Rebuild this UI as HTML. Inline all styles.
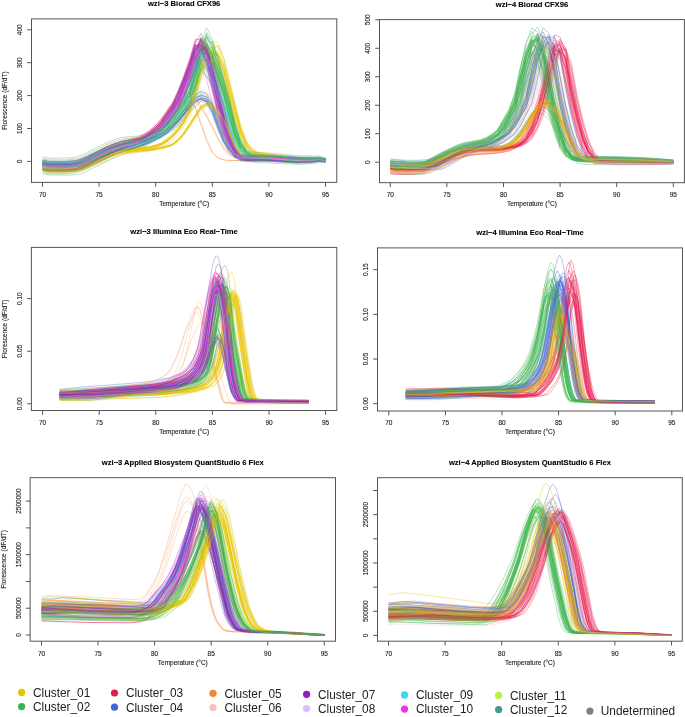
<!DOCTYPE html><html><head><meta charset="utf-8"><style>
html,body{margin:0;padding:0;background:#fff;}svg{display:block;will-change:transform}
.t{font-family:"Liberation Sans", sans-serif;font-size:6.5px;fill:#222;stroke:#222;stroke-width:0.12px}
.ti{font-family:"Liberation Sans", sans-serif;font-size:7.6px;font-weight:bold;fill:#000;stroke:#000;stroke-width:0.1px}
.lg{font-family:"Liberation Sans", sans-serif;font-size:11.85px;fill:#222}
</style></head><body>
<svg width="685" height="717" viewBox="0 0 685 717">
<rect width="685" height="717" fill="#fff"/>
<g transform="translate(42.5,161.4) scale(5.6600,-0.2500)" fill="none" stroke-linejoin="round">
<path d="M0-21l1-4 3 0 2 5 2 20 3 36 1 10 1 9 4 27 1 12 1 17 1 18 1 24 2 66 1 47 1 58 1 62 1 76 1 8 1-55 2-199 1-90 1-65 1-38 1-11 5-1 3-6 3-3 3 4 1-4" stroke="#911EB4" stroke-opacity="0.45" stroke-width="0.8" vector-effect="non-scaling-stroke"/>
<path d="M0-18l1-6 3 0 2 4 2 15 5 49 1 5 4 5 1 3 2 14 1 14 1 19 1 26 1 32 1 46 2 156 1 44 1 22 1-9 1-61 2-171 1-74 1-50 1-24 1-8 2-6 4-16 2-3 3 2 1-6" stroke="#E6C300" stroke-opacity="0.45" stroke-width="0.8" vector-effect="non-scaling-stroke"/>
<path d="M0-27l1-4 2 0 2 3 1 4 2 21 2 25 3 31 3 18 1 7 1 10 2 27 1 17 1 20 3 97 1 58 1 104 1 75 1-16 1-64 2-157 1-102 1-70 1-41 1-20 1-4 8-11 4 4 1-4" stroke="#3CB44B" stroke-opacity="0.45" stroke-width="0.8" vector-effect="non-scaling-stroke"/>
<path d="M0-23l1-2 2 0 2 2 1 4 2 16 1 10 4 31 4 18 2 18 2 24 1 15 2 47 1 27 1 48 1 75 1 51 1-20 1-49 2-118 1-74 1-50 1-28 1-12 1-3 7-7 2 0 2 3 1 0 1-3" stroke="#469990" stroke-opacity="0.45" stroke-width="0.8" vector-effect="non-scaling-stroke"/>
<path d="M0-28l1-3 3 0 2 5 1 8 4 41 2 18 4 21 2 16 2 22 1 16 1 20 1 24 2 55 1 22 1 5 1-14 1-44 1-62 1-53 1-34 1-20 1-6 1-1 3 0 6-8 4 4 1-4" stroke="#42D4F4" stroke-opacity="0.45" stroke-width="0.8" vector-effect="non-scaling-stroke"/>
<path d="M0-17l4 1 1 2 1 6 4 42 2 18 1 7 3 16 1 8 2 29 1 18 1 26 1 30 1 35 2 104 1 62 1 45 1-31 1-74 2-181 1-67 1-43 1-19 1-3 4 0 6-9 3 3 1-4 1-1" stroke="#F032E6" stroke-opacity="0.45" stroke-width="0.8" vector-effect="non-scaling-stroke"/>
<path d="M0-38l1-5 3 0 2 5 2 16 5 50 1 5 3 8 2 8 1 7 1 10 1 15 1 22 1 27 1 35 1 49 2 160 1 44 1 19 1-14 1-68 2-178 1-75 1-50 1-22 1-7 5-19 2-4 4 3 1-4" stroke="#E6C300" stroke-opacity="0.45" stroke-width="0.8" vector-effect="non-scaling-stroke"/>
<path d="M0-33l1-6 4 0 1 3 1 6 5 55 2 18 4 27 2 25 2 32 1 23 2 62 1 37 2 168 1 45 1-44 1-70 1-72 2-172 1-57 1-30 1-10 1-3 7-8 3 2 1 4 1-3" stroke="#3CB44B" stroke-opacity="0.45" stroke-width="0.8" vector-effect="non-scaling-stroke"/>
<path d="M0-19l2-6 3 0 2 5 5 55 2 19 1 7 3 15 2 21 2 29 1 19 1 28 2 63 1 51 1 100 1 74 1-8 1-58 2-149 1-97 1-69 1-42 1-20 1-4 8-11 4 4" stroke="#3CB44B" stroke-opacity="0.45" stroke-width="0.8" vector-effect="non-scaling-stroke"/>
<path d="M0-19l1-5 1-1 2 0 2 4 1 7 4 41 2 18 1 7 3 14 1 8 2 21 2 29 1 23 2 56 1 37 2 159 1 25 1-46 2-131 2-156 1-47 1-25 1-6 2-4 7-7 2 1 1 3 1-4" stroke="#BFEF45" stroke-opacity="0.45" stroke-width="0.8" vector-effect="non-scaling-stroke"/>
<path d="M0-2l1-3 3 0 2 5 5 50 2 18 1 5 3 9 3 21 1 11 1 15 1 19 1 24 1 29 2 47 1 3 1-15 1-44 1-62 1-50 1-33 1-18 1-5 5-1 4-8 5-2 1-5" stroke="#4363D8" stroke-opacity="0.45" stroke-width="0.8" vector-effect="non-scaling-stroke"/>
<path d="M0-40l1-8 3 0 2 4 2 15 5 52 1 7 5 17 2 16 1 15 1 20 1 27 1 34 1 45 1 77 1 86 1 52 1 25 1-2 1-57 3-266 1-57 1-29 1-10 2-7 2-10 2-6 2-2 3 4 1-4" stroke="#E6C300" stroke-opacity="0.45" stroke-width="0.8" vector-effect="non-scaling-stroke"/>
<path d="M0 10l2-5 3 0 2 5 2 16 2 19 2 15 2 10 3 9 2 20 1 14 1 18 2 50 1 37 1 44 1 47 1 57 1-7 1-47 2-151 1-64 1-44 1-24 1-6 5 0 4-8 5-3" stroke="#DCBEFF" stroke-opacity="0.45" stroke-width="0.8" vector-effect="non-scaling-stroke"/>
<path d="M0-16l1-2 3 0 1 2 1 5 1 9 3 35 2 21 2 15 3 18 1 13 1 16 1 18 1 26 2 66 1 50 1 57 1 61 1 74 1-9 1-62 2-199 1-84 1-59 1-32 1-8 5 0 4-8 3-1 2 2 1-4" stroke="#E6194B" stroke-opacity="0.45" stroke-width="0.8" vector-effect="non-scaling-stroke"/>
<path d="M0-4l1-5 3 0 2 3 1 7 4 39 2 16 1 6 3 13 1 9 2 26 1 18 1 26 1 27 1 35 2 98 1 62 1 29 1-34 1-76 2-166 1-59 1-37 1-15 5-1 6-9 2 0 1 2 1-5" stroke="#FABEBE" stroke-opacity="0.45" stroke-width="0.8" vector-effect="non-scaling-stroke"/>
<path d="M0-30l2-6 3 0 2 5 6 60 5 37 2 28 1 18 1 22 2 62 1 44 1 53 1 56 1 69 1 3 1-52 2-183 1-82 1-58 1-34 1-9 5-1 4-6 2 0 3 6" stroke="#DCBEFF" stroke-opacity="0.45" stroke-width="0.8" vector-effect="non-scaling-stroke"/>
<path d="M0-31l1-3 3 0 2 6 2 17 5 52 4 9 2 7 1 7 1 11 1 16 1 23 1 29 1 38 1 54 1 89 1 73 1 39 1 17 1-23 1-79 2-183 1-69 1-46 1-18 1-6 5-20 2-4 3 2 1-1 1-4" stroke="#E6C300" stroke-opacity="0.45" stroke-width="0.8" vector-effect="non-scaling-stroke"/>
<path d="M0-18l1-7 4 0 1 3 1 7 4 48 2 21 2 16 2 10 1 7 2 25 2 33 1 24 2 66 1 40 1 85 1 97 1 49 1-46 1-75 1-77 2-185 1-62 1-32 1-11 2-5 7-9 2 1 1 3 1-3" stroke="#3CB44B" stroke-opacity="0.4" stroke-width="0.8" vector-effect="non-scaling-stroke"/>
<path d="M0 4l1-7 3 0 2 4 1 7 4 46 2 20 1 7 3 10 1 5 2 15 1 11 1 15 1 19 1 24 2 61 1 26 1 15 1-10 1-35 2-127 1-43 1-28 1-9 1-2 5-2 5-11 2 0 1 2 1-7" stroke="#4363D8" stroke-opacity="0.45" stroke-width="0.8" vector-effect="non-scaling-stroke"/>
<path d="M0-26l1-7 3 0 2 4 1 7 4 47 2 21 4 30 1 11 2 34 1 22 1 32 1 34 1 42 2 120 1 72 1 49 1-36 1-87 2-209 1-77 1-50 1-22 1-4 4 0 5-8 3 2 1 3 1-4" stroke="#FABEBE" stroke-opacity="0.45" stroke-width="0.8" vector-effect="non-scaling-stroke"/>
<path d="M0-10l1-2 3 0 1 2 1 5 2 20 3 35 1 9 1 8 4 24 1 12 1 15 1 18 1 25 2 66 1 49 1 57 1 60 1 72 1-12 1-62 2-196 1-82 1-57 1-31 1-7 5 0 5-9 2 0 1 2 1-1 1-5" stroke="#E6194B" stroke-opacity="0.45" stroke-width="0.8" vector-effect="non-scaling-stroke"/>
<path d="M0-15l1-5 4-1 1 2 1 5 2 20 2 23 2 19 2 15 2 11 1 8 1 13 1 16 1 18 1 25 2 65 1 49 1 56 2 127 1-17 1-64 2-192 1-78 1-53 1-29 1-6 5 0 1-3 4-5 3 3 1-2" stroke="#4363D8" stroke-opacity="0.45" stroke-width="0.8" vector-effect="non-scaling-stroke"/>
<path d="M0 10l1-5 3 0 2 5 1 9 4 45 2 19 1 6 3 8 2 16 1 11 1 14 1 16 1 26 2 59 1 46 1 98 1 78 1 6 1-55 2-143 1-93 1-72 1-44 1-23 2-6 7-12 3-2 1 1 1-7" stroke="#3CB44B" stroke-opacity="0.45" stroke-width="0.8" vector-effect="non-scaling-stroke"/>
<path d="M0-8l1-6 3-1 2 3 1 6 4 44 2 19 2 13 2 8 1 6 1 9 2 25 1 15 1 21 2 58 1 36 1 74 1 88 1 48 1-40 1-65 1-69 2-166 1-56 1-30 1-11 2-4 7-9 2 0 1 2 1-3" stroke="#BFEF45" stroke-opacity="0.45" stroke-width="0.8" vector-effect="non-scaling-stroke"/>
<path d="M0-15l1-1 1-5 3 0 2 5 1 8 5 57 2 16 3 18 1 12 1 16 1 17 1 23 2 65 1 45 1 57 1 61 1 75 1 18 1-49 3-289 1-66 1-40 1-13 5-1 2-5 4-5 3 4" stroke="#4363D8" stroke-opacity="0.45" stroke-width="0.8" vector-effect="non-scaling-stroke"/>
<path d="M0-2l1-3 3 0 2 6 2 19 4 44 2 14 3 15 1 11 2 31 1 23 2 63 1 46 1 55 1 59 1 74 1 1 1-56 2-191 1-84 1-60 1-34 1-8 5-1 5-10 4 1 1-6" stroke="#E6194B" stroke-opacity="0.45" stroke-width="0.8" vector-effect="non-scaling-stroke"/>
<path d="M0 6l1-6 3 0 2 4 1 7 4 43 2 19 1 6 3 13 1 8 2 28 1 19 1 28 1 30 1 38 2 109 1 68 1 37 1-37 1-82 2-186 1-67 1-41 1-17 1-2 4 0 6-11 3 1 1-6" stroke="#911EB4" stroke-opacity="0.45" stroke-width="0.8" vector-effect="non-scaling-stroke"/>
<path d="M0-25l1-5 1-2 2 0 2 3 1 5 2 19 4 42 2 15 3 15 2 18 1 10 1 14 1 17 1 22 1 26 1 31 1 26 1 20 1-1 1-21 1-52 1-67 1-49 1-31 1-16 1-5 5-1 1-3 4-5 3 4 1-1" stroke="#3CB44B" stroke-opacity="0.45" stroke-width="0.8" vector-effect="non-scaling-stroke"/>
<path d="M0-33l1-5 3 0 1 1 1 4 1 6 1 9 5 51 1 5 2 4 3 10 1 6 1 10 1 15 1 21 1 27 1 35 1 48 2 160 1 44 1 21 1-12 1-67 2-178 1-75 1-51 1-23 1-7 4-16 2-6 2-2 3 3 1-5" stroke="#E6C300" stroke-opacity="0.45" stroke-width="0.8" vector-effect="non-scaling-stroke"/>
<path d="M0-22l1-4 3 0 2 5 2 21 4 47 1 9 4 27 1 13 1 17 1 19 1 24 2 68 1 48 1 59 1 63 1 78 1 12 1-54 3-298 1-67 1-40 1-13 4 0 6-9 2 0 2 3 1-4" stroke="#F032E6" stroke-opacity="0.45" stroke-width="0.8" vector-effect="non-scaling-stroke"/>
<path d="M0-5l1-6 4 0 2 8 5 55 1 9 2 13 2 10 1 8 2 28 1 19 1 27 2 66 2 109 2 124 1-26 1-71 2-195 1-75 1-50 1-25 1-4 4 0 4-8 2-2 2 0 1 2 1-3" stroke="#F032E6" stroke-opacity="0.45" stroke-width="0.8" vector-effect="non-scaling-stroke"/>
<path d="M0-4l1-5 3 0 2 4 1 6 4 38 2 15 1 6 3 10 1 6 3 30 1 14 1 20 2 50 1 35 1 78 1 67 1 15 1-42 2-119 1-75 1-64 1-40 1-21 1-5 5-5 3-5 4 1 1-5" stroke="#469990" stroke-opacity="0.45" stroke-width="0.8" vector-effect="non-scaling-stroke"/>
<path d="M0-18l1-3 3 0 2 6 1 9 4 45 2 18 4 25 2 28 1 18 1 24 2 64 1 47 1 56 1 60 1 74 1 0 1-56 2-194 1-85 1-61 1-34 1-10 5 0 5-9 4 3 1-4" stroke="#911EB4" stroke-opacity="0.45" stroke-width="0.8" vector-effect="non-scaling-stroke"/>
<path d="M0-21l1-5 4 0 1 3 1 6 2 18 1 11 3 25 2 13 2 9 1 7 2 20 2 27 1 21 2 52 1 34 2 146 1 29 1-41 2-122 2-146 1-45 1-24 1-7 1-2 8-8 3 4 1-3" stroke="#469990" stroke-opacity="0.45" stroke-width="0.8" vector-effect="non-scaling-stroke"/>
<path d="M0-20l1-7 3 0 2 4 2 14 5 50 1 5 5 10 1 5 1 8 1 13 1 19 1 25 1 31 1 44 2 156 1 48 1 24 1-2 1-55 3-250 1-53 1-27 1-9 5-20 3-6 3 2 1-6" stroke="#E6C300" stroke-opacity="0.45" stroke-width="0.8" vector-effect="non-scaling-stroke"/>
<path d="M0-28l1-6 3-1 2 4 1 6 4 48 2 21 1 9 4 27 2 26 1 15 1 18 1 24 2 66 1 39 1 84 1 96 1 49 1-46 1-74 1-76 2-184 1-62 1-32 1-11 1-3 8-10 2 2 1 4 1-3" stroke="#3CB44B" stroke-opacity="0.45" stroke-width="0.8" vector-effect="non-scaling-stroke"/>
<path d="M0-16l2-5 3 0 2 5 1 8 5 50 1 8 4 23 2 26 1 16 1 22 2 59 1 43 1 51 1 54 1 68 1 1 1-51 2-177 1-78 1-56 1-31 1-9 1-1 3 1 6-8 2 0 2 3" stroke="#DCBEFF" stroke-opacity="0.45" stroke-width="0.8" vector-effect="non-scaling-stroke"/>
<path d="M0-22l1-3 3 0 2 5 7 71 1 7 3 14 1 7 2 19 1 12 2 37 1 26 1 31 2 51 1 5 1-14 1-46 1-67 1-55 1-36 1-22 1-6 5-1 2-5 3-4 2 0 2 3 1-5" stroke="#911EB4" stroke-opacity="0.45" stroke-width="0.8" vector-effect="non-scaling-stroke"/>
<path d="M0-5l1-5 3 0 2 4 2 18 2 23 3 30 1 6 3 11 2 13 1 9 1 11 1 15 1 19 1 24 2 58 1 25 1 11 1-11 1-39 2-122 1-39 1-25 1-7 1-2 4 0 6-11 3 2 1-6" stroke="#3CB44B" stroke-opacity="0.45" stroke-width="0.8" vector-effect="non-scaling-stroke"/>
<path d="M0-49l1-5 4-1 1 2 1 5 5 55 2 20 4 32 1 12 2 29 2 39 2 63 1 35 1 65 1 96 1 65 1-29 1-66 1-76 1-80 1-97 1-65 1-36 1-16 1-3 8-7 4 9" stroke="#3CB44B" stroke-opacity="0.45" stroke-width="0.8" vector-effect="non-scaling-stroke"/>
<path d="M0 2l2-6 3 0 2 6 1 8 4 40 2 16 1 5 3 8 2 13 2 20 1 15 1 19 1 23 1 28 2 45 1 2 1-16 1-44 1-62 1-47 1-30 1-16 1-5 5-1 4-9 5-2" stroke="#4363D8" stroke-opacity="0.45" stroke-width="0.8" vector-effect="non-scaling-stroke"/>
<path d="M0-25l1-2 3 0 2 5 5 44 3 20 3 14 2 18 2 24 1 16 3 74 1 49 1 76 1 53 1-20 1-50 2-119 1-76 1-50 1-29 1-13 1-3 7-7 2 0 2 3 1 0 1-3" stroke="#469990" stroke-opacity="0.45" stroke-width="0.8" vector-effect="non-scaling-stroke"/>
<path d="M0-20l1-7 3 0 2 4 2 14 5 50 1 6 3 4 2 5 2 14 1 13 1 20 1 25 1 32 1 45 2 158 1 48 1 23 1-4 1-57 2-173 1-79 1-53 1-26 1-9 5-20 3-6 3 2 1-6" stroke="#E6C300" stroke-opacity="0.45" stroke-width="0.8" vector-effect="non-scaling-stroke"/>
<path d="M0-6l1-7 3 0 2 4 1 7 4 42 2 18 1 7 3 11 3 21 1 10 1 15 1 18 1 22 2 56 1 24 1 14 1-9 1-32 2-118 1-40 1-26 1-9 1-2 4 0 6-11 3 3 1-6" stroke="#4363D8" stroke-opacity="0.45" stroke-width="0.8" vector-effect="non-scaling-stroke"/>
<path d="M0-22l1-4 3 0 2 5 1 9 3 35 2 21 2 17 2 12 1 8 1 12 1 16 1 19 1 23 2 66 1 46 1 58 1 62 1 76 1 15 1-51 3-292 1-66 1-40 1-13 5-1 5-9 4 4 1-5" stroke="#911EB4" stroke-opacity="0.45" stroke-width="0.8" vector-effect="non-scaling-stroke"/>
<path d="M0-18l1-5 3 0 2 5 1 7 3 32 2 20 1 8 1 7 3 13 3 24 1 12 1 15 1 19 1 23 1 30 2 51 1 9 1-12 1-39 2-118 1-37 1-24 1-7 1-2 4 0 6-9 3 4 1-5" stroke="#911EB4" stroke-opacity="0.45" stroke-width="0.8" vector-effect="non-scaling-stroke"/>
<path d="M0-12l1-5 4-1 1 2 1 5 2 20 2 23 2 19 2 14 3 14 1 9 2 25 1 15 1 19 2 58 1 32 1 62 1 92 1 63 1-27 1-62 1-71 1-75 1-90 1-61 1-34 1-14 2-5 7-9 2 0 1 2 1-1" stroke="#3CB44B" stroke-opacity="0.45" stroke-width="0.8" vector-effect="non-scaling-stroke"/>
<path d="M0-21l1-6 3 0 2 5 1 8 6 66 3 25 2 25 1 17 1 21 4 124 1 8 1-2 1-22 2-70 2-89 1-39 1-26 1-9 1-3 4-1 6-9 2 0 2 4 1-5" stroke="#F58231" stroke-opacity="0.45" stroke-width="0.8" vector-effect="non-scaling-stroke"/>
<path d="M0-7l1-6 3-1 2 4 1 6 2 22 2 25 2 21 1 8 3 16 1 9 2 31 1 21 1 28 2 72 2 117 2 131 1-29 1-78 2-208 1-80 1-53 1-25 1-5 4 0 4-8 3-3 2 3 1-4" stroke="#911EB4" stroke-opacity="0.45" stroke-width="0.8" vector-effect="non-scaling-stroke"/>
<path d="M0 2l1-4 3 0 2 4 1 7 4 37 2 14 1 5 3 9 1 5 1 8 2 21 1 14 1 21 2 48 1 38 1 79 1 61 1 1 1-44 2-117 1-75 1-56 1-34 1-18 1-4 5-5 3-5 4 0 1-5" stroke="#469990" stroke-opacity="0.45" stroke-width="0.8" vector-effect="non-scaling-stroke"/>
<path d="M0-17l1-6 3 0 2 5 1 8 5 56 1 9 4 26 1 11 2 33 1 22 1 31 1 33 1 43 2 117 1 73 1 26 1-45 3-286 1-68 1-42 1-15 4-1 6-9 2 0 2 3 1-5" stroke="#911EB4" stroke-opacity="0.45" stroke-width="0.8" vector-effect="non-scaling-stroke"/>
<path d="M0-22l1-8 4 0 1 3 2 14 5 53 1 7 5 11 1 5 1 8 1 13 1 19 1 26 1 31 1 44 1 70 1 92 1 59 1 30 1 7 1-47 3-272 1-61 1-34 1-13 2-7 3-14 2-6 1-1 3 2 1-5" stroke="#E6C300" stroke-opacity="0.45" stroke-width="0.8" vector-effect="non-scaling-stroke"/>
<path d="M0-19l1-6 3 0 2 4 1 7 3 35 3 30 2 13 2 10 1 8 1 11 2 27 1 17 1 25 2 61 1 42 1 92 1 82 1 22 1-51 2-144 1-91 1-78 1-50 1-26 1-7 1-2 7-9 3 1 1 3 1-5" stroke="#3CB44B" stroke-opacity="0.45" stroke-width="0.8" vector-effect="non-scaling-stroke"/>
<path d="M0-14l1-6 3 0 2 4 1 8 5 58 2 17 3 18 1 11 1 15 1 18 1 22 2 65 1 42 2 119 1 74 1 39 1-40 1-91 2-204 1-73 1-46 1-18 1-3 4 0 4-8 2-2 2 1 1 3 1-6" stroke="#E6194B" stroke-opacity="0.45" stroke-width="0.8" vector-effect="non-scaling-stroke"/>
<path d="M0-7l1-6 3 0 2 3 1 7 4 46 2 19 1 8 3 13 1 6 2 22 2 30 1 23 2 61 1 39 2 172 1 41 1-46 2-142 2-172 1-56 1-29 1-9 1-3 8-11 2 0 1 3 1-5" stroke="#3CB44B" stroke-opacity="0.45" stroke-width="0.8" vector-effect="non-scaling-stroke"/>
<path d="M0-22l1-8 3 0 2 3 1 5 2 18 4 40 1 7 5 10 1 5 1 8 1 12 1 17 1 25 1 30 1 40 1 66 1 86 1 56 1 28 1 6 1-44 3-254 1-58 1-32 1-12 5-20 3-6 3 2 1-4" stroke="#E6C300" stroke-opacity="0.45" stroke-width="0.8" vector-effect="non-scaling-stroke"/>
<path d="M0-18l1-6 3 0 2 4 2 16 2 22 3 29 1 7 3 13 3 24 1 10 1 15 1 19 1 22 1 29 2 52 1 12 1-9 1-34 2-118 1-40 1-26 1-8 1-3 4 0 5-8 2 0 2 3 1-5" stroke="#911EB4" stroke-opacity="0.45" stroke-width="0.8" vector-effect="non-scaling-stroke"/>
<path d="M0-10l2-6 4 2 1 4 6 60 2 15 1 4 2 12 2 26 1 17 1 22 2 61 1 44 2 110 1 71 1 3 1-52 2-185 1-81 1-59 1-33 1-9 5-1 5-9 4 2" stroke="#4363D8" stroke-opacity="0.45" stroke-width="0.8" vector-effect="non-scaling-stroke"/>
<path d="M0-23l2-6 3 0 2 6 1 9 3 35 2 21 2 17 3 21 1 13 1 17 1 18 1 25 2 67 1 49 1 58 1 62 1 76 1 0 1-58 2-200 1-89 1-63 1-36 1-10 5 0 4-8 2 0 3 4" stroke="#911EB4" stroke-opacity="0.45" stroke-width="0.8" vector-effect="non-scaling-stroke"/>
<path d="M0-30l1-5 4-1 2 8 4 44 2 20 1 9 2 13 2 18 2 31 1 20 1 28 1 32 1 37 2 110 2 128 1-24 1-70 2-199 1-79 1-53 1-28 1-5 4 0 5-7 2 0 2 5 1-1" stroke="#4363D8" stroke-opacity="0.45" stroke-width="0.8" vector-effect="non-scaling-stroke"/>
<path d="M0-32l1-6 3 0 2 4 1 8 4 47 1 10 2 18 3 22 1 12 2 35 1 23 1 32 1 34 1 44 2 119 1 74 1 31 1-44 3-293 1-71 1-44 1-17 1-2 4 0 5-8 2 1 2 5 1-4" stroke="#911EB4" stroke-opacity="0.45" stroke-width="0.8" vector-effect="non-scaling-stroke"/>
<path d="M0-13l1-6 3 0 2 3 1 7 5 57 2 17 3 18 1 10 2 32 1 21 1 30 1 33 1 40 2 116 1 72 1 43 1-37 1-85 2-201 1-73 1-47 1-19 1-3 4 0 4-8 2-2 2 1 1 3 1-5" stroke="#911EB4" stroke-opacity="0.45" stroke-width="0.8" vector-effect="non-scaling-stroke"/>
<path d="M0-14l1-7 3 0 2 3 1 5 1 8 5 49 1 6 5 7 2 12 1 11 1 17 1 24 1 30 1 40 1 66 1 83 1 54 1 27 1 6 1-45 3-248 1-56 1-30 1-12 4-16 3-9 4 0 1-5" stroke="#E6C300" stroke-opacity="0.45" stroke-width="0.8" vector-effect="non-scaling-stroke"/>
<path d="M0 3l2-6 3 0 2 6 1 9 3 33 2 19 2 12 3 10 1 8 1 10 2 26 1 17 3 85 1 55 1 92 1 67 1-18 1-57 2-139 1-90 1-61 1-35 1-17 1-4 3-3 5-9 4-1" stroke="#3CB44B" stroke-opacity="0.45" stroke-width="0.8" vector-effect="non-scaling-stroke"/>
<path d="M0-7l2-6 3 0 2 4 2 19 3 33 2 18 1 6 3 12 1 8 1 10 2 26 1 17 1 25 2 59 1 44 1 95 1 75 1 5 1-52 2-140 1-91 1-70 1-43 1-22 1-5 1-2 4-4 2-4 2-2 3 2" stroke="#3CB44B" stroke-opacity="0.45" stroke-width="0.8" vector-effect="non-scaling-stroke"/>
<path d="M0-29l4-1 2 6 2 18 1 11 3 26 2 13 3 16 2 20 2 26 1 18 2 52 1 30 1 58 1 80 1 51 1-28 1-55 1-63 1-68 1-79 1-53 1-29 1-12 1-2 8-8 2 1 1 3 2-3" stroke="#42D4F4" stroke-opacity="0.45" stroke-width="0.8" vector-effect="non-scaling-stroke"/>
<path d="M0-11l2-6 3 0 2 4 2 19 4 44 2 15 3 17 2 26 1 17 1 22 2 63 1 43 1 55 1 59 1 72 1 18 1-48 3-278 1-63 1-39 1-13 5-1 5-9 4 2" stroke="#4363D8" stroke-opacity="0.45" stroke-width="0.8" vector-effect="non-scaling-stroke"/>
<path d="M0-13l1-6 1-2 2 0 1 1 2 8 4 50 2 21 2 16 2 9 1 7 2 24 2 32 1 23 2 66 1 38 1 78 1 102 1 62 1-39 1-73 2-167 1-100 1-66 1-35 1-14 1-3 7-11 3-1 1 3 1-3" stroke="#3CB44B" stroke-opacity="0.45" stroke-width="0.8" vector-effect="non-scaling-stroke"/>
<path d="M0-14l2-6 2 0 2 3 1 4 2 19 2 22 3 26 4 19 2 20 2 26 1 18 2 55 1 31 1 58 1 87 1 59 1-26 1-58 1-67 1-71 1-85 1-57 1-32 1-14 1-3 8-9 2 0 1 2 1-1" stroke="#3CB44B" stroke-opacity="0.45" stroke-width="0.8" vector-effect="non-scaling-stroke"/>
<path d="M0-8l1-5 4-1 2 8 2 20 3 34 1 9 1 8 3 16 1 8 1 13 1 16 1 18 1 26 2 66 2 108 2 128 1-22 1-68 2-195 1-77 1-53 1-27 1-5 4 0 5-9 2-1 2 3 1-3" stroke="#911EB4" stroke-opacity="0.45" stroke-width="0.8" vector-effect="non-scaling-stroke"/>
<path d="M0-5l1-5 1-2 3 1 2 6 5 55 1 9 1 8 3 16 1 7 1 12 1 16 1 18 1 24 2 65 1 49 1 57 1 60 1 73 1-11 1-62 2-195 1-82 1-57 1-31 1-7 4 0 7-11 2 2 1-1" stroke="#E6194B" stroke-opacity="0.45" stroke-width="0.8" vector-effect="non-scaling-stroke"/>
<path d="M0-10l1-6 3 0 2 4 1 6 4 47 2 20 4 24 1 10 2 32 1 20 1 30 1 33 1 40 2 116 1 70 1 47 1-36 1-84 2-202 1-73 1-48 1-20 1-3 4 0 4-8 2-2 3 3 1-5" stroke="#911EB4" stroke-opacity="0.45" stroke-width="0.8" vector-effect="non-scaling-stroke"/>
<path d="M0-11l1-6 3 0 2 3 2 16 4 41 2 15 3 16 1 9 2 28 1 19 1 26 1 29 1 36 2 103 1 62 1 44 1-32 1-74 2-180 1-66 1-43 1-18 1-3 4-1 6-8 3 3 1-4" stroke="#FABEBE" stroke-opacity="0.45" stroke-width="0.8" vector-effect="non-scaling-stroke"/>
<path d="M0-27l1-8 3 0 2 4 1 6 1 9 5 53 1 6 4 9 1 4 1 6 1 9 1 14 1 20 1 28 1 33 1 47 2 166 1 52 1 26 1-3 1-59 3-268 1-57 1-29 1-10 5-20 2-6 4 2 1-5" stroke="#E6C300" stroke-opacity="0.45" stroke-width="0.8" vector-effect="non-scaling-stroke"/>
<path d="M0-35l1-7 4 0 1 3 1 6 1 10 3 36 3 32 4 26 2 21 1 12 1 16 1 21 1 25 3 93 1 21 1-5 1-28 1-60 1-75 1-52 1-34 1-16 1-5 4 0 5-8 2 0 2 6 1-2" stroke="#FABEBE" stroke-opacity="0.45" stroke-width="0.8" vector-effect="non-scaling-stroke"/>
<path d="M0-15l1-6 3 0 1 1 1 4 1 8 4 49 2 21 4 27 1 12 1 16 1 19 1 23 2 68 1 46 1 60 1 65 1 78 1 35 1-45 1-97 2-212 1-74 1-47 1-18 1-2 4 0 5-10 2 0 2 3 1-5" stroke="#911EB4" stroke-opacity="0.45" stroke-width="0.8" vector-effect="non-scaling-stroke"/>
<path d="M0-7l1-7 3 0 2 4 1 6 4 45 2 19 1 7 3 13 1 6 2 22 2 29 1 23 2 59 1 38 2 169 1 35 1-46 2-139 2-166 1-53 1-27 1-9 1-2 8-11 3 3 1-5" stroke="#3CB44B" stroke-opacity="0.45" stroke-width="0.8" vector-effect="non-scaling-stroke"/>
<path d="M0-8l1-5 3 0 2 5 1 9 4 46 2 19 2 11 2 8 1 8 2 23 1 15 1 17 1 27 2 61 1 48 1 99 1 77 1 2 1-56 2-147 1-95 1-72 1-43 1-23 2-6 3-3 4-7 1-1 3 2 1-5" stroke="#3CB44B" stroke-opacity="0.45" stroke-width="0.8" vector-effect="non-scaling-stroke"/>
<path d="M0-11l1-5 1-2 2 0 2 3 1 6 4 47 3 30 4 21 2 23 1 14 1 17 1 21 2 64 1 37 1 73 1 100 1 63 1-36 1-70 2-161 1-97 1-65 1-35 1-15 8-13 3-1 1 2 1-2" stroke="#3CB44B" stroke-opacity="0.45" stroke-width="0.8" vector-effect="non-scaling-stroke"/>
<path d="M0-19l1-6 3 0 2 4 2 18 3 34 2 19 1 8 3 18 1 11 2 32 1 22 1 30 1 32 1 41 2 114 1 71 1 31 1-41 1-88 2-192 1-67 1-43 1-16 1-3 4 0 5-8 4 4 1-5" stroke="#911EB4" stroke-opacity="0.45" stroke-width="0.8" vector-effect="non-scaling-stroke"/>
<path d="M0-23l1-8 3 0 2 5 1 7 6 60 1 5 5 4 1 3 2 10 1 9 1 18 1 26 3 106 1 14 1-6 1-22 1-37 2-107 1-35 1-7 1-2 3-2 5-10 3 0 1 3 1-6" stroke="#E6C300" stroke-opacity="0.45" stroke-width="0.8" vector-effect="non-scaling-stroke"/>
<path d="M0-23l1-7 1-1 2 0 2 4 1 6 5 48 2 14 5 5 2 7 2 12 1 16 1 23 3 100 1 19 1-2 1-19 1-32 1-45 1-57 1-38 1-9 1-3 4-3 5-9 3 3 1-3" stroke="#E6C300" stroke-opacity="0.45" stroke-width="0.8" vector-effect="non-scaling-stroke"/>
<path d="M0-17l1-3 3 0 2 6 1 9 5 56 2 15 3 19 2 28 1 18 1 24 2 66 1 47 1 58 1 61 1 75 1 4 1-56 2-198 1-88 1-63 1-36 1-10 5-1 5-9 2 0 2 3 1-5" stroke="#4363D8" stroke-opacity="0.45" stroke-width="0.8" vector-effect="non-scaling-stroke"/>
<path d="M0-16l1-6 3 0 2 4 1 7 1 10 4 44 2 16 3 17 1 11 2 31 1 21 1 29 1 31 1 40 2 111 1 69 1 35 1-38 1-85 2-190 1-67 1-43 1-17 1-2 4 0 3-6 3-3 3 4 1-5" stroke="#DCBEFF" stroke-opacity="0.45" stroke-width="0.8" vector-effect="non-scaling-stroke"/>
<path d="M0-16l1-6 3 0 2 4 1 7 3 35 2 22 1 9 5 34 1 12 2 32 1 22 1 29 2 69 1 11 1-49 2-130 1-49 1-22 1-8 1-2 17-3" stroke="#F58231" stroke-opacity="0.75" stroke-width="0.8" vector-effect="non-scaling-stroke"/>
<path d="M0-9l1-5 3 0 2 4 1 9 3 35 3 32 1 7 3 12 1 6 2 18 1 12 2 37 1 25 2 63 1 26 1 12 1-13 1-42 2-130 1-41 1-27 1-7 1-3 4 0 6-11 3 3 1-6" stroke="#FABEBE" stroke-opacity="0.45" stroke-width="0.8" vector-effect="non-scaling-stroke"/>
<path d="M0-15l1-3 3 0 2 5 2 21 3 36 2 19 1 7 3 14 1 9 2 25 1 16 1 18 3 94 1 53 1 103 1 76 1-9 1-60 2-153 1-99 1-71 1-42 1-21 1-4 8-12 2 0 2 3 1-6" stroke="#BFEF45" stroke-opacity="0.45" stroke-width="0.8" vector-effect="non-scaling-stroke"/>
<path d="M0-18l1-5 3-1 2 3 1 5 4 44 2 19 2 14 3 16 2 22 2 29 1 21 2 59 1 35 1 70 1 90 1 55 1-36 1-65 1-70 1-79 1-89 1-59 1-32 1-12 1-3 8-10 2 1 1 3 1-2" stroke="#3CB44B" stroke-opacity="0.45" stroke-width="0.8" vector-effect="non-scaling-stroke"/>
<path d="M0-31l1-3 3 0 2 5 1 9 4 45 2 18 4 29 1 13 1 17 1 18 1 24 2 66 1 46 1 57 1 59 1 74 1 3 1-55 2-194 1-87 1-61 1-36 1-11 5 0 5-8 1 0 3 5 1-3" stroke="#4363D8" stroke-opacity="0.45" stroke-width="0.8" vector-effect="non-scaling-stroke"/>
<path d="M0-9l1-5 4 1 1 4 2 18 4 45 1 9 1 7 3 12 1 6 2 17 1 12 1 16 1 20 1 24 1 32 2 54 1 9 1-12 1-42 2-125 1-39 1-25 1-7 1-2 4 0 5-10 3 0 1 2 1-6" stroke="#42D4F4" stroke-opacity="0.45" stroke-width="0.8" vector-effect="non-scaling-stroke"/>
<path d="M0-14l1-4 3 0 2 4 2 17 4 41 2 15 3 16 1 10 1 14 1 16 1 20 2 58 1 40 1 51 1 54 1 68 1 19 1-43 3-259 1-60 1-37 1-12 5-1 3-6 3-3 3 3 1-4" stroke="#F032E6" stroke-opacity="0.45" stroke-width="0.8" vector-effect="non-scaling-stroke"/>
<path d="M0-13l2-6 3 0 2 5 1 9 4 45 2 18 4 25 1 12 1 15 1 18 1 23 2 64 1 46 1 56 1 60 1 73 1 5 1-54 2-193 1-86 1-62 1-36 1-10 5 0 2-5 3-4 2 0 2 3" stroke="#E6194B" stroke-opacity="0.45" stroke-width="0.8" vector-effect="non-scaling-stroke"/>
<path d="M0-2l1-6 3 0 2 4 1 7 1 10 4 44 2 15 3 14 1 10 1 13 1 16 1 20 1 28 1 31 1 38 2 110 1 69 1 37 1-37 1-83 2-189 1-67 1-42 1-17 1-3 4 0 6-10 2 0 1 2 1-6" stroke="#4363D8" stroke-opacity="0.45" stroke-width="0.8" vector-effect="non-scaling-stroke"/>
<path d="M0-25l1-6 4 0 1 3 1 6 5 55 2 18 2 12 2 18 2 32 1 21 1 29 1 32 1 39 2 113 1 67 1 49 1-34 1-80 2-197 1-73 1-47 1-22 1-3 5-1 1-3 3-4 3 2 1 3 1-4" stroke="#911EB4" stroke-opacity="0.45" stroke-width="0.8" vector-effect="non-scaling-stroke"/>
<path d="M0-28l1-6 4 0 1 3 1 6 6 67 1 9 3 21 1 11 2 33 1 21 1 30 1 34 1 39 2 116 1 69 1 59 1-30 1-79 2-208 1-78 1-53 1-25 1-5 4 0 5-8 3 2 1 3 1-2" stroke="#911EB4" stroke-opacity="0.45" stroke-width="0.8" vector-effect="non-scaling-stroke"/>
<path d="M0-26l2-5 3 0 1 1 1 4 2 17 4 40 5 35 1 12 2 31 1 22 2 59 1 43 2 104 1 67 1 4 1-50 2-176 1-79 1-56 1-33 1-9 5-1 4-6 3 1 2 4" stroke="#4363D8" stroke-opacity="0.45" stroke-width="0.8" vector-effect="non-scaling-stroke"/>
<path d="M0-26l1-7 4 1 1 4 1 7 6 59 2 6 4 4 1 3 2 10 1 10 1 19 1 26 3 105 1 11 1-8 1-23 1-37 2-106 1-32 1-7 4-3 4-8 2-2 2 1 1 3 1-6" stroke="#E6C300" stroke-opacity="0.45" stroke-width="0.8" vector-effect="non-scaling-stroke"/>
<path d="M0 18l1-5 4 1 1 4 1 8 4 46 2 18 1 6 3 6 1 6 1 9 2 24 1 16 1 25 2 58 1 45 1 97 1 78 1 8 1-54 2-142 1-92 1-71 1-44 1-23 1-5 5-7 3-7 4-2 1-7" stroke="#3CB44B" stroke-opacity="0.45" stroke-width="0.8" vector-effect="non-scaling-stroke"/>
<path d="M0-23l1-7 3 0 2 4 3 24 4 40 1 6 5 10 2 14 1 14 1 19 1 26 1 32 1 44 2 156 1 47 1 23 1-6 1-58 2-171 1-77 1-53 1-25 1-9 2-6 2-9 3-9 4 2 1-6" stroke="#E6C300" stroke-opacity="0.45" stroke-width="0.8" vector-effect="non-scaling-stroke"/>
<path d="M0-22l1-2 3 0 2 6 6 60 2 15 2 11 1 8 1 12 1 16 1 17 1 23 2 63 1 46 1 54 1 57 1 70 1-6 1-56 2-186 1-80 1-57 1-31 1-8 4 0 6-8 4 3 1-4" stroke="#FABEBE" stroke-opacity="0.45" stroke-width="0.8" vector-effect="non-scaling-stroke"/>
<path d="M0-30l1-7 3 0 1 1 1 4 1 7 6 59 1 5 5 7 1 3 2 11 1 10 1 19 1 27 3 104 1 10 1-7 1-24 1-37 2-107 1-32 1-6 1-2 3-2 6-9 1 0 2 4 1-5" stroke="#E6C300" stroke-opacity="0.45" stroke-width="0.8" vector-effect="non-scaling-stroke"/>
<path d="M0-12l1-5 1-2 2 0 2 3 1 5 5 60 1 10 1 9 4 22 1 10 1 12 2 31 1 21 2 65 1 36 1 68 1 104 1 71 1-28 1-69 2-162 1-102 1-69 1-38 1-17 1-3 9-13 2 3 1-1" stroke="#3CB44B" stroke-opacity="0.45" stroke-width="0.8" vector-effect="non-scaling-stroke"/>
<path d="M0-27l1-8 3 0 1 2 1 4 1 7 6 57 1 5 1 2 4 4 3 13 1 10 1 18 1 26 3 103 1 11 1-6 1-23 1-36 2-105 1-32 1-7 1-2 4-3 1-3 4-5 2 1 1 3 1-6" stroke="#E6C300" stroke-opacity="0.45" stroke-width="0.8" vector-effect="non-scaling-stroke"/>
<path d="M0-12l1-6 3 0 2 3 1 6 5 55 1 9 1 8 3 17 1 9 2 30 1 20 1 28 1 32 1 37 2 111 2 125 1-29 1-74 2-199 1-75 1-51 1-24 1-5 4 0 5-9 3 0 1 3 1-3" stroke="#911EB4" stroke-opacity="0.45" stroke-width="0.8" vector-effect="non-scaling-stroke"/>
<path d="M0-33l1-8 3 0 2 4 1 6 5 50 1 9 1 6 6 12 2 10 1 8 1 18 1 24 3 104 1 20 1-3 1-21 1-34 1-47 1-59 1-40 1-10 1-3 4-3 5-8 3 4 1-3" stroke="#E6C300" stroke-opacity="0.45" stroke-width="0.8" vector-effect="non-scaling-stroke"/>
<path d="M0-6l1-3 3 0 2 6 2 21 3 37 1 10 2 16 2 10 1 7 1 12 2 34 1 25 2 68 1 50 1 59 1 64 1 79 1 0 1-59 2-207 1-91 1-64 1-37 1-9 4 0 6-11 4 1 1-5" stroke="#F032E6" stroke-opacity="0.45" stroke-width="0.8" vector-effect="non-scaling-stroke"/>
<path d="M0-13l1-5 3 0 2 5 1 8 3 33 3 29 1 7 3 12 3 24 1 12 1 15 1 20 1 24 1 31 2 52 1 8 1-13 1-42 2-121 1-37 1-24 1-6 1-2 4 0 4-8 2-2 3 3 1-5" stroke="#42D4F4" stroke-opacity="0.45" stroke-width="0.8" vector-effect="non-scaling-stroke"/>
<path d="M0-15l1-6 3 0 2 4 1 7 5 57 2 20 2 15 1 11 1 13 1 16 1 20 4 124 1 10 1 0 1-21 1-32 1-38 2-88 1-40 1-28 1-10 1-3 5-2 4-8 2-2 3 4 1-5" stroke="#F58231" stroke-opacity="0.45" stroke-width="0.8" vector-effect="non-scaling-stroke"/>
<path d="M0-30l1-9 3 0 2 5 2 16 5 55 1 7 3 7 2 7 1 6 1 9 1 16 1 21 1 29 1 35 1 49 2 175 1 54 1 27 1-3 1-61 3-282 1-61 1-30 1-10 5-22 3-6 3 3 1-6" stroke="#E6C300" stroke-opacity="0.45" stroke-width="0.8" vector-effect="non-scaling-stroke"/>
<path d="M0-5l1-6 4 0 2 8 5 56 1 9 1 8 3 15 1 8 2 29 1 20 1 26 2 68 2 111 2 126 1-26 1-73 2-198 1-76 1-51 1-25 1-5 4 0 5-9 3-1 1 2 1-3" stroke="#E6194B" stroke-opacity="0.45" stroke-width="0.8" vector-effect="non-scaling-stroke"/>
<path d="M0-26l1-5 3 0 2 4 1 7 5 55 2 17 3 20 1 12 2 33 1 22 1 30 1 33 1 42 2 115 1 71 1 31 1-42 1-88 2-194 1-68 1-44 1-16 1-2 4 0 5-8 3 2 1 3 1-4" stroke="#F032E6" stroke-opacity="0.45" stroke-width="0.8" vector-effect="non-scaling-stroke"/>
<path d="M0-18l2-6 3 0 2 7 2 20 3 35 2 18 3 18 1 8 2 30 1 19 1 25 2 67 1 49 1 58 1 61 1 72 1-13 1-63 2-198 1-82 1-57 1-31 1-8 5 0 5-8 3 3 1-1" stroke="#911EB4" stroke-opacity="0.45" stroke-width="0.8" vector-effect="non-scaling-stroke"/>
<path d="M0-16l1-6 3 0 2 4 2 20 3 36 2 19 2 14 2 9 1 9 2 24 2 33 1 27 2 64 1 44 1 100 1 83 1 16 1-55 2-151 1-96 1-80 1-49 1-26 1-6 1-2 8-10 3 4 1-6" stroke="#3CB44B" stroke-opacity="0.45" stroke-width="0.8" vector-effect="non-scaling-stroke"/>
<path d="M0-23l1-4 3 0 2 4 2 15 5 46 1 4 5 10 2 14 1 14 1 19 1 25 1 32 1 45 2 148 1 40 1 19 1-13 1-62 2-163 1-68 1-46 1-21 1-6 6-21 1-2 3 2 1-1 1-4" stroke="#E6C300" stroke-opacity="0.45" stroke-width="0.8" vector-effect="non-scaling-stroke"/>
<path d="M0-6l1-6 3-1 1 1 2 8 5 55 1 9 2 13 2 10 1 8 2 29 1 19 1 27 2 68 2 109 2 122 1-27 1-73 2-195 1-74 1-50 1-24 1-4 4 0 5-9 3-1 1 2 1-3" stroke="#911EB4" stroke-opacity="0.45" stroke-width="0.8" vector-effect="non-scaling-stroke"/>
<path d="M0-33l1-8 3 0 2 6 1 6 1 9 5 49 1 5 5 8 3 15 1 9 1 19 1 26 3 103 1 11 1-7 1-23 1-36 2-106 1-32 1-7 4-3 5-9 2 0 2 4 1-5" stroke="#E6C300" stroke-opacity="0.45" stroke-width="0.8" vector-effect="non-scaling-stroke"/>
<path d="M0-2l1-6 4 0 2 8 4 48 2 20 1 8 4 18 2 22 2 29 1 22 2 62 1 37 1 77 1 96 1 55 1-40 1-69 1-74 2-178 1-61 1-32 1-13 1-3 8-12 2 0 1 2 1-4" stroke="#3CB44B" stroke-opacity="0.45" stroke-width="0.8" vector-effect="non-scaling-stroke"/>
<path d="M0-17l2-7 3 0 2 6 2 21 3 36 2 20 1 7 3 16 1 10 1 12 2 30 1 19 3 96 1 56 1 105 1 76 1-12 1-62 2-157 1-101 1-72 1-42 1-20 1-4 9-12 3 4" stroke="#3CB44B" stroke-opacity="0.45" stroke-width="0.8" vector-effect="non-scaling-stroke"/>
<path d="M0-43l1-7 3 0 2 5 1 8 6 68 1 9 3 20 1 9 2 22 1 13 1 18 1 22 1 27 2 65 1 28 1 14 1-12 1-40 2-136 1-46 1-30 1-10 1-3 4 0 5-8 2 1 2 6 1-4" stroke="#3CB44B" stroke-opacity="0.45" stroke-width="0.8" vector-effect="non-scaling-stroke"/>
<path d="M0-19l1-6 3 0 2 4 1 6 4 44 2 19 5 30 2 23 2 30 1 24 2 59 1 38 2 167 1 32 1-47 2-139 2-165 1-52 1-26 1-8 2-4 3-2 3-5 3 1 1 3 1-5" stroke="#3CB44B" stroke-opacity="0.45" stroke-width="0.8" vector-effect="non-scaling-stroke"/>
<path d="M0-17l1-8 3 0 2 4 1 6 2 18 4 43 1 7 5 8 1 5 1 8 1 13 1 19 1 26 1 33 1 44 1 73 1 91 1 57 1 29 1 5 1-50 3-270 1-61 1-32 1-13 2-7 3-14 2-6 4 0 1-5" stroke="#E6C300" stroke-opacity="0.45" stroke-width="0.8" vector-effect="non-scaling-stroke"/>
<path d="M0-8l1-5 3-1 2 3 1 5 4 42 2 19 5 30 2 28 1 18 1 25 2 65 2 103 2 119 1-25 1-68 2-186 1-72 1-48 1-23 1-5 4 0 4-7 2-2 2 0 1 2 1-3" stroke="#FABEBE" stroke-opacity="0.45" stroke-width="0.8" vector-effect="non-scaling-stroke"/>
<path d="M0-24l1-8 3 0 1 2 2 10 6 58 1 5 5 5 3 12 1 9 1 18 1 26 3 102 1 14 1-6 1-22 1-35 2-105 1-34 1-7 1-2 4-3 4-8 3 0 1 3 1-6" stroke="#E6C300" stroke-opacity="0.45" stroke-width="0.8" vector-effect="non-scaling-stroke"/>
<path d="M0-27l1-8 3 0 2 5 1 7 2 18 4 39 1 4 4 5 2 5 2 10 1 8 1 18 1 25 3 101 1 13 1-6 1-21 1-35 2-103 1-34 1-6 1-2 3-2 5-9 2 0 2 3 1-5" stroke="#E6C300" stroke-opacity="0.45" stroke-width="0.8" vector-effect="non-scaling-stroke"/>
<path d="M0-19l1-7 3-1 2 4 1 6 4 51 2 23 2 16 3 18 2 26 2 34 1 24 2 69 1 41 1 83 1 105 1 62 1-43 1-76 1-82 2-196 1-68 1-37 1-14 2-5 7-9 3 3 1-2" stroke="#3CB44B" stroke-opacity="0.4" stroke-width="0.8" vector-effect="non-scaling-stroke"/>
<path d="M0-14l3-1 2 3 1 4 6 65 1 8 3 16 1 8 1 13 1 16 1 18 1 26 2 66 2 107 2 131 1-19 1-66 2-196 1-80 1-54 1-28 1-6 4 0 6-10 3 3 2-5" stroke="#911EB4" stroke-opacity="0.45" stroke-width="0.8" vector-effect="non-scaling-stroke"/>
<path d="M0-18l2-6 2 0 2 3 1 4 2 19 3 33 1 9 5 34 2 28 1 18 1 24 2 63 1 48 1 54 1 58 1 67 1-14 1-61 2-187 1-77 1-54 1-29 1-6 5 0 1-3 4-5 4 3" stroke="#4363D8" stroke-opacity="0.45" stroke-width="0.8" vector-effect="non-scaling-stroke"/>
<path d="M0-8l1-6 3 0 2 3 1 6 4 44 3 27 4 17 2 16 1 11 1 14 1 18 1 22 2 59 1 26 1 16 1-7 1-29 1-57 1-65 1-45 1-28 1-11 1-3 4 0 6-11 3 3 1-5" stroke="#911EB4" stroke-opacity="0.45" stroke-width="0.8" vector-effect="non-scaling-stroke"/>
<path d="M0-6l1-4 2 0 2 2 1 4 2 21 3 37 1 10 2 16 2 10 1 7 1 12 1 15 1 19 1 24 2 67 1 49 1 59 1 64 1 79 1 6 1-57 2-205 1-93 1-65 1-38 1-11 4 0 6-11 4 1 1-5" stroke="#E6194B" stroke-opacity="0.45" stroke-width="0.8" vector-effect="non-scaling-stroke"/>
<path d="M0-31l1-7 3 0 2 4 1 7 5 58 2 19 3 22 1 11 2 35 1 22 1 31 1 35 1 42 2 119 1 72 1 51 1-36 1-86 2-209 1-77 1-51 1-23 1-4 4 1 5-8 3 2 1 4 1-4" stroke="#911EB4" stroke-opacity="0.45" stroke-width="0.8" vector-effect="non-scaling-stroke"/>
<path d="M0-2l1-4 3 0 2 4 6 60 2 14 3 10 1 7 2 21 1 13 1 16 1 25 2 56 1 44 1 92 1 70 1-1 1-52 2-135 1-87 1-65 1-39 1-20 2-6 4-4 2-4 2-2 3 1 1-5" stroke="#42D4F4" stroke-opacity="0.45" stroke-width="0.8" vector-effect="non-scaling-stroke"/>
<path d="M0-36l1-6 3 0 2 4 1 6 5 52 2 17 3 22 1 11 1 15 1 17 1 21 2 59 1 39 2 107 1 66 1 40 1-34 1-79 2-187 1-68 1-45 1-19 1-3 4 0 5-6 2 1 2 5 1-3" stroke="#4363D8" stroke-opacity="0.45" stroke-width="0.8" vector-effect="non-scaling-stroke"/>
<path d="M0 15l2-7 3 1 2 6 5 55 1 9 2 12 3 12 1 11 1 14 1 17 1 24 2 64 1 48 1 56 1 60 1 73 1-9 1-61 2-194 1-81 1-56 1-31 1-7 5-1 5-11 4-4" stroke="#FABEBE" stroke-opacity="0.45" stroke-width="0.8" vector-effect="non-scaling-stroke"/>
<path d="M0-5l1-6 3 0 2 3 1 7 2 20 1 12 3 29 1 7 2 9 2 14 2 29 1 19 1 27 1 31 1 37 2 107 1 65 1 42 1-33 1-79 2-185 1-68 1-43 1-18 1-3 4 0 6-10 3 3 1-5" stroke="#4363D8" stroke-opacity="0.45" stroke-width="0.8" vector-effect="non-scaling-stroke"/>
<path d="M0 3l2-6 3 0 2 6 2 17 3 29 2 14 4 13 2 16 2 22 1 16 2 48 1 28 1 50 1 80 1 57 1-19 1-51 1-60 1-63 1-78 1-53 1-30 1-14 1-3 7-9 2-2 2 1 1-2" stroke="#42D4F4" stroke-opacity="0.45" stroke-width="0.8" vector-effect="non-scaling-stroke"/>
<path d="M0 6l1-6 3 0 2 4 1 8 4 44 2 18 2 10 2 5 1 6 2 20 2 28 1 24 2 57 1 40 1 90 1 78 1 19 1-49 2-137 1-86 1-74 1-46 1-24 1-6 8-13 4 0 1-7" stroke="#3CB44B" stroke-opacity="0.45" stroke-width="0.8" vector-effect="non-scaling-stroke"/>
<path d="M0-28l1-8 4 1 2 10 5 50 1 9 1 6 5 6 3 14 1 9 1 18 1 26 3 104 1 15 1-6 1-22 1-36 1-50 1-57 1-35 1-8 1-2 3-2 5-9 2 0 2 3 1-4" stroke="#E6C300" stroke-opacity="0.45" stroke-width="0.8" vector-effect="non-scaling-stroke"/>
<path d="M0-18l4-1 2 6 5 52 2 16 4 20 2 20 2 27 1 19 2 56 1 31 1 60 1 89 1 59 1-27 1-59 1-68 1-73 1-87 1-58 1-32 1-14 2-5 7-8 3 2 2-4" stroke="#42D4F4" stroke-opacity="0.45" stroke-width="0.8" vector-effect="non-scaling-stroke"/>
<path d="M0-17l1-6 3 0 2 4 1 7 4 41 2 18 1 7 3 14 1 7 2 22 2 29 1 24 2 56 1 38 1 85 1 75 1 19 1-47 2-132 1-84 1-72 1-45 1-24 1-6 2-3 6-7 3 1 1 3 1-5" stroke="#42D4F4" stroke-opacity="0.45" stroke-width="0.8" vector-effect="non-scaling-stroke"/>
<path d="M0-2l1-5 4-1 2 7 5 55 1 9 1 8 3 12 1 5 1 8 1 11 2 28 1 19 2 58 1 34 1 65 1 93 1 61 1-30 1-63 1-71 1-77 1-90 1-60 1-34 1-14 1-3 5-6 3-6 3 1 1-2" stroke="#3CB44B" stroke-opacity="0.45" stroke-width="0.8" vector-effect="non-scaling-stroke"/>
<path d="M0-8l1-5 3-1 2 3 1 5 5 51 2 15 3 15 1 8 1 12 1 15 1 17 1 25 2 62 2 101 2 117 1-23 1-65 2-182 1-70 1-48 1-24 1-4 4 0 4-7 2-2 2 0 1 2 1-3" stroke="#4363D8" stroke-opacity="0.45" stroke-width="0.8" vector-effect="non-scaling-stroke"/>
<path d="M0-13l1-5 3 0 2 4 1 7 3 32 2 19 2 15 3 16 1 11 2 29 1 21 1 28 1 30 1 39 2 107 1 67 1 22 1-42 3-261 1-61 1-37 1-14 5-1 3-6 3-3 3 4 1-5" stroke="#DCBEFF" stroke-opacity="0.45" stroke-width="0.8" vector-effect="non-scaling-stroke"/>
<path d="M0-6l1-4 3 0 2 5 1 7 4 37 2 15 1 6 2 6 2 10 2 19 1 12 1 15 1 22 2 50 1 41 1 81 1 61 1-4 1-47 2-120 1-77 1-57 1-34 1-17 2-5 4-3 3-5 4 1 1-4" stroke="#42D4F4" stroke-opacity="0.45" stroke-width="0.8" vector-effect="non-scaling-stroke"/>
<path d="M0-36l1-7 4 0 2 7 7 63 4 12 2 9 1 8 1 12 1 17 1 24 1 29 1 39 1 62 1 83 1 54 1 27 1 7 1-41 3-247 1-56 1-32 1-12 6-21 2-3 3 4 1-3" stroke="#E6C300" stroke-opacity="0.45" stroke-width="0.8" vector-effect="non-scaling-stroke"/>
<path d="M0-37l4-1 1 2 1 5 4 46 2 20 1 9 4 26 2 25 2 31 1 21 2 63 1 35 1 67 1 97 1 65 1-30 1-66 1-76 1-80 1-97 1-64 1-36 1-16 2-5 6-7 2 0 2 4 1 0 1-3" stroke="#3CB44B" stroke-opacity="0.45" stroke-width="0.8" vector-effect="non-scaling-stroke"/>
<path d="M0-20l1-7 3 0 2 4 1 8 1 11 3 37 2 22 1 9 3 15 1 7 2 20 1 13 1 17 1 21 1 26 2 66 1 29 1 15 1-10 1-38 2-138 1-48 1-30 1-11 1-3 4 0 5-10 2 0 2 4 1-6" stroke="#FABEBE" stroke-opacity="0.45" stroke-width="0.8" vector-effect="non-scaling-stroke"/>
<path d="M0-11l1-6 3 0 2 5 2 18 5 53 1 7 3 12 1 6 2 17 1 11 2 35 1 24 1 31 2 53 1 11 1-12 1-39 2-123 1-39 1-25 1-8 1-2 4 0 4-8 2-2 3 3 1-6" stroke="#3CB44B" stroke-opacity="0.45" stroke-width="0.8" vector-effect="non-scaling-stroke"/>
<path d="M0-29l1-4 3 0 2 4 2 17 2 22 3 29 1 7 3 15 3 26 1 12 1 16 1 20 1 23 1 30 2 52 1 9 1-12 1-40 2-118 1-38 1-25 1-7 1-2 4 0 5-8 3 2 1 3 1-4" stroke="#4363D8" stroke-opacity="0.45" stroke-width="0.8" vector-effect="non-scaling-stroke"/>
<path d="M0-12l1-6 3-1 1 1 2 8 4 44 2 19 1 8 3 17 1 9 2 30 1 19 1 28 1 31 1 37 2 109 1 65 1 52 1-30 1-75 2-193 1-73 1-47 1-22 1-4 4 0 6-9 3 3 1-3" stroke="#F032E6" stroke-opacity="0.45" stroke-width="0.8" vector-effect="non-scaling-stroke"/>
<path d="M0-11l1-6 4 0 1 3 1 6 5 55 1 9 4 24 1 9 2 30 1 20 1 28 1 32 1 37 2 111 1 66 1 53 1-31 1-77 2-196 1-73 1-48 1-22 1-4 4 0 6-9 3 3 1-4" stroke="#F032E6" stroke-opacity="0.45" stroke-width="0.8" vector-effect="non-scaling-stroke"/>
</g>
<rect x="31.5" y="18.9" width="305.3" height="163.5" fill="none" stroke="#555" stroke-width="1"/>
<line x1="42.5" y1="182.4" x2="42.5" y2="186.7" stroke="#555" stroke-width="1"/>
<text x="42.5" y="196.8" text-anchor="middle" class="t">70</text>
<line x1="99.1" y1="182.4" x2="99.1" y2="186.7" stroke="#555" stroke-width="1"/>
<text x="99.1" y="196.8" text-anchor="middle" class="t">75</text>
<line x1="155.7" y1="182.4" x2="155.7" y2="186.7" stroke="#555" stroke-width="1"/>
<text x="155.7" y="196.8" text-anchor="middle" class="t">80</text>
<line x1="212.3" y1="182.4" x2="212.3" y2="186.7" stroke="#555" stroke-width="1"/>
<text x="212.3" y="196.8" text-anchor="middle" class="t">85</text>
<line x1="268.9" y1="182.4" x2="268.9" y2="186.7" stroke="#555" stroke-width="1"/>
<text x="268.9" y="196.8" text-anchor="middle" class="t">90</text>
<line x1="325.5" y1="182.4" x2="325.5" y2="186.7" stroke="#555" stroke-width="1"/>
<text x="325.5" y="196.8" text-anchor="middle" class="t">95</text>
<line x1="31.5" y1="161.4" x2="27.2" y2="161.4" stroke="#555" stroke-width="1"/>
<text transform="translate(22,161.4) rotate(-90)" text-anchor="middle" class="t">0</text>
<line x1="31.5" y1="128.5" x2="27.2" y2="128.5" stroke="#555" stroke-width="1"/>
<text transform="translate(22,128.5) rotate(-90)" text-anchor="middle" class="t">100</text>
<line x1="31.5" y1="95.6" x2="27.2" y2="95.6" stroke="#555" stroke-width="1"/>
<text transform="translate(22,95.6) rotate(-90)" text-anchor="middle" class="t">200</text>
<line x1="31.5" y1="62.7" x2="27.2" y2="62.7" stroke="#555" stroke-width="1"/>
<text transform="translate(22,62.7) rotate(-90)" text-anchor="middle" class="t">300</text>
<line x1="31.5" y1="29.8" x2="27.2" y2="29.8" stroke="#555" stroke-width="1"/>
<text transform="translate(22,29.8) rotate(-90)" text-anchor="middle" class="t">400</text>
<text x="184.15" y="205.8" text-anchor="middle" class="t">Temperature (°C)</text>
<text x="184.15" y="5.8" text-anchor="middle" class="ti">wzi−3 Biorad CFX96</text>
<text transform="translate(6.9,100.65) rotate(-90)" text-anchor="middle" class="t">Florescence (dF/dT)</text>
<g transform="translate(390.3,162.2) scale(5.6600,-0.2500)" fill="none" stroke-linejoin="round">
<path d="M0-9l1-3 4 2 1 5 4 45 2 17 1 6 2 4 3-2 2 1 2 8 1 12 1 22 1 44 1 67 1 90 1 104 1 77 1-16 1-80 1-130 1-97 1-78 1-49 1-20 1-3 5-3 8-9" stroke="#E6194B" stroke-opacity="0.45" stroke-width="0.8" vector-effect="non-scaling-stroke"/>
<path d="M0-28l1-5 4-1 1 2 1 5 3 40 2 22 1 9 3 18 1 8 1 13 1 17 1 25 2 85 1 73 1 109 1 81 1 34 1-48 2-240 1-93 1-72 1-35 1-14 1-4 16-4" stroke="#3CB44B" stroke-opacity="0.45" stroke-width="0.8" vector-effect="non-scaling-stroke"/>
<path d="M0-14l1 0 2-5 3 0 2 4 4 43 1 9 2 14 3 15 1 9 1 13 1 16 2 68 1 47 2 171 1 44 1-20 1-77 1-115 1-86 1-67 1-40 1-18 1-4 4 0 11-5" stroke="#DCBEFF" stroke-opacity="0.45" stroke-width="0.8" vector-effect="non-scaling-stroke"/>
<path d="M0-8l1-3 3 0 2 4 4 42 2 16 1 5 1 4 1 1 3-2 2 1 2 7 1 10 1 18 1 38 1 58 3 256 1-6 1-62 1-123 1-91 1-76 1-48 1-22 1-3 6-4 7-8" stroke="#E6194B" stroke-opacity="0.45" stroke-width="0.8" vector-effect="non-scaling-stroke"/>
<path d="M0-5l2-6 3 0 2 3 1 11 2 27 2 24 1 10 1 7 3 15 1 9 1 14 1 17 1 36 1 41 1 49 2 202 1 59 1-10 1-80 1-140 1-105 1-81 1-53 1-24 1-5 1-1 5 0 10-10" stroke="#4363D8" stroke-opacity="0.45" stroke-width="0.8" vector-effect="non-scaling-stroke"/>
<path d="M0-2l1 0 2-5 3 0 2 4 4 48 1 10 1 8 4 19 1 9 1 14 1 18 2 73 1 54 1 99 1 83 1 44 1-30 1-91 1-121 1-90 1-71 1-38 1-16 1-3 8-3 7-7" stroke="#808080" stroke-opacity="0.35" stroke-width="0.8" vector-effect="non-scaling-stroke"/>
<path d="M0-9l1-7 3 0 2 3 1 8 3 33 2 18 1 6 2 6 2 1 2-2 1 1 2 6 1 9 1 15 1 32 1 50 1 78 2 188 1 21 1-38 1-122 1-102 1-84 1-58 1-30 1-9 9-6 4-5" stroke="#E6194B" stroke-opacity="0.45" stroke-width="0.8" vector-effect="non-scaling-stroke"/>
<path d="M0-14l3 0 1-6 3 0 2 3 1 8 2 27 3 34 2 13 2 10 1 8 2 30 1 31 2 86 1 89 1 102 1 67 1 10 1-63 1-135 1-108 1-85 1-61 1-27 1-8 1-2 4 0 9-5" stroke="#808080" stroke-opacity="0.35" stroke-width="0.8" vector-effect="non-scaling-stroke"/>
<path d="M0 6l1-1 1-4 3 0 2 3 4 45 2 19 1 6 3 11 1 8 2 26 1 31 1 36 1 43 2 178 1 53 1-7 1-70 1-125 1-93 1-73 1-47 1-21 1-4 4 0 6-4 6-9" stroke="#3CB44B" stroke-opacity="0.45" stroke-width="0.8" vector-effect="non-scaling-stroke"/>
<path d="M0-15l1-2 3 0 1 1 1 4 3 38 2 21 1 9 4 22 1 11 1 14 1 21 2 77 1 60 1 102 1 83 1 41 1-36 1-100 1-122 1-92 1-71 1-37 1-16 1-3 4 0 13-8" stroke="#3CB44B" stroke-opacity="0.45" stroke-width="0.8" vector-effect="non-scaling-stroke"/>
<path d="M0-11l1 0 2-5 3 0 2 3 4 47 2 19 4 21 1 9 1 13 1 17 2 72 1 48 2 185 1 51 1-15 1-78 1-126 1-95 1-74 1-46 1-20 1-4 10-4 5-4" stroke="#808080" stroke-opacity="0.35" stroke-width="0.8" vector-effect="non-scaling-stroke"/>
<path d="M0-27l1-5 4 0 1 2 1 7 3 40 2 22 5 35 2 31 1 30 2 87 1 83 1 109 1 76 1 24 1-58 2-248 1-91 1-68 1-33 1-11 1-3 16-4" stroke="#3CB44B" stroke-opacity="0.45" stroke-width="0.8" vector-effect="non-scaling-stroke"/>
<path d="M0-22l1-2 3 0 2 6 4 42 2 15 2 9 4 2 1 2 1 6 1 12 1 18 1 28 1 34 1 41 1 24 1 10 1-14 1-33 2-91 1-41 1-25 1-10 3-3 7-2 6-5" stroke="#E6194B" stroke-opacity="0.45" stroke-width="0.8" vector-effect="non-scaling-stroke"/>
<path d="M0-22l1 0 1-4 1-1 3 0 1 1 1 4 3 38 2 22 1 9 4 24 1 12 1 15 1 22 2 80 1 60 1 105 1 85 1 44 1-36 1-100 1-126 1-94 1-73 1-40 1-17 1-4 15-4" stroke="#42D4F4" stroke-opacity="0.45" stroke-width="0.8" vector-effect="non-scaling-stroke"/>
<path d="M0-19l1-3 3 0 1 2 1 4 4 44 3 21 2 5 4 1 1 6 1 12 1 18 1 28 1 34 1 43 1 26 1 12 1-13 1-32 3-137 1-27 1-12 10-5 6-6" stroke="#E6194B" stroke-opacity="0.45" stroke-width="0.8" vector-effect="non-scaling-stroke"/>
<path d="M0-32l1-6 3 0 2 3 1 9 3 35 2 19 1 7 2 8 4 4 1 3 2 10 1 11 1 19 1 36 1 56 1 85 2 198 1 17 1-46 1-135 1-108 1-90 1-61 1-32 1-8 2-2 11-3" stroke="#E6194B" stroke-opacity="0.45" stroke-width="0.8" vector-effect="non-scaling-stroke"/>
<path d="M0 11l1 0 2-5 4 1 1 4 5 55 2 12 3 10 1 9 1 12 1 17 2 68 1 51 1 95 1 79 1 42 1-29 1-88 1-115 1-87 1-66 1-36 1-15 1-2 5-1 7-7 3-6" stroke="#42D4F4" stroke-opacity="0.45" stroke-width="0.8" vector-effect="non-scaling-stroke"/>
<path d="M0-14l1 0 2-6 3 0 2 3 1 10 3 38 2 20 1 7 3 16 1 9 1 14 1 17 1 34 1 39 1 48 2 191 1 57 1-8 1-74 1-133 1-100 1-79 1-51 1-23 1-5 1-2 5 0 9-6" stroke="#4363D8" stroke-opacity="0.45" stroke-width="0.8" vector-effect="non-scaling-stroke"/>
<path d="M0 2l2 0 1-5 5 1 1 6 3 39 2 22 1 7 4 19 2 26 1 24 2 79 1 72 1 105 1 79 1 34 1-49 2-235 1-90 1-69 1-33 1-12 1-3 8-3 6-8" stroke="#4363D8" stroke-opacity="0.45" stroke-width="0.8" vector-effect="non-scaling-stroke"/>
<path d="M0 13l2-5 3 0 2 4 5 55 1 8 4 16 1 7 1 12 1 15 2 67 1 46 2 175 1 47 1-19 1-79 1-120 1-89 1-69 1-41 1-17 1-3 6 0 6-6 4-8" stroke="#469990" stroke-opacity="0.45" stroke-width="0.8" vector-effect="non-scaling-stroke"/>
<path d="M0-3l1-4 3 0 2 5 4 42 2 16 1 5 2 4 3-3 2 1 2 6 1 10 1 18 1 39 1 59 1 82 1 94 1 79 1-9 1-64 1-122 1-91 1-74 1-48 1-20 1-4 4-2 9-10" stroke="#E6194B" stroke-opacity="0.45" stroke-width="0.8" vector-effect="non-scaling-stroke"/>
<path d="M0-19l1 0 2-6 2 0 2 2 1 3 3 40 2 23 1 10 1 7 3 18 1 11 1 16 1 22 2 82 1 61 1 109 1 93 1 48 1-33 1-100 1-134 1-101 1-78 1-44 1-19 1-4 6-1 9-5" stroke="#E6C300" stroke-opacity="0.35" stroke-width="0.8" vector-effect="non-scaling-stroke"/>
<path d="M0-21l1 0 2-6 3 0 1 1 1 4 5 60 2 16 3 17 1 11 1 15 1 20 2 79 1 56 1 104 1 90 1 48 1-28 1-92 1-130 1-97 1-75 1-44 1-19 1-4 15-5" stroke="#808080" stroke-opacity="0.35" stroke-width="0.8" vector-effect="non-scaling-stroke"/>
<path d="M0-21l2 0 2-5 3 0 2 4 5 59 1 9 4 23 1 11 1 15 1 19 2 77 1 53 1 101 1 87 1 47 1-26 1-89 1-126 1-95 1-73 1-43 1-18 1-4 14-4" stroke="#E6C300" stroke-opacity="0.35" stroke-width="0.8" vector-effect="non-scaling-stroke"/>
<path d="M0-15l1 0 1-6 3 0 2 3 1 9 2 27 3 34 2 13 2 10 1 9 1 14 1 17 1 33 2 87 2 195 1 65 1 5 1-68 1-137 1-108 1-84 1-59 1-27 1-7 1-1 5-1 10-6" stroke="#E6C300" stroke-opacity="0.35" stroke-width="0.8" vector-effect="non-scaling-stroke"/>
<path d="M0-24l1-4 3 0 2 5 4 48 1 10 2 15 1 4 2 4 3-1 1 3 2 10 1 13 1 22 1 44 1 67 3 293 1-8 1-70 1-143 1-106 1-88 1-56 1-25 1-4 2-2 11-6" stroke="#E6194B" stroke-opacity="0.45" stroke-width="0.8" vector-effect="non-scaling-stroke"/>
<path d="M0-24l4 0 1 3 1 8 3 33 2 18 1 6 1 5 2 4 3-1 1 2 2 8 1 9 1 17 1 32 1 52 1 80 2 190 1 20 1-40 1-125 1-104 1-86 1-59 1-30 1-9 14-8" stroke="#E6194B" stroke-opacity="0.45" stroke-width="0.8" vector-effect="non-scaling-stroke"/>
<path d="M0-11l1-5 4 0 1 1 1 6 3 37 2 21 1 9 4 21 1 12 1 15 1 24 2 78 1 69 1 102 1 76 1 32 1-47 2-227 1-88 1-67 1-33 1-12 1-3 7-1 9-7" stroke="#3CB44B" stroke-opacity="0.45" stroke-width="0.8" vector-effect="non-scaling-stroke"/>
<path d="M0-44l4-1 1 2 1 5 2 22 3 28 2 12 2 6 4 6 1 4 1 5 1 9 1 15 1 26 1 45 1 68 1 82 1 96 1 52 1-26 1-93 1-114 1-87 1-67 1-40 1-15 4-3 10 1" stroke="#E6194B" stroke-opacity="0.45" stroke-width="0.8" vector-effect="non-scaling-stroke"/>
<path d="M0-15l1-5 4 0 1 2 1 6 2 26 3 34 1 8 4 22 2 29 1 26 2 82 1 76 1 103 1 73 1 25 1-53 2-234 1-87 1-66 1-31 1-10 1-3 5 0 11-7" stroke="#3CB44B" stroke-opacity="0.45" stroke-width="0.8" vector-effect="non-scaling-stroke"/>
<path d="M0-36l1-3 3 0 1 1 1 4 3 34 3 27 2 10 2 4 2 1 2 5 2 12 1 14 1 23 1 43 1 65 1 86 1 100 1 75 1-16 1-76 1-128 1-96 1-78 1-48 1-20 1-3 5-3 8-1" stroke="#E6194B" stroke-opacity="0.45" stroke-width="0.8" vector-effect="non-scaling-stroke"/>
<path d="M0-8l3-1 2 2 1 5 4 41 1 8 2 11 2 3 3-2 1 1 1 6 1 11 1 18 1 26 1 33 1 38 1 22 1 6 1-14 1-34 2-87 1-38 1-21 1-8 8-3 8-9" stroke="#3CB44B" stroke-opacity="0.45" stroke-width="0.8" vector-effect="non-scaling-stroke"/>
<path d="M0-13l1-6 4 0 1 3 1 6 3 35 2 18 1 7 2 8 2 1 2-2 2 4 1 4 1 8 1 15 1 29 1 49 1 78 1 90 1 105 1 39 1-32 2-228 1-91 1-65 1-37 1-12 13-10" stroke="#E6194B" stroke-opacity="0.45" stroke-width="0.8" vector-effect="non-scaling-stroke"/>
<path d="M0-7l1-4 4 0 1 2 1 10 3 40 1 11 1 10 1 7 3 15 1 9 2 30 1 34 1 41 1 47 2 197 1 62 1-3 1-73 1-139 1-106 1-82 1-55 1-26 1-5 1-1 6-1 10-9" stroke="#3CB44B" stroke-opacity="0.45" stroke-width="0.8" vector-effect="non-scaling-stroke"/>
<path d="M0-13l1-3 2 0 2 2 1 4 3 33 3 26 1 5 2 5 3-2 2 2 1 3 1 6 1 11 1 21 1 42 1 63 1 84 1 97 1 72 1-15 1-76 1-122 1-91 1-74 1-45 1-19 1-3 6-3 7-7" stroke="#E6194B" stroke-opacity="0.45" stroke-width="0.8" vector-effect="non-scaling-stroke"/>
<path d="M0-1l1-5 3-1 2 2 1 6 3 38 2 21 1 8 4 20 2 26 1 25 2 78 1 72 1 102 1 73 1 27 1-51 2-230 1-86 1-65 1-31 1-10 1-2 8-2 8-9" stroke="#3CB44B" stroke-opacity="0.45" stroke-width="0.8" vector-effect="non-scaling-stroke"/>
<path d="M0-38l3 0 2 4 1 10 2 25 3 31 2 11 1 3 1 2 3 1 1 3 2 10 1 13 1 20 1 40 1 60 1 90 2 204 1 10 1-54 1-142 1-109 1-92 1-61 1-31 1-7 2-2 9-4 3 1" stroke="#FABEBE" stroke-opacity="0.45" stroke-width="0.8" vector-effect="non-scaling-stroke"/>
<path d="M0-25l1-4 3 0 2 3 5 61 2 16 3 18 1 10 1 15 1 19 1 36 1 41 1 51 2 200 1 58 1-10 1-79 1-138 1-103 1-82 1-52 1-24 1-6 2-2 4 0 11-5" stroke="#3CB44B" stroke-opacity="0.45" stroke-width="0.8" vector-effect="non-scaling-stroke"/>
<path d="M0-7l1-5 4 0 1 1 1 6 2 26 3 34 1 8 4 21 1 12 1 15 1 25 2 79 1 72 1 103 1 75 1 29 1-50 2-232 1-87 1-67 1-32 1-11 1-2 8-2 8-8" stroke="#469990" stroke-opacity="0.45" stroke-width="0.8" vector-effect="non-scaling-stroke"/>
<path d="M0-15l1-5 4 0 1 2 1 10 3 38 2 20 2 13 2 10 1 9 2 30 1 33 2 85 2 191 1 62 1 2 1-69 1-133 1-104 1-81 1-56 1-26 1-6 1-2 4 0 12-7" stroke="#3CB44B" stroke-opacity="0.45" stroke-width="0.8" vector-effect="non-scaling-stroke"/>
<path d="M0-15l1-2 1-5 3 0 2 4 4 43 2 17 2 9 1 2 4 0 1 2 2 8 1 11 1 18 1 37 1 57 1 83 2 182 1 1 1-55 1-128 1-96 1-81 1-52 1-25 1-5 12-8" stroke="#E6194B" stroke-opacity="0.45" stroke-width="0.8" vector-effect="non-scaling-stroke"/>
<path d="M0-9l2-1 1-4 3 0 2 3 5 61 2 16 3 15 1 10 1 14 1 17 2 76 1 50 2 199 1 56 1-12 1-80 1-137 1-102 1-80 1-51 1-23 1-5 1-1 8-2 6-6" stroke="#808080" stroke-opacity="0.35" stroke-width="0.8" vector-effect="non-scaling-stroke"/>
<path d="M0-14l1 0 2-5 3 0 2 3 4 46 2 19 4 21 1 9 1 14 1 17 2 71 1 49 2 181 1 48 1-19 1-80 1-122 1-92 1-72 1-43 1-19 1-4 6-1 9-5" stroke="#E6C300" stroke-opacity="0.35" stroke-width="0.8" vector-effect="non-scaling-stroke"/>
<path d="M0-19l1-7 3 0 2 3 1 9 3 35 2 19 1 7 2 8 4 1 2 5 1 5 1 10 1 17 1 34 1 55 1 84 2 203 1 24 1-41 1-132 1-111 1-92 1-64 1-33 1-10 13-9" stroke="#E6194B" stroke-opacity="0.45" stroke-width="0.8" vector-effect="non-scaling-stroke"/>
<path d="M0-15l2-7 4 2 1 4 3 33 3 27 2 9 2 2 3-1 2 6 1 6 1 12 1 21 1 42 1 63 1 85 1 99 1 76 1-14 1-73 1-126 1-94 1-76 1-48 1-20 1-3 12-8" stroke="#E6194B" stroke-opacity="0.45" stroke-width="0.8" vector-effect="non-scaling-stroke"/>
<path d="M0-21l1-4 4-1 1 1 1 5 4 47 2 18 4 22 1 12 1 15 1 22 2 76 1 63 1 99 1 78 1 36 1-40 1-101 1-116 1-87 1-68 1-35 1-13 1-4 16-5" stroke="#3CB44B" stroke-opacity="0.45" stroke-width="0.8" vector-effect="non-scaling-stroke"/>
<path d="M0-15l1 0 1-6 5 2 1 8 3 37 2 21 2 13 2 10 1 8 2 28 1 29 2 81 1 82 1 99 1 66 1 15 1-58 1-126 1-106 1-82 1-61 1-27 1-8 1-3 5 0 10-6" stroke="#E6C300" stroke-opacity="0.35" stroke-width="0.8" vector-effect="non-scaling-stroke"/>
<path d="M0-19l4-1 1 1 1 5 3 33 2 19 1 8 4 20 2 24 1 22 2 71 1 60 1 92 1 70 1 32 1-40 2-203 1-80 1-62 1-31 1-12 1-3 7-1 10-5" stroke="#3CB44B" stroke-opacity="0.45" stroke-width="0.8" vector-effect="non-scaling-stroke"/>
<path d="M0-22l3-1 1-5 5 2 1 10 3 39 2 21 1 8 3 18 1 9 2 32 1 34 1 41 1 47 2 194 1 62 1 0 1-70 1-137 1-105 1-83 1-56 1-26 1-7 1-1 13-3" stroke="#DCBEFF" stroke-opacity="0.45" stroke-width="0.8" vector-effect="non-scaling-stroke"/>
<path d="M0-42l1-5 3 0 2 4 3 33 2 20 1 8 2 11 3 7 2 2 1 4 2 12 1 13 1 20 1 40 1 58 1 84 2 185 1 0 1-57 1-133 1-99 1-84 1-54 1-26 1-5 2-2 11 0" stroke="#FABEBE" stroke-opacity="0.45" stroke-width="0.8" vector-effect="non-scaling-stroke"/>
<path d="M0-44l2-5 3 0 1 1 1 5 4 48 1 10 1 9 4 27 2 30 1 23 2 82 1 63 1 104 1 82 1 41 1-38 1-102 1-121 1-92 1-72 1-38 1-16 1-5 2-2 6-1 8 3" stroke="#469990" stroke-opacity="0.45" stroke-width="0.8" vector-effect="non-scaling-stroke"/>
<path d="M0-7l1 0 1-5 1-1 4 2 1 6 3 37 2 21 1 8 4 20 2 26 1 24 2 77 1 69 1 100 1 75 1 30 1-47 2-226 1-85 1-66 1-32 1-11 1-3 7-1 8-7" stroke="#E6C300" stroke-opacity="0.35" stroke-width="0.8" vector-effect="non-scaling-stroke"/>
<path d="M0-9l1 0 1-5 5 2 1 8 3 36 2 19 1 7 3 14 1 7 2 28 1 28 2 79 1 82 1 93 1 60 1 7 1-60 1-124 1-98 1-77 1-54 1-24 1-7 1-1 9-3 6-5" stroke="#42D4F4" stroke-opacity="0.45" stroke-width="0.8" vector-effect="non-scaling-stroke"/>
<path d="M0 5l2 0 1-4 1-1 3 0 1 2 1 5 3 39 2 21 1 7 4 18 2 25 1 24 2 78 1 72 1 104 1 77 1 31 1-49 2-232 1-88 1-68 1-32 1-11 1-3 6-1 5-5 3-5" stroke="#4363D8" stroke-opacity="0.45" stroke-width="0.8" vector-effect="non-scaling-stroke"/>
<path d="M0-7l1 0 2-6 2 0 2 2 1 3 2 24 3 32 1 8 4 19 2 24 1 19 2 72 1 55 1 96 1 80 1 41 1-32 1-92 1-117 1-87 1-68 1-36 1-15 1-3 9-3 6-5" stroke="#808080" stroke-opacity="0.35" stroke-width="0.8" vector-effect="non-scaling-stroke"/>
<path d="M0-18l3 0 2 3 4 37 2 14 1 5 1 4 5 2 1 4 1 8 1 14 1 21 1 27 1 36 1 27 1 15 1-6 1-21 3-117 1-28 1-14 2-3 7-2 8-6" stroke="#3CB44B" stroke-opacity="0.45" stroke-width="0.8" vector-effect="non-scaling-stroke"/>
<path d="M0-1l2-6 3 0 2 5 2 26 3 35 1 9 1 6 3 14 1 10 1 14 1 20 2 77 1 57 1 105 1 88 1 46 1-32 1-96 1-129 1-96 1-74 1-41 1-17 1-3 6-1 7-6 3-5" stroke="#808080" stroke-opacity="0.35" stroke-width="0.8" vector-effect="non-scaling-stroke"/>
<path d="M0-15l1 0 2-6 3 0 2 4 4 54 1 11 2 18 3 17 1 11 2 35 2 84 1 55 2 213 1 56 1-20 1-92 1-144 1-108 1-84 1-51 1-23 1-4 10-4 5-4" stroke="#4363D8" stroke-opacity="0.45" stroke-width="0.8" vector-effect="non-scaling-stroke"/>
<path d="M0-26l3-1 2 3 1 6 1 13 2 21 2 18 1 7 1 5 2 5 3 0 2 4 1 5 1 8 1 15 1 29 1 48 1 75 1 88 1 103 1 41 1-31 2-224 1-89 1-65 1-37 1-13 14-8" stroke="#E6194B" stroke-opacity="0.45" stroke-width="0.8" vector-effect="non-scaling-stroke"/>
<path d="M0 4l1-1 1-4 4 0 1 2 1 10 4 48 1 9 1 6 3 13 1 7 2 28 1 32 1 37 1 44 2 186 1 56 1-4 1-70 1-130 1-99 1-76 1-51 1-23 1-4 8-3 5-5 3-5" stroke="#DCBEFF" stroke-opacity="0.45" stroke-width="0.8" vector-effect="non-scaling-stroke"/>
<path d="M0-12l2-6 3 0 1 2 1 4 4 42 2 16 2 9 2 2 3-2 1 2 1 3 1 6 1 12 1 21 1 42 1 63 1 85 1 97 1 72 1-16 1-76 1-122 1-92 1-73 1-46 1-19 3-4 5-2 5-5" stroke="#E6194B" stroke-opacity="0.45" stroke-width="0.8" vector-effect="non-scaling-stroke"/>
<path d="M0-20l4-1 1 2 1 5 3 33 2 18 1 7 2 8 2 2 2-2 2 4 1 4 1 7 1 13 1 25 1 45 1 69 1 84 1 99 1 52 1-25 1-95 1-114 1-88 1-67 1-39 1-15 14-9" stroke="#E6194B" stroke-opacity="0.45" stroke-width="0.8" vector-effect="non-scaling-stroke"/>
<path d="M0-5l1-6 1-1 3 0 1 3 1 6 3 37 2 20 1 7 1 5 2 3 3-3 1 3 1 7 1 13 1 21 1 32 2 85 1 24 1 6 1-17 1-41 2-101 1-45 1-24 1-8 8-5 3-3 4-7" stroke="#E6C300" stroke-opacity="0.45" stroke-width="0.8" vector-effect="non-scaling-stroke"/>
<path d="M0-28l1-5 3 0 2 4 3 34 2 20 1 8 2 11 2 4 3 1 1 3 2 10 1 12 1 19 1 40 1 60 1 86 2 189 1 0 1-58 1-135 1-100 1-85 1-55 1-25 1-5 3-3 10-3" stroke="#E6194B" stroke-opacity="0.45" stroke-width="0.8" vector-effect="non-scaling-stroke"/>
<path d="M0-32l1-7 1-1 2 0 2 3 1 8 4 49 2 17 2 10 4 4 1 5 1 9 1 17 1 26 1 35 2 90 1 25 1 3 1-21 1-45 2-109 1-48 1-24 1-8 1-2 14-5" stroke="#F58231" stroke-opacity="0.45" stroke-width="0.8" vector-effect="non-scaling-stroke"/>
<path d="M0-12l1-6 3 0 2 3 1 8 1 12 2 20 2 17 1 6 1 5 1 2 2 1 2-2 2 4 1 4 1 9 1 16 1 32 1 51 1 77 2 184 1 18 1-39 1-123 1-99 1-83 1-56 1-29 1-8 7-4 6-6" stroke="#E6194B" stroke-opacity="0.45" stroke-width="0.8" vector-effect="non-scaling-stroke"/>
<path d="M0-11l1 0 1-5 3-1 2 2 1 6 3 39 2 22 1 8 4 22 2 28 1 26 2 82 1 74 1 105 1 76 1 29 1-52 2-236 1-89 1-68 1-33 1-11 1-2 9-3 6-5" stroke="#BFEF45" stroke-opacity="0.35" stroke-width="0.8" vector-effect="non-scaling-stroke"/>
<path d="M0-32l1-2 3 0 2 6 3 34 2 20 1 7 1 6 1 3 2 4 2 0 2 5 1 4 1 8 1 14 1 24 1 46 1 68 1 87 1 102 1 67 1-22 1-87 1-125 1-94 1-74 1-46 1-18 1-2 13-5" stroke="#FABEBE" stroke-opacity="0.45" stroke-width="0.8" vector-effect="non-scaling-stroke"/>
<path d="M0-6l1-5 3 0 2 5 3 34 2 20 1 9 1 6 1 4 1 1 4-3 2 4 1 4 1 10 1 19 1 39 1 60 1 88 2 195 1 1 1-57 1-136 1-101 1-86 1-55 1-26 1-6 7-5 6-8" stroke="#FABEBE" stroke-opacity="0.45" stroke-width="0.8" vector-effect="non-scaling-stroke"/>
<path d="M0-23l1-4 5 2 1 9 4 44 2 15 3 15 1 9 2 28 1 30 1 37 1 42 2 173 1 55 1-1 1-63 1-120 1-93 1-73 1-49 1-23 1-6 1-2 16-4" stroke="#3CB44B" stroke-opacity="0.45" stroke-width="0.8" vector-effect="non-scaling-stroke"/>
<path d="M0-13l1-5 1-1 3 0 1 2 1 5 4 44 2 15 2 8 2 2 2-1 1 2 1 6 1 12 1 19 1 29 1 36 1 42 1 25 1 9 1-15 1-35 3-137 1-25 1-9 1-2 8-3 6-6" stroke="#E6C300" stroke-opacity="0.45" stroke-width="0.8" vector-effect="non-scaling-stroke"/>
<path d="M0-24l1-5 1-1 2 0 2 3 1 8 3 39 2 21 1 8 3 17 1 9 1 14 1 17 1 30 2 87 1 87 1 104 1 69 1 14 1-61 1-132 1-111 1-86 1-63 1-29 1-9 1-3 4 0 12-5" stroke="#3CB44B" stroke-opacity="0.45" stroke-width="0.8" vector-effect="non-scaling-stroke"/>
<path d="M0-28l1-6 1-1 2 0 2 3 1 5 3 34 2 19 2 13 2 5 3 2 1 3 1 8 1 15 1 21 1 31 2 81 1 23 1 6 1-17 1-38 2-97 1-44 1-23 1-9 1-2 14-5" stroke="#F58231" stroke-opacity="0.45" stroke-width="0.8" vector-effect="non-scaling-stroke"/>
<path d="M0-15l1-6 3 0 2 3 5 49 2 14 2 6 4 0 1 2 2 8 1 9 1 16 1 33 1 51 1 78 2 180 1 13 1-43 1-122 1-96 1-81 1-55 1-27 1-7 13-8" stroke="#E6194B" stroke-opacity="0.45" stroke-width="0.8" vector-effect="non-scaling-stroke"/>
<path d="M0-19l2 0 1-5 5 2 1 9 3 37 2 20 1 7 3 16 1 8 2 30 1 31 2 83 2 183 1 59 1 2 1-66 1-128 1-100 1-78 1-53 1-25 1-6 1-2 14-4" stroke="#808080" stroke-opacity="0.35" stroke-width="0.8" vector-effect="non-scaling-stroke"/>
<path d="M0-14l2 0 1-6 3 0 2 3 1 10 3 39 2 21 1 8 3 16 1 9 1 14 1 17 1 33 1 41 1 47 2 197 1 64 1 2 1-71 1-138 1-107 1-84 1-57 1-27 1-6 1-2 4 0 10-6" stroke="#4363D8" stroke-opacity="0.45" stroke-width="0.8" vector-effect="non-scaling-stroke"/>
<path d="M0-17l1-7 3 0 2 4 1 8 4 44 2 14 1 5 1 2 4 1 1 4 1 10 1 15 1 24 1 32 1 42 1 36 1 19 1-3 1-22 1-43 2-97 1-37 1-18 1-4 2-2 8-3 5-5" stroke="#F58231" stroke-opacity="0.45" stroke-width="0.8" vector-effect="non-scaling-stroke"/>
<path d="M0 6l1-5 4 0 1 2 1 10 3 37 2 21 1 7 3 13 1 7 2 28 1 31 1 38 1 44 2 187 1 60 1 0 1-69 1-132 1-102 1-80 1-53 1-25 1-5 3 1 6-3 4-4 4-7" stroke="#3CB44B" stroke-opacity="0.45" stroke-width="0.8" vector-effect="non-scaling-stroke"/>
<path d="M0-17l1-3 3 0 2 4 3 37 2 21 1 9 4 22 1 10 1 14 1 20 1 37 1 38 1 54 1 100 1 86 1 46 1-27 1-90 1-124 1-93 1-73 1-41 1-18 1-4 4 0 13-7" stroke="#3CB44B" stroke-opacity="0.45" stroke-width="0.8" vector-effect="non-scaling-stroke"/>
<path d="M0-9l1 0 2-5 3 0 2 4 5 54 2 14 3 14 1 9 1 13 1 16 2 69 1 46 2 177 1 47 1-16 1-77 1-120 1-90 1-70 1-42 1-19 1-4 11-4 4-4" stroke="#42D4F4" stroke-opacity="0.45" stroke-width="0.8" vector-effect="non-scaling-stroke"/>
<path d="M0-47l1-2 3 0 2 6 3 35 2 19 1 7 2 10 2 5 2 2 2 7 1 6 1 9 1 16 1 25 1 47 1 70 1 88 1 102 1 65 1-24 1-90 1-126 1-96 1-74 1-46 1-18 1-2 3-2 8 0 2 2" stroke="#E6194B" stroke-opacity="0.45" stroke-width="0.8" vector-effect="non-scaling-stroke"/>
<path d="M0-18l1-6 3 0 2 4 1 9 2 24 2 21 2 14 1 5 1 2 4 1 1 5 1 10 1 16 1 27 1 33 1 44 1 35 1 20 1-6 1-25 1-45 2-100 1-36 1-19 2-4 8-3 6-6" stroke="#E6C300" stroke-opacity="0.45" stroke-width="0.8" vector-effect="non-scaling-stroke"/>
<path d="M0-15l1 0 2-5 4 1 1 4 4 49 1 10 1 9 4 22 1 11 1 15 1 20 2 78 1 59 1 102 1 84 1 43 1-35 1-97 1-124 1-92 1-72 1-39 1-16 1-4 7-1 8-5" stroke="#4363D8" stroke-opacity="0.45" stroke-width="0.8" vector-effect="non-scaling-stroke"/>
<path d="M0-3l1-2 3 0 2 4 3 37 3 30 4 19 1 10 1 13 1 19 2 74 1 55 1 99 1 82 1 43 1-33 1-94 1-121 1-90 1-70 1-38 1-16 1-2 7-1 10-10" stroke="#3CB44B" stroke-opacity="0.45" stroke-width="0.8" vector-effect="non-scaling-stroke"/>
<path d="M0-14l1-6 3 0 2 3 1 8 3 33 3 24 2 6 4 1 1 3 1 9 1 14 1 23 1 30 2 77 1 19 1-1 1-20 1-41 2-94 1-37 1-19 1-5 1-1 8-3 6-6" stroke="#E6C300" stroke-opacity="0.45" stroke-width="0.8" vector-effect="non-scaling-stroke"/>
<path d="M0-21l2 0 1-4 1-1 3 0 1 2 1 5 2 25 3 32 1 8 4 23 2 28 1 24 2 78 1 69 1 98 1 72 1 28 1-48 2-221 1-84 1-65 1-31 1-11 1-2 14-4" stroke="#E6C300" stroke-opacity="0.35" stroke-width="0.8" vector-effect="non-scaling-stroke"/>
<path d="M0-26l1-7 3 0 2 4 1 7 2 24 2 21 2 15 1 5 2 5 3 1 1 5 1 9 1 16 1 24 1 32 2 82 1 21 1-1 1-20 1-43 2-100 1-40 1-21 1-6 2-2 13-5" stroke="#F58231" stroke-opacity="0.45" stroke-width="0.8" vector-effect="non-scaling-stroke"/>
<path d="M0-5l3-1 2 2 1 4 3 34 2 20 1 7 4 19 2 22 1 20 2 69 1 57 1 93 1 72 1 34 1-38 1-95 1-109 1-82 1-63 1-32 1-12 1-2 4 1 4-2 9-9" stroke="#3CB44B" stroke-opacity="0.45" stroke-width="0.8" vector-effect="non-scaling-stroke"/>
<path d="M0-16l1-6 5 2 1 8 2 27 3 34 1 8 3 16 1 8 2 29 1 30 2 85 1 85 1 104 1 69 1 16 1-60 1-131 1-111 1-86 1-63 1-29 1-9 1-2 6-1 10-6" stroke="#3CB44B" stroke-opacity="0.45" stroke-width="0.8" vector-effect="non-scaling-stroke"/>
<path d="M0-12l1-7 4 0 1 3 1 6 1 13 3 32 2 15 1 5 1 2 4 0 1 3 1 8 1 14 1 22 1 31 2 80 1 22 1 2 1-18 1-41 2-96 1-42 1-21 1-6 8-4 7-7" stroke="#E6C300" stroke-opacity="0.45" stroke-width="0.8" vector-effect="non-scaling-stroke"/>
<path d="M0-22l1-7 3 0 2 4 1 8 2 24 2 21 2 14 2 8 4 2 1 4 1 10 1 16 1 25 1 32 1 43 1 37 1 20 1-3 1-23 1-44 2-98 1-38 1-19 1-5 1-1 14-7" stroke="#F58231" stroke-opacity="0.45" stroke-width="0.8" vector-effect="non-scaling-stroke"/>
<path d="M0-14l2-6 4 1 1 5 3 39 2 23 1 9 3 16 1 7 1 12 1 15 1 22 2 82 1 64 1 108 1 85 1 42 1-40 1-107 1-127 1-95 1-74 1-39 1-15 1-4 4 0 8-4 4-4" stroke="#3CB44B" stroke-opacity="0.45" stroke-width="0.8" vector-effect="non-scaling-stroke"/>
<path d="M0 2l1 0 2-6 3 0 2 3 5 56 2 14 3 12 1 8 2 28 2 68 1 44 2 182 1 52 1-10 1-72 1-125 1-94 1-73 1-46 1-21 1-4 1-1 7-2 7-8" stroke="#808080" stroke-opacity="0.35" stroke-width="0.8" vector-effect="non-scaling-stroke"/>
<path d="M0-21l1-3 3 0 2 3 4 47 2 19 1 7 3 15 1 10 1 14 1 18 2 73 1 49 2 187 1 51 1-17 1-79 1-127 1-95 1-74 1-45 1-21 1-5 1-1 4 0 12-6" stroke="#3CB44B" stroke-opacity="0.45" stroke-width="0.8" vector-effect="non-scaling-stroke"/>
<path d="M0-39l1-5 1-1 3 0 1 2 1 6 3 35 2 19 1 7 1 6 2 7 3 4 1 4 1 9 1 15 1 23 1 32 2 83 1 24 1 6 1-17 1-40 2-101 1-45 1-25 1-9 3-3 12-1" stroke="#F58231" stroke-opacity="0.45" stroke-width="0.8" vector-effect="non-scaling-stroke"/>
<path d="M0-21l1 0 1-5 4 0 1 1 1 6 3 41 2 23 2 15 2 11 1 8 1 13 1 17 1 26 2 87 1 76 1 109 1 82 1 32 1-52 2-246 1-94 1-72 1-35 1-13 1-3 6-1 9-5" stroke="#4363D8" stroke-opacity="0.45" stroke-width="0.8" vector-effect="non-scaling-stroke"/>
<path d="M0-25l3-1 1-5 4 0 1 2 1 10 3 40 2 22 2 15 2 12 1 9 2 33 1 34 2 91 2 198 1 64 1 4 1-71 1-139 1-110 1-85 1-60 1-27 1-7 1-2 13-2" stroke="#4363D8" stroke-opacity="0.45" stroke-width="0.8" vector-effect="non-scaling-stroke"/>
<path d="M0-21l1-7 3 0 2 4 1 8 3 35 2 18 1 6 1 5 1 2 4 2 1 5 1 9 1 16 1 25 1 33 1 42 1 36 1 20 1-4 1-23 1-43 2-98 1-37 1-19 1-4 2-2 8-3 5-4" stroke="#E6C300" stroke-opacity="0.45" stroke-width="0.8" vector-effect="non-scaling-stroke"/>
<path d="M0-19l2 0 2-5 3 0 2 4 5 50 2 14 3 15 1 9 1 13 1 17 2 67 1 47 1 87 1 73 1 40 1-25 1-79 1-107 1-81 1-63 1-35 1-16 1-3 14-3" stroke="#DCBEFF" stroke-opacity="0.45" stroke-width="0.8" vector-effect="non-scaling-stroke"/>
<path d="M0-23l2 0 1-5 1-1 3 0 2 6 3 38 2 22 2 15 3 18 1 12 1 16 1 23 2 80 1 65 1 102 1 80 1 37 1-42 1-106 1-120 1-91 1-70 1-36 1-14 1-3 14-3" stroke="#808080" stroke-opacity="0.35" stroke-width="0.8" vector-effect="non-scaling-stroke"/>
<path d="M0-11l1-6 5 2 1 9 2 26 3 34 5 30 2 30 1 30 2 84 1 86 1 102 1 68 1 13 1-61 1-132 1-109 1-85 1-62 1-28 1-8 1-2 5 0 11-8" stroke="#3CB44B" stroke-opacity="0.45" stroke-width="0.8" vector-effect="non-scaling-stroke"/>
<path d="M0-25l1-7 3 0 2 3 1 8 3 35 2 19 2 11 1 3 1 2 3 1 1 5 1 9 1 16 1 24 1 33 2 82 1 21 1-1 1-22 1-43 2-100 1-40 1-21 1-5 3-3 12-5" stroke="#E6C300" stroke-opacity="0.45" stroke-width="0.8" vector-effect="non-scaling-stroke"/>
<path d="M0-16l1-5 1-1 3 0 1 2 1 7 2 28 3 37 1 9 3 17 1 8 2 30 1 29 2 88 1 81 1 114 1 82 1 31 1-56 2-256 1-96 1-74 1-35 1-12 1-3 4 0 12-8" stroke="#3CB44B" stroke-opacity="0.45" stroke-width="0.8" vector-effect="non-scaling-stroke"/>
<path d="M0-10l1-4 3 0 2 4 4 53 2 22 2 13 2 10 1 11 1 15 1 19 2 81 1 54 2 211 1 58 1-17 1-88 1-145 1-108 1-85 1-52 1-23 1-5 8-2 9-9" stroke="#3CB44B" stroke-opacity="0.45" stroke-width="0.8" vector-effect="non-scaling-stroke"/>
<path d="M0-32l1-6 3 0 2 4 1 10 3 36 1 10 2 15 2 8 4 4 1 6 1 11 1 18 1 28 1 35 1 46 1 36 1 20 1-7 1-26 1-47 2-104 1-37 1-20 1-3 2-2 13-5" stroke="#F58231" stroke-opacity="0.45" stroke-width="0.8" vector-effect="non-scaling-stroke"/>
<path d="M0-20l1-5 3 0 2 4 5 53 2 14 1 5 1 2 4 0 2 6 1 5 1 11 1 18 1 37 1 57 1 84 2 190 1 6 1-52 1-132 1-100 1-85 1-56 1-27 1-6 13-8" stroke="#E6194B" stroke-opacity="0.45" stroke-width="0.8" vector-effect="non-scaling-stroke"/>
<path d="M0 2l1 0 2-5 4 0 1 3 4 44 2 17 4 17 1 8 1 12 1 15 2 66 1 45 2 172 1 46 1-17 1-75 1-117 1-87 1-68 1-40 1-18 1-3 8-3 7-8" stroke="#BFEF45" stroke-opacity="0.35" stroke-width="0.8" vector-effect="non-scaling-stroke"/>
<path d="M0-7l1-6 4 0 1 2 1 6 1 12 2 20 2 18 1 6 1 5 1 2 2 1 2-3 2 3 1 3 1 7 1 13 1 26 1 46 1 71 1 83 1 98 1 41 1-28 2-210 1-84 1-62 1-36 1-12 9-6 4-5" stroke="#E6194B" stroke-opacity="0.45" stroke-width="0.8" vector-effect="non-scaling-stroke"/>
<path d="M0-18l1-7 3 0 2 3 1 8 4 44 2 14 2 8 4 1 1 4 1 9 1 14 1 23 1 32 2 79 1 21 1 0 1-20 1-42 2-97 1-39 1-20 1-6 1-1 8-3 6-5" stroke="#F58231" stroke-opacity="0.45" stroke-width="0.8" vector-effect="non-scaling-stroke"/>
<path d="M0-9l1-1 1-4 4 0 1 2 1 9 2 25 2 22 1 9 1 7 3 14 1 8 2 28 1 31 1 38 1 43 2 181 1 58 1 0 1-66 1-127 1-98 1-76 1-53 1-23 1-6 1-1 6-1 9-7" stroke="#BFEF45" stroke-opacity="0.35" stroke-width="0.8" vector-effect="non-scaling-stroke"/>
<path d="M0-21l1-5 3-1 2 2 1 5 4 47 2 17 3 16 1 7 1 12 1 15 1 24 2 77 1 67 1 98 1 73 1 31 1-46 2-218 1-84 1-66 1-31 1-12 1-3 16-5" stroke="#3CB44B" stroke-opacity="0.45" stroke-width="0.8" vector-effect="non-scaling-stroke"/>
<path d="M0 4l1 0 2-5 3 0 2 3 5 60 2 14 3 13 1 8 2 30 2 73 1 50 2 192 1 52 1-18 1-83 1-131 1-97 1-75 1-46 1-20 1-4 7-2 5-5 3-5" stroke="#E6C300" stroke-opacity="0.35" stroke-width="0.8" vector-effect="non-scaling-stroke"/>
<path d="M0-15l3 0 2 3 1 8 3 31 2 15 2 10 2 2 3-1 1 3 1 9 1 13 1 22 1 27 1 38 1 30 1 17 1-4 1-21 1-38 2-85 1-32 1-15 2-4 8-3 7-6" stroke="#3CB44B" stroke-opacity="0.45" stroke-width="0.8" vector-effect="non-scaling-stroke"/>
<path d="M0-17l1-5 3 0 2 4 5 55 2 14 2 6 4 0 1 5 1 11 1 17 1 27 1 33 1 45 1 32 1 18 1-8 1-27 1-45 2-99 1-34 1-16 2-4 8-3 6-6" stroke="#E6C300" stroke-opacity="0.45" stroke-width="0.8" vector-effect="non-scaling-stroke"/>
<path d="M0-9l1-6 4 0 1 3 1 7 2 23 2 20 2 14 2 7 4-1 1 3 1 8 1 13 1 22 1 30 2 77 1 20 1 0 1-20 1-40 2-93 1-38 1-19 1-5 8-4 7-8" stroke="#E6C300" stroke-opacity="0.45" stroke-width="0.8" vector-effect="non-scaling-stroke"/>
<path d="M0 1l2 0 1-6 3 0 2 3 1 8 4 47 2 16 3 12 1 7 1 12 1 15 1 27 2 79 1 82 1 98 1 64 1 12 1-59 1-126 1-103 1-80 1-57 1-26 1-7 1-2 7-2 7-8" stroke="#4363D8" stroke-opacity="0.45" stroke-width="0.8" vector-effect="non-scaling-stroke"/>
<path d="M0-25l1-6 1-1 2 0 2 3 1 6 3 33 3 24 2 8 4 3 1 4 1 8 1 14 1 21 1 31 2 76 1 20 1 3 1-18 1-39 2-92 1-40 1-20 1-7 2-2 6-1 7-4" stroke="#F58231" stroke-opacity="0.45" stroke-width="0.8" vector-effect="non-scaling-stroke"/>
<path d="M0-2l1 0 1-5 5 1 1 7 1 14 3 35 2 17 4 20 2 26 1 26 2 79 1 76 1 100 1 70 1 22 1-54 1-122 1-109 1-83 1-63 1-29 1-9 1-2 7-1 8-9" stroke="#BFEF45" stroke-opacity="0.35" stroke-width="0.8" vector-effect="non-scaling-stroke"/>
<path d="M0 5l1-4 1-1 4 1 1 5 2 22 2 20 1 8 2 12 2 6 1 5 1 9 1 12 1 19 2 66 1 57 1 86 1 65 1 26 1-40 2-193 1-74 1-57 1-27 1-10 9-3 8-9" stroke="#3CB44B" stroke-opacity="0.45" stroke-width="0.8" vector-effect="non-scaling-stroke"/>
<path d="M0-17l5 0 1 6 4 49 1 10 1 8 4 22 2 27 1 25 2 79 1 69 1 103 1 78 1 33 1-47 2-230 1-88 1-69 1-33 1-13 1-3 5 0 12-8" stroke="#3CB44B" stroke-opacity="0.45" stroke-width="0.8" vector-effect="non-scaling-stroke"/>
<path d="M0-23l1-6 3 0 2 3 1 7 3 33 3 24 3 9 3 0 1 2 2 8 1 9 1 16 1 31 1 49 1 75 1 87 1 98 1 26 1-35 1-118 1-103 1-85 1-59 1-32 1-10 13-7" stroke="#E6194B" stroke-opacity="0.45" stroke-width="0.8" vector-effect="non-scaling-stroke"/>
<path d="M0-19l1-7 3 0 2 4 1 8 2 23 2 20 2 14 2 7 4 1 1 4 1 10 1 15 1 24 1 31 1 41 1 35 1 19 1-3 1-22 1-42 2-95 1-36 1-18 1-4 1-1 10-4 4-4" stroke="#E6C300" stroke-opacity="0.45" stroke-width="0.8" vector-effect="non-scaling-stroke"/>
<path d="M0-26l1-4 3 0 1 1 1 4 3 34 2 20 2 14 1 4 2 4 2-1 2 4 2 10 1 12 1 21 1 41 1 63 3 274 1-6 1-66 1-134 1-100 1-82 1-53 1-24 1-4 2-2 11-5" stroke="#E6194B" stroke-opacity="0.45" stroke-width="0.8" vector-effect="non-scaling-stroke"/>
<path d="M0-40l1-5 1-2 3 0 1 2 1 5 4 43 2 16 2 11 5 11 1 8 1 14 1 21 1 31 1 37 1 43 1 25 1 10 1-15 1-35 3-143 1-27 1-11 4-4 11 0" stroke="#E6C300" stroke-opacity="0.45" stroke-width="0.8" vector-effect="non-scaling-stroke"/>
<path d="M0-18l1-3 2 0 2 2 1 3 4 53 1 11 2 16 3 17 1 11 1 16 1 21 2 82 1 60 1 110 1 93 1 49 1-33 1-100 1-135 1-101 1-78 1-44 1-18 1-4 7-2 10-7" stroke="#3CB44B" stroke-opacity="0.45" stroke-width="0.8" vector-effect="non-scaling-stroke"/>
<path d="M0-22l2-5 3 0 2 3 5 59 1 9 4 23 1 11 1 14 1 19 2 76 1 52 1 101 1 90 1 49 1-21 1-85 1-128 1-96 1-75 1-45 1-20 2-6 5 0 10-4" stroke="#3CB44B" stroke-opacity="0.45" stroke-width="0.8" vector-effect="non-scaling-stroke"/>
<path d="M0-10l1 0 2-5 3 0 1 1 1 4 3 38 2 23 1 9 4 22 1 11 1 14 1 21 2 79 1 59 1 106 1 88 1 47 1-33 1-98 1-130 1-97 1-75 1-41 1-17 1-4 6-1 9-7" stroke="#4363D8" stroke-opacity="0.45" stroke-width="0.8" vector-effect="non-scaling-stroke"/>
<path d="M0 0l1-4 3 0 2 4 4 48 2 20 1 7 3 13 1 9 1 13 1 17 2 73 1 49 2 191 1 52 1-17 1-81 1-131 1-98 1-76 1-47 1-21 2-4 6 0 10-11" stroke="#3CB44B" stroke-opacity="0.45" stroke-width="0.8" vector-effect="non-scaling-stroke"/>
<path d="M0-13l2-5 4 0 1 3 5 55 2 15 3 14 1 10 1 13 1 17 2 70 1 48 2 179 1 47 1-18 1-78 1-122 1-90 1-71 1-42 1-20 2-4 3 0 12-7" stroke="#469990" stroke-opacity="0.45" stroke-width="0.8" vector-effect="non-scaling-stroke"/>
<path d="M0-24l1-6 1-1 2 0 2 3 1 6 1 13 3 33 2 16 1 6 1 3 2 3 2-1 2 5 1 5 1 9 1 15 1 29 1 50 1 76 1 91 1 108 1 48 1-31 2-230 1-95 1-69 1-41 1-14 3-3 10-4" stroke="#E6194B" stroke-opacity="0.45" stroke-width="0.8" vector-effect="non-scaling-stroke"/>
<path d="M0-9l1 0 1-5 1-1 4 2 1 8 3 38 2 21 1 8 3 15 1 7 2 28 1 28 2 82 1 80 1 102 1 71 1 19 1-56 1-126 1-111 1-85 1-64 1-29 1-9 1-2 9-3 6-6" stroke="#DCBEFF" stroke-opacity="0.45" stroke-width="0.8" vector-effect="non-scaling-stroke"/>
<path d="M0-18l1-3 4 1 1 4 4 42 1 9 2 13 1 4 5 2 1 5 1 11 1 16 1 26 1 33 1 42 1 29 1 14 1-10 1-27 3-136 1-29 1-14 2-3 8-3 6-5" stroke="#E6C300" stroke-opacity="0.45" stroke-width="0.8" vector-effect="non-scaling-stroke"/>
<path d="M0-20l2 0 1-5 4 0 1 2 1 6 3 37 2 20 1 8 3 16 1 7 2 28 1 27 2 79 1 77 1 97 1 66 1 19 1-54 1-120 1-105 1-81 1-61 1-28 1-9 1-2 14-3" stroke="#DCBEFF" stroke-opacity="0.45" stroke-width="0.8" vector-effect="non-scaling-stroke"/>
</g>
<rect x="379.5" y="19.6" width="304.9" height="163.1" fill="none" stroke="#555" stroke-width="1"/>
<line x1="390.3" y1="182.7" x2="390.3" y2="187" stroke="#555" stroke-width="1"/>
<text x="390.3" y="197.1" text-anchor="middle" class="t">70</text>
<line x1="446.9" y1="182.7" x2="446.9" y2="187" stroke="#555" stroke-width="1"/>
<text x="446.9" y="197.1" text-anchor="middle" class="t">75</text>
<line x1="503.5" y1="182.7" x2="503.5" y2="187" stroke="#555" stroke-width="1"/>
<text x="503.5" y="197.1" text-anchor="middle" class="t">80</text>
<line x1="560.1" y1="182.7" x2="560.1" y2="187" stroke="#555" stroke-width="1"/>
<text x="560.1" y="197.1" text-anchor="middle" class="t">85</text>
<line x1="616.7" y1="182.7" x2="616.7" y2="187" stroke="#555" stroke-width="1"/>
<text x="616.7" y="197.1" text-anchor="middle" class="t">90</text>
<line x1="673.3" y1="182.7" x2="673.3" y2="187" stroke="#555" stroke-width="1"/>
<text x="673.3" y="197.1" text-anchor="middle" class="t">95</text>
<line x1="379.5" y1="162.2" x2="375.2" y2="162.2" stroke="#555" stroke-width="1"/>
<text transform="translate(370,162.2) rotate(-90)" text-anchor="middle" class="t">0</text>
<line x1="379.5" y1="133.72" x2="375.2" y2="133.72" stroke="#555" stroke-width="1"/>
<text transform="translate(370,133.72) rotate(-90)" text-anchor="middle" class="t">100</text>
<line x1="379.5" y1="105.24" x2="375.2" y2="105.24" stroke="#555" stroke-width="1"/>
<text transform="translate(370,105.24) rotate(-90)" text-anchor="middle" class="t">200</text>
<line x1="379.5" y1="76.76" x2="375.2" y2="76.76" stroke="#555" stroke-width="1"/>
<text transform="translate(370,76.76) rotate(-90)" text-anchor="middle" class="t">300</text>
<line x1="379.5" y1="48.28" x2="375.2" y2="48.28" stroke="#555" stroke-width="1"/>
<text transform="translate(370,48.28) rotate(-90)" text-anchor="middle" class="t">400</text>
<line x1="379.5" y1="19.8" x2="375.2" y2="19.8" stroke="#555" stroke-width="1"/>
<text transform="translate(370,19.8) rotate(-90)" text-anchor="middle" class="t">500</text>
<text x="531.95" y="206.1" text-anchor="middle" class="t">Temperature (°C)</text>
<text x="531.95" y="6.5" text-anchor="middle" class="ti">wzi−4 Biorad CFX96</text>
<g transform="translate(59.58,403.8) scale(2.2640,-0.2500)" fill="none" stroke-linejoin="round">
<path d="M0 14l15 0 8 5 22 7 6 6 6 11 4 12 3 13 2 15 1 13 1 16 1 22 1 34 3 199 1 53 1 14 1-21 1-52 2-144 2-120 1-45 1-30 1-10 3-4 12-4 11 0" stroke="#E6C300" stroke-opacity="0.45" stroke-width="0.8" vector-effect="non-scaling-stroke"/>
<path d="M0 35l8 1 5 6 6 4 25 13 11 16 5 13 2 13 1 10 1 18 2 69 3 167 1 46 1 25 1 0 1-24 1-53 2-131 3-127 1-41 1-24 1-14 1-5 1-2 5-3 21-3" stroke="#3CB44B" stroke-opacity="0.45" stroke-width="0.8" vector-effect="non-scaling-stroke"/>
<path d="M0 41l8 0 4 2 31 31 7 14 4 14 2 11 2 16 2 25 2 44 1 35 3 187 1 49 1 32 1 6 1-26 1-54 1-74 2-192 1-57 1-41 1-26 1-18 1-4 2-2 29-2" stroke="#E6194B" stroke-opacity="0.45" stroke-width="0.8" vector-effect="non-scaling-stroke"/>
<path d="M0 32l20 0 8 10 19 19 2 3 4 11 2 8 2 11 2 16 2 26 1 21 1 30 1 48 2 142 1 53 1 26 1-10 1-34 1-55 2-172 1-64 1-46 1-31 1-19 1-12 3-3 6-1 23-1" stroke="#911EB4" stroke-opacity="0.45" stroke-width="0.8" vector-effect="non-scaling-stroke"/>
<path d="M0 28l9 8 30 14 5 4 13 22 3 9 1 5 2 13 1 10 1 17 1 27 1 33 3 148 2 84 1 20 1 0 1-27 3-196 3-136 1-38 1-18 1-11 2-4 11-4 13-1" stroke="#3CB44B" stroke-opacity="0.45" stroke-width="0.8" vector-effect="non-scaling-stroke"/>
<path d="M0 44l12 11 29 22 5 8 4 9 4 14 2 11 2 15 1 10 2 29 1 22 1 29 1 44 2 108 2 84 1 22 1 6 1-22 1-48 1-67 2-183 1-56 1-42 1-27 1-19 1-8 2-2 28-2" stroke="#4363D8" stroke-opacity="0.45" stroke-width="0.8" vector-effect="non-scaling-stroke"/>
<path d="M0 31l16 0 31 31 4 7 4 12 4 19 1 7 2 19 2 32 1 24 1 35 3 186 1 49 1 27 1-3 1-32 1-56 2-180 1-75 1-50 1-35 1-22 1-13 1-2 6-2 22-1" stroke="#E6194B" stroke-opacity="0.45" stroke-width="0.8" vector-effect="non-scaling-stroke"/>
<path d="M0 29l6 1 8 8 30 23 5 10 3 8 5 22 2 14 2 21 2 34 1 25 1 35 2 107 2 87 1 27 1 10 1-18 1-44 1-65 2-180 1-55 1-40 1-26 1-17 1-5 3-2 26-2" stroke="#4363D8" stroke-opacity="0.45" stroke-width="0.8" vector-effect="non-scaling-stroke"/>
<path d="M0 42l21 19 14 10 6 7 5 10 4 12 2 8 3 17 2 17 2 24 2 41 1 29 1 44 2 115 2 92 1 30 1 13 1-16 1-40 1-63 2-193 1-74 1-52 1-36 1-24 1-15 2-4 4-1 25-2" stroke="#F032E6" stroke-opacity="0.45" stroke-width="0.8" vector-effect="non-scaling-stroke"/>
<path d="M0 38l6 4 31 13 8 8 7 10 5 10 2 6 1 5 2 13 1 10 1 16 1 25 1 29 5 220 1 31 1 12 1-6 1-33 2-138 1-55 3-133 1-37 1-19 1-11 1-3 3-3 15-4 7 0" stroke="#3CB44B" stroke-opacity="0.45" stroke-width="0.8" vector-effect="non-scaling-stroke"/>
<path d="M0 22l2 0 8 7 31 20 3 4 5 11 2 6 4 17 2 13 2 18 2 30 1 22 1 30 2 93 2 77 1 25 1 10 1-11 1-29 1-45 3-201 1-40 1-31 1-20 1-14 1-5 2-2 28-2" stroke="#FABEBE" stroke-opacity="0.45" stroke-width="0.8" vector-effect="non-scaling-stroke"/>
<path d="M0 44l11 0 11 12 26 17 5 5 3 6 4 18 1 7 2 22 2 34 2 70 2 55 1 6 1-18 1-28 2-100 2-86 1-24 1-17 1-7 3-2 28-3" stroke="#3CB44B" stroke-opacity="0.45" stroke-width="0.8" vector-effect="non-scaling-stroke"/>
<path d="M0 45l15 0 22 21 9 6 5 5 3 6 3 9 2 9 2 13 2 20 2 37 1 30 1 48 2 118 1 46 1 30 1 7 1-21 1-45 1-62 2-168 1-51 1-39 1-24 1-17 1-7 2-2 26-2" stroke="#911EB4" stroke-opacity="0.45" stroke-width="0.8" vector-effect="non-scaling-stroke"/>
<path d="M0 38l11 1 7 8 27 16 3 3 9 15 3 8 2 9 2 17 1 15 1 31 1 41 4 240 1 27 1-2 1-33 2-148 1-59 3-144 1-37 1-17 1-10 4-5 15-4 8 0" stroke="#3CB44B" stroke-opacity="0.45" stroke-width="0.8" vector-effect="non-scaling-stroke"/>
<path d="M0 26l14 0 9 5 21 6 7 4 4 3 5 9 4 11 2 8 2 14 1 11 2 34 1 30 1 48 3 197 1 33 1-1 1-30 3-193 2-113 1-43 1-30 1-13 3-4 7-3 13-2" stroke="#E6C300" stroke-opacity="0.45" stroke-width="0.8" vector-effect="non-scaling-stroke"/>
<path d="M0 18l9 7 28 13 6 6 3 5 7 17 3 9 3 13 1 7 2 19 1 18 1 28 1 33 3 154 2 91 1 25 1 7 1-25 3-222 3-158 1-32 1-17 1-6 5-4 10-3 13-1" stroke="#3CB44B" stroke-opacity="0.45" stroke-width="0.8" vector-effect="non-scaling-stroke"/>
<path d="M0 50l37 18 17 19 4 9 2 10 2 16 1 16 1 24 1 30 1 41 3 145 1 40 1 33 1 14 1-7 1-33 2-141 1-56 3-136 1-39 1-19 1-12 2-5 4-2 21-4" stroke="#3CB44B" stroke-opacity="0.45" stroke-width="0.8" vector-effect="non-scaling-stroke"/>
<path d="M0 43l12 0 9 8 30 14 7 7 3 6 2 7 2 16 1 19 1 29 4 194 1 34 1 9 1-14 1-40 2-117 4-151 1-25 1-14 1-6 2-3 24-5" stroke="#BFEF45" stroke-opacity="0.45" stroke-width="0.8" vector-effect="non-scaling-stroke"/>
<path d="M0 42l4 1 9 9 30 23 7 13 3 9 2 8 2 11 2 15 1 11 2 31 1 24 1 31 3 156 1 41 1 33 1 15 1-7 1-30 1-51 3-238 1-49 1-37 1-23 1-17 1-6 3-2 26-2" stroke="#E6194B" stroke-opacity="0.45" stroke-width="0.8" vector-effect="non-scaling-stroke"/>
<path d="M0 30l8 7 27 18 7 8 2 4 3 10 3 18 2 23 3 54 3 79 2 38 1 18 1 13 1 6 1-8 1-22 2-57 2-69 5-139 1-22 1-7 3-2 31 1" stroke="#F58231" stroke-opacity="0.3" stroke-width="0.8" vector-effect="non-scaling-stroke"/>
<path d="M0 45l12 9 28 13 14 16 4 8 2 8 2 14 1 12 2 51 1 38 4 197 1 33 1 12 1-11 1-40 2-142 4-186 1-33 1-16 1-8 3-4 12-4 12-1" stroke="#3CB44B" stroke-opacity="0.45" stroke-width="0.8" vector-effect="non-scaling-stroke"/>
<path d="M0 33l24 17 11 6 5 5 8 16 3 10 3 14 2 14 2 20 1 14 2 42 1 34 3 133 2 61 1 12 1-6 1-25 1-44 1-60 2-153 1-46 1-35 1-24 1-17 1-10 4-2 27-2" stroke="#FABEBE" stroke-opacity="0.45" stroke-width="0.8" vector-effect="non-scaling-stroke"/>
<path d="M0 32l9 1 15 14 20 15 7 13 2 6 4 17 2 13 2 19 2 32 1 24 1 33 2 110 2 91 1 26 1 7 1-21 1-47 1-65 2-174 1-52 1-38 1-24 1-16 1-4 3-2 26-2" stroke="#DCBEFF" stroke-opacity="0.45" stroke-width="0.8" vector-effect="non-scaling-stroke"/>
<path d="M0 43l5 0 9 5 29 8 11 1 5 7 3 6 2 7 2 14 2 23 1 18 1 26 1 38 3 172 1 45 1 16 1-10 1-37 2-130 3-164 1-36 1-26 1-6 2-3 13-4 9 0" stroke="#E6C300" stroke-opacity="0.45" stroke-width="0.8" vector-effect="non-scaling-stroke"/>
<path d="M0 17l13 1 12 12 20 16 4 8 3 9 2 7 4 20 3 24 1 12 2 36 1 28 1 41 3 165 1 38 1 16 1-10 1-35 1-56 2-174 1-63 1-44 1-30 1-20 1-10 2-2 27-3" stroke="#911EB4" stroke-opacity="0.45" stroke-width="0.8" vector-effect="non-scaling-stroke"/>
<path d="M0 37l32 6 15 5 5 4 5 7 4 8 2 7 2 11 2 17 2 26 1 20 1 26 1 38 3 131 1 36 1 21 1 7 1-16 1-40 2-121 3-150 1-33 1-24 1-6 2-3 20-5" stroke="#E6C300" stroke-opacity="0.45" stroke-width="0.8" vector-effect="non-scaling-stroke"/>
<path d="M0 44l24 0 17 21 10 8 5 12 3 14 2 15 2 26 1 21 1 32 1 51 2 152 1 54 1 20 1-17 1-43 1-65 2-183 1-55 1-42 1-26 1-18 1-6 5-2 25-1" stroke="#F032E6" stroke-opacity="0.45" stroke-width="0.8" vector-effect="non-scaling-stroke"/>
<path d="M0 26l21 0 5 4 25 9 9 8 3 7 5 17 1 6 2 23 1 17 1 24 1 39 3 207 1 42 1 2 1-30 3-198 2-115 1-39 1-28 1-6 2-3 7-3 13-2" stroke="#E6C300" stroke-opacity="0.45" stroke-width="0.8" vector-effect="non-scaling-stroke"/>
<path d="M0 26l9 0 17 17 17 14 4 7 4 11 3 12 3 17 2 17 2 26 1 19 1 26 1 35 2 122 2 102 1 29 1 6 1-22 1-47 1-65 2-182 1-57 1-43 1-29 1-20 1-10 4-3 26-2" stroke="#4363D8" stroke-opacity="0.45" stroke-width="0.8" vector-effect="non-scaling-stroke"/>
<path d="M0 32l40 26 4 6 5 11 2 6 4 16 3 19 2 19 2 29 1 21 1 25 4 165 1 32 1 24 1 12 1-5 1-26 1-47 1-64 2-159 2-84 1-23 1-17 1-8 2-1 26-3" stroke="#42D4F4" stroke-opacity="0.45" stroke-width="0.8" vector-effect="non-scaling-stroke"/>
<path d="M0 34l5 2 8 8 29 22 6 11 3 8 4 16 2 12 2 18 2 27 1 19 1 27 1 37 2 107 2 87 1 26 1 10 1-18 1-43 1-62 2-181 1-57 1-43 1-27 1-19 1-8 2-2 28-2" stroke="#911EB4" stroke-opacity="0.45" stroke-width="0.8" vector-effect="non-scaling-stroke"/>
<path d="M0 34l10 1 5 6 22 17 8 8 5 10 3 9 2 8 2 11 2 16 1 11 2 32 1 25 1 33 2 114 2 92 1 25 1 5 1-23 1-47 1-65 2-171 1-51 1-39 1-25 1-17 1-7 2-1 28-3" stroke="#F032E6" stroke-opacity="0.45" stroke-width="0.8" vector-effect="non-scaling-stroke"/>
<path d="M0 31l9 1 10 10 24 19 6 11 4 12 3 14 2 15 2 21 2 37 1 28 1 44 2 114 1 46 1 36 1 14 1-12 1-37 1-57 2-173 1-60 1-43 1-30 1-19 1-10 3-2 28-2" stroke="#911EB4" stroke-opacity="0.45" stroke-width="0.8" vector-effect="non-scaling-stroke"/>
<path d="M0 33l4 1 8 8 24 17 7 7 6 12 3 9 4 18 3 24 2 27 1 19 1 26 1 36 2 107 2 86 1 28 1 10 1-15 1-39 1-57 2-172 1-62 1-45 1-31 1-20 1-13 4-4 26-2" stroke="#911EB4" stroke-opacity="0.45" stroke-width="0.8" vector-effect="non-scaling-stroke"/>
<path d="M0 52l29 21 8 8 3 5 2 6 4 18 2 17 3 48 2 45 2 56 3 60 1 16 1 10 1 2 1-18 2-62 2-81 5-162 1-26 1-9 2-2 35 2" stroke="#F58231" stroke-opacity="0.3" stroke-width="0.8" vector-effect="non-scaling-stroke"/>
<path d="M0 43l42 35 5 9 5 14 3 12 2 12 1 7 2 20 1 13 2 38 1 29 1 40 2 112 2 93 1 32 1 16 1-9 1-33 1-58 3-266 1-54 1-41 1-25 1-18 1-6 3-2 25-2" stroke="#911EB4" stroke-opacity="0.45" stroke-width="0.8" vector-effect="non-scaling-stroke"/>
<path d="M0 34l18 0 8 5 30 9 4 6 5 14 1 5 2 17 1 14 1 18 1 28 1 46 3 204 1 27 1-11 1-43 2-142 3-169 1-31 1-13 3-4 8-3 14-1" stroke="#E6C300" stroke-opacity="0.45" stroke-width="0.8" vector-effect="non-scaling-stroke"/>
<path d="M0 41l9 0 9 9 32 18 3 3 4 9 2 8 2 11 1 8 2 24 1 15 2 58 2 50 1 12 1-8 1-21 1-29 2-86 2-70 2-32 1-5 2-2 28-2" stroke="#3CB44B" stroke-opacity="0.45" stroke-width="0.8" vector-effect="non-scaling-stroke"/>
<path d="M0 32l10 9 28 13 5 4 10 15 4 8 3 12 2 14 1 12 1 22 2 71 3 156 1 43 1 27 1 8 1-21 1-57 2-143 3-141 1-39 1-18 1-10 4-5 10-3 14-1" stroke="#3CB44B" stroke-opacity="0.45" stroke-width="0.8" vector-effect="non-scaling-stroke"/>
<path d="M0 30l4 1 12 11 22 11 6 5 12 23 3 10 2 11 2 21 1 22 1 33 1 42 3 175 1 48 1 29 1 5 1-30 2-163 1-64 3-158 1-28 1-15 2-6 6-3 21-3" stroke="#3CB44B" stroke-opacity="0.45" stroke-width="0.8" vector-effect="non-scaling-stroke"/>
<path d="M0 34l8 0 9 10 27 24 4 8 4 12 4 19 2 15 2 23 2 37 1 29 1 40 3 178 1 44 1 23 1-1 1-30 1-57 3-263 1-53 1-38 1-24 1-15 2-4 4-1 25-2" stroke="#E6194B" stroke-opacity="0.45" stroke-width="0.8" vector-effect="non-scaling-stroke"/>
<path d="M0 28l9 0 12 12 23 19 3 5 5 14 2 8 3 16 1 7 2 20 2 34 1 25 1 35 2 117 2 94 1 24 1 2 1-25 1-50 1-69 2-172 1-51 1-38 1-23 1-17 1-4 2-2 28-2" stroke="#911EB4" stroke-opacity="0.45" stroke-width="0.8" vector-effect="non-scaling-stroke"/>
<path d="M0 35l28 5 17 5 9 9 5 9 3 10 2 11 2 18 2 28 1 21 1 30 4 174 1 33 1 14 1-3 1-25 1-48 2-121 2-99 1-43 1-28 1-17 1-3 4-3 19-3" stroke="#E6C300" stroke-opacity="0.45" stroke-width="0.8" vector-effect="non-scaling-stroke"/>
<path d="M0 23l11 0 14 15 19 17 3 6 4 12 2 8 3 16 2 16 2 22 2 38 1 29 1 42 3 186 1 43 1 20 1-10 1-39 1-63 2-194 1-67 1-49 1-31 1-21 1-10 4-2 27-2" stroke="#FABEBE" stroke-opacity="0.45" stroke-width="0.8" vector-effect="non-scaling-stroke"/>
<path d="M0 25l13 1 6 7 26 15 3 4 9 18 3 8 2 9 1 6 2 22 1 25 1 36 1 52 3 176 1 34 1 5 1-26 3-203 3-143 1-33 1-17 1-7 3-4 15-4 9 0" stroke="#3CB44B" stroke-opacity="0.45" stroke-width="0.8" vector-effect="non-scaling-stroke"/>
<path d="M0 40l14 1 10 11 20 12 6 6 3 5 6 12 3 12 2 18 1 17 1 33 1 45 3 200 1 51 1 18 1-17 1-58 2-161 3-160 1-39 1-19 1-8 3-4 12-4 13-1" stroke="#3CB44B" stroke-opacity="0.45" stroke-width="0.8" vector-effect="non-scaling-stroke"/>
<path d="M0 36l16 0 32 34 3 6 3 9 2 8 3 17 2 18 2 28 1 21 1 30 1 43 3 203 1 46 1 16 1-21 1-55 1-81 2-206 1-60 1-40 1-25 1-13 4-3 5-1 21-1" stroke="#E6194B" stroke-opacity="0.45" stroke-width="0.8" vector-effect="non-scaling-stroke"/>
<path d="M0 29l7 1 31 31 5 8 3 10 3 20 1 9 1 15 3 70 3 107 1 27 2 47 1 12 1-7 1-27 2-71 2-85 5-171 1-23 3-3 34 1" stroke="#F58231" stroke-opacity="0.3" stroke-width="0.8" vector-effect="non-scaling-stroke"/>
<path d="M0 33l9 0 37 33 4 8 4 12 4 19 1 7 2 19 2 30 1 22 1 30 1 47 2 118 1 47 1 38 1 16 1-11 1-34 1-56 2-174 1-71 1-48 1-34 1-22 1-15 4-4 25-2" stroke="#4363D8" stroke-opacity="0.45" stroke-width="0.8" vector-effect="non-scaling-stroke"/>
<path d="M0 27l10 0 9 5 26 7 9 5 7 12 3 8 2 8 2 14 2 24 1 18 1 27 1 41 3 183 1 43 1 11 1-20 1-50 2-140 2-117 1-46 1-31 1-13 3-4 8-3 12-1" stroke="#E6C300" stroke-opacity="0.45" stroke-width="0.8" vector-effect="non-scaling-stroke"/>
<path d="M0 46l17 0 11 13 21 20 3 6 3 9 3 15 2 16 2 26 1 21 1 29 1 44 3 200 1 38 1 8 1-24 1-51 1-71 2-184 1-55 1-41 1-26 1-18 1-5 4-2 26-2" stroke="#911EB4" stroke-opacity="0.45" stroke-width="0.8" vector-effect="non-scaling-stroke"/>
<path d="M0 25l45 12 6 7 5 10 4 11 2 8 2 14 2 20 1 14 1 19 1 25 1 38 4 192 1 25 1 6 1-20 1-48 2-133 3-159 1-31 1-20 4-5 14-4 7 0" stroke="#E6C300" stroke-opacity="0.45" stroke-width="0.8" vector-effect="non-scaling-stroke"/>
<path d="M0 31l23 0 28 30 5 14 2 9 2 13 2 20 1 15 1 22 1 33 1 55 2 134 1 46 1 13 1-18 1-39 1-55 2-161 1-53 1-40 1-28 1-18 1-11 7-3 23-1" stroke="#4363D8" stroke-opacity="0.45" stroke-width="0.8" vector-effect="non-scaling-stroke"/>
<path d="M0 39l8 0 12 11 23 12 7 7 6 9 3 6 2 6 1 5 1 6 2 21 1 24 1 35 1 48 3 172 1 42 1 15 1-14 1-48 2-150 4-191 1-22 1-13 1-3 6-4 20-3" stroke="#BFEF45" stroke-opacity="0.45" stroke-width="0.8" vector-effect="non-scaling-stroke"/>
<path d="M0 24l21 0 11 12 15 10 4 5 3 6 7 18 3 13 1 7 1 11 1 16 1 35 1 51 3 211 1 34 1-6 1-42 2-155 4-200 1-22 1-13 2-4 7-3 7-2 11 0" stroke="#3CB44B" stroke-opacity="0.45" stroke-width="0.8" vector-effect="non-scaling-stroke"/>
<path d="M0 40l25 22 13 9 5 6 6 12 2 6 2 7 3 15 2 15 2 21 2 34 1 25 1 34 3 166 1 45 1 37 1 18 1-5 1-32 1-58 3-266 1-54 1-39 1-24 1-16 1-4 5-2 24-2" stroke="#911EB4" stroke-opacity="0.45" stroke-width="0.8" vector-effect="non-scaling-stroke"/>
<path d="M0 38l14 0 10 11 18 11 7 6 11 22 3 14 2 20 1 22 1 38 1 54 3 206 1 42 1 7 1-27 3-214 4-195 1-21 1-13 3-6 11-4 13-1" stroke="#3CB44B" stroke-opacity="0.45" stroke-width="0.8" vector-effect="non-scaling-stroke"/>
<path d="M0 36l19 0 13 7 25 7 6 11 2 6 2 9 1 6 1 10 1 14 1 18 1 27 1 42 3 210 1 40 1-1 1-35 2-142 3-183 1-37 1-24 1-4 6-4 17-3" stroke="#E6C300" stroke-opacity="0.45" stroke-width="0.8" vector-effect="non-scaling-stroke"/>
<path d="M0 39l4 0 10 11 24 21 5 6 4 8 4 12 3 13 3 19 2 19 1 13 2 37 1 27 1 37 3 188 1 51 1 41 1 18 1-11 1-39 1-65 2-203 1-85 1-57 1-40 1-26 1-17 1-3 3-2 26-2" stroke="#E6194B" stroke-opacity="0.45" stroke-width="0.8" vector-effect="non-scaling-stroke"/>
<path d="M0 38l11 0 11 11 28 17 4 5 3 7 2 8 3 17 1 9 2 27 1 18 2 66 1 26 1 22 1 4 1-16 1-24 4-169 1-25 1-17 1-9 1-2 6-2 23-1" stroke="#4363D8" stroke-opacity="0.45" stroke-width="0.8" vector-effect="non-scaling-stroke"/>
<path d="M0 36l3 1 8 8 25 18 6 6 7 14 2 6 4 17 2 14 2 20 2 32 1 23 1 32 3 156 1 42 1 33 1 15 1-8 1-30 1-51 3-238 1-49 1-37 1-23 1-17 1-7 1-1 29-3" stroke="#911EB4" stroke-opacity="0.45" stroke-width="0.8" vector-effect="non-scaling-stroke"/>
<path d="M0 30l13 0 7 5 23 7 9 5 2 2 4 8 3 8 3 12 2 16 2 29 1 22 1 34 1 56 3 206 1 26 1-10 1-40 2-144 3-183 1-39 1-27 1-7 3-3 12-4 10-1" stroke="#E6C300" stroke-opacity="0.45" stroke-width="0.8" vector-effect="non-scaling-stroke"/>
<path d="M0 32l9 0 3 2 5 6 29 24 5 10 3 9 3 12 2 12 2 16 2 26 2 44 1 35 3 168 1 42 1 27 1 6 1-24 1-52 3-256 1-52 1-37 1-23 1-14 1-2 7-2 21-1" stroke="#DCBEFF" stroke-opacity="0.45" stroke-width="0.8" vector-effect="non-scaling-stroke"/>
<path d="M0 26l26 20 9 5 7 7 3 5 6 17 2 8 3 17 2 15 1 11 2 29 1 21 1 27 1 40 2 101 2 81 1 24 1 11 1-16 1-40 1-60 2-179 1-59 1-43 1-29 1-19 1-10 2-2 28-2" stroke="#911EB4" stroke-opacity="0.45" stroke-width="0.8" vector-effect="non-scaling-stroke"/>
<path d="M0 31l4 0 10 5 21 5 18 7 3 4 5 10 4 14 2 16 2 25 1 20 1 28 1 43 3 174 1 41 1 12 1-17 1-45 2-137 3-165 1-33 1-20 6-6 18-3" stroke="#E6C300" stroke-opacity="0.45" stroke-width="0.8" vector-effect="non-scaling-stroke"/>
<path d="M0 38l10 0 11 10 23 12 7 7 6 9 3 7 2 8 1 6 2 21 1 25 1 36 4 218 1 33 1 8 1-23 1-56 2-139 3-138 1-37 1-17 1-10 3-4 14-4 10 0" stroke="#BFEF45" stroke-opacity="0.45" stroke-width="0.8" vector-effect="non-scaling-stroke"/>
<path d="M0 14l14 0 8 9 23 14 7 14 8 23 2 9 2 15 1 12 1 20 1 35 1 47 3 190 1 43 1 12 1-27 1-70 1-95 3-173 1-49 1-22 1-10 3-4 11-4 14-1" stroke="#3CB44B" stroke-opacity="0.45" stroke-width="0.8" vector-effect="non-scaling-stroke"/>
<path d="M0 41l6 2 9 9 21 15 9 9 6 12 2 6 3 12 2 12 2 18 2 27 2 48 1 41 3 155 1 38 1 23 1 6 1-19 1-39 1-55 2-163 1-63 1-44 1-33 1-22 1-15 1-6 3-2 25-2" stroke="#42D4F4" stroke-opacity="0.45" stroke-width="0.8" vector-effect="non-scaling-stroke"/>
<path d="M0 24l8 0 8 9 26 15 7 8 4 8 2 6 3 14 2 13 1 10 2 27 1 18 3 91 1 22 1 8 1-14 1-24 4-167 1-28 1-17 1-11 1-3 6-2 25-2" stroke="#4363D8" stroke-opacity="0.45" stroke-width="0.8" vector-effect="non-scaling-stroke"/>
<path d="M0 20l16 1 15 16 13 11 6 12 4 15 3 16 2 16 2 25 2 46 1 38 3 186 1 42 1 14 1-18 1-44 1-64 2-180 1-54 1-41 1-26 1-17 1-6 5-2 26-1" stroke="#F032E6" stroke-opacity="0.45" stroke-width="0.8" vector-effect="non-scaling-stroke"/>
<path d="M0 28l33 7 13 5 6 8 4 8 4 11 2 9 2 14 2 21 2 35 1 27 1 41 3 145 1 39 1 21 1 3 1-24 1-50 2-133 2-110 1-45 1-30 1-15 3-4 8-3 14-1" stroke="#E6C300" stroke-opacity="0.45" stroke-width="0.8" vector-effect="non-scaling-stroke"/>
<path d="M0 58l11 10 22 15 8 8 7 12 5 14 2 9 3 23 2 27 1 20 1 26 1 37 2 104 2 84 1 30 1 13 1-11 1-36 1-60 2-184 1-68 1-47 1-33 1-20 1-12 10-3 21-1" stroke="#4363D8" stroke-opacity="0.45" stroke-width="0.8" vector-effect="non-scaling-stroke"/>
<path d="M0 23l12 0 33 30 4 7 4 12 3 12 2 11 2 15 2 22 2 38 1 30 1 46 2 123 1 49 1 37 1 13 1-17 1-41 1-62 2-179 1-58 1-44 1-29 1-19 1-10 2-1 27-3" stroke="#E6194B" stroke-opacity="0.45" stroke-width="0.8" vector-effect="non-scaling-stroke"/>
<path d="M0 22l4 0 9 5 24 6 11 5 5 6 4 8 4 11 2 8 2 13 1 10 2 27 1 23 1 31 1 50 3 176 1 34 1 5 1-26 1-57 2-144 2-118 1-43 1-29 1-9 2-3 11-4 12-1" stroke="#E6C300" stroke-opacity="0.45" stroke-width="0.8" vector-effect="non-scaling-stroke"/>
<path d="M0 54l16 0 24 24 9 5 3 3 3 6 4 14 2 12 2 19 2 35 1 28 1 42 3 180 1 39 1 14 1-19 1-47 1-68 2-185 1-55 1-40 1-24 1-16 2-4 4-1 23-1" stroke="#E6194B" stroke-opacity="0.45" stroke-width="0.8" vector-effect="non-scaling-stroke"/>
<path d="M0 41l16 0 11 12 20 13 3 3 5 9 5 11 3 12 2 18 1 16 1 33 1 48 3 217 1 55 1 17 1-19 1-57 2-161 4-206 1-25 1-14 1-4 3-4 23-5" stroke="#3CB44B" stroke-opacity="0.45" stroke-width="0.8" vector-effect="non-scaling-stroke"/>
<path d="M0 43l7 0 12 6 34 8 4 4 5 10 3 11 2 17 1 13 1 15 1 23 1 32 1 51 3 179 1 33 1 4 1-30 3-211 2-122 1-39 1-24 1-4 6-4 18-3" stroke="#E6C300" stroke-opacity="0.45" stroke-width="0.8" vector-effect="non-scaling-stroke"/>
<path d="M0 39l12 5 26 7 8 4 6 7 5 11 4 14 2 11 2 20 2 30 1 23 1 31 1 46 4 243 1 30 1 6 1-27 1-60 2-162 3-193 1-38 1-25 2-5 7-4 16-3" stroke="#E6C300" stroke-opacity="0.45" stroke-width="0.8" vector-effect="non-scaling-stroke"/>
<path d="M0 49l35 30 6 9 2 6 3 14 2 14 1 11 1 16 3 64 3 92 2 45 1 20 1 14 1 4 1-17 1-33 1-35 3-127 4-141 1-26 1-4 1-1 36 2" stroke="#F58231" stroke-opacity="0.3" stroke-width="0.8" vector-effect="non-scaling-stroke"/>
<path d="M0 25l8 1 6 7 22 17 7 7 2 3 6 17 2 8 3 17 2 17 2 25 2 44 1 33 3 167 1 43 1 29 1 9 1-22 1-50 1-73 2-184 1-53 1-38 1-23 1-15 1-2 7-2 24-1" stroke="#911EB4" stroke-opacity="0.45" stroke-width="0.8" vector-effect="non-scaling-stroke"/>
<path d="M0 24l13 0 10 11 21 18 4 7 3 8 3 11 3 15 2 14 2 22 1 15 1 21 1 28 1 40 3 180 1 42 1 18 1-12 1-39 1-62 2-187 1-62 1-46 1-29 1-20 1-8 2-1 28-3" stroke="#911EB4" stroke-opacity="0.45" stroke-width="0.8" vector-effect="non-scaling-stroke"/>
<path d="M0 41l11 0 11 11 23 13 5 5 7 11 2 4 3 10 2 14 1 11 1 22 1 36 1 49 3 187 1 43 1 14 1-19 1-56 2-153 3-150 1-42 1-20 1-11 4-5 13-4 10 0" stroke="#3CB44B" stroke-opacity="0.45" stroke-width="0.8" vector-effect="non-scaling-stroke"/>
<path d="M0 14l10 0 6 4 30 9 8 9 4 8 6 18 2 9 1 7 2 20 2 34 1 29 1 46 3 178 1 36 1 7 1-27 3-207 2-120 1-38 1-23 1-3 4-3 10-3 9 0" stroke="#E6C300" stroke-opacity="0.45" stroke-width="0.8" vector-effect="non-scaling-stroke"/>
<path d="M0 27l11 1 8 8 27 21 5 10 3 9 3 12 2 12 2 17 2 28 1 21 1 28 4 194 1 31 1 12 1-14 1-34 1-51 2-156 1-60 1-42 1-30 1-18 1-13 2-4 4-1 23-1" stroke="#DCBEFF" stroke-opacity="0.45" stroke-width="0.8" vector-effect="non-scaling-stroke"/>
<path d="M0 29l18 14 15 9 7 7 3 5 5 13 4 16 3 17 2 16 2 23 2 35 1 25 1 35 3 145 1 39 1 34 1 19 1 5 1-21 1-47 1-67 2-186 1-57 1-43 1-28 1-19 1-9 2-1 28-3" stroke="#FABEBE" stroke-opacity="0.45" stroke-width="0.8" vector-effect="non-scaling-stroke"/>
<path d="M0 44l11 0 12 12 29 16 4 4 3 7 2 7 3 17 1 9 2 26 1 17 3 92 1 23 1 13 1-10 1-21 1-29 2-90 2-74 2-37 1-9 1-2 6-2 20-1" stroke="#3CB44B" stroke-opacity="0.45" stroke-width="0.8" vector-effect="non-scaling-stroke"/>
<path d="M0 40l6 5 29 13 11 7 5 5 3 6 3 9 3 14 1 7 3 30 1 14 3 74 2 35 1 8 1-10 1-20 1-29 2-84 2-69 1-19 1-14 1-8 5-3 24-2" stroke="#3CB44B" stroke-opacity="0.45" stroke-width="0.8" vector-effect="non-scaling-stroke"/>
<path d="M0 40l5 2 6 6 24 16 9 8 7 12 4 12 2 10 2 13 2 19 2 32 1 24 1 34 2 100 2 82 1 26 1 11 1-14 1-38 1-57 2-170 1-57 1-41 1-28 1-18 1-10 2-1 27-2" stroke="#4363D8" stroke-opacity="0.45" stroke-width="0.8" vector-effect="non-scaling-stroke"/>
<path d="M0 42l18 16 20 15 9 18 6 24 2 14 2 19 2 30 1 22 1 28 1 41 2 111 2 90 1 31 1 14 1-13 1-39 1-62 2-193 1-72 1-51 1-35 1-22 1-13 4-3 5-1 23-1" stroke="#F032E6" stroke-opacity="0.45" stroke-width="0.8" vector-effect="non-scaling-stroke"/>
<path d="M0 29l9 0 36 32 3 6 4 12 2 8 3 17 2 18 1 13 2 39 1 31 3 164 1 45 1 31 1 9 1-18 1-44 1-63 2-174 1-53 1-41 1-25 1-18 1-7 3-2 28-2" stroke="#911EB4" stroke-opacity="0.45" stroke-width="0.8" vector-effect="non-scaling-stroke"/>
<path d="M0 42l38 17 8 8 5 12 5 20 2 14 3 30 1 13 3 68 2 36 1 13 1 5 1-13 1-23 1-34 3-130 1-31 1-18 1-13 1-5 5-2 26-2" stroke="#4363D8" stroke-opacity="0.45" stroke-width="0.8" vector-effect="non-scaling-stroke"/>
<path d="M0 45l8 0 15 7 21 6 10 1 4 5 4 8 3 12 1 7 2 23 1 16 1 24 1 33 4 237 1 29 1 1 1-32 3-205 2-120 1-41 1-28 1-7 2-3 14-5 8 0" stroke="#E6C300" stroke-opacity="0.45" stroke-width="0.8" vector-effect="non-scaling-stroke"/>
<path d="M0 26l13 10 29 14 9 10 5 14 4 19 2 18 2 24 1 17 2 55 1 22 1 20 1 12 1-6 1-20 1-28 2-89 2-71 1-19 1-13 1-5 3-2 27-2" stroke="#911EB4" stroke-opacity="0.45" stroke-width="0.8" vector-effect="non-scaling-stroke"/>
<path d="M0 30l13 0 8 5 30 10 5 5 4 8 3 9 2 9 2 15 1 13 1 16 1 22 1 34 1 56 2 139 1 56 1 21 1-11 1-38 3-194 2-110 1-39 1-29 1-10 3-4 13-4 8 0" stroke="#E6C300" stroke-opacity="0.45" stroke-width="0.8" vector-effect="non-scaling-stroke"/>
<path d="M0 22l8 4 27 6 13 6 3 4 9 20 2 7 2 10 2 17 2 25 1 18 1 26 1 37 4 206 1 28 1 8 1-21 1-50 2-138 3-166 1-33 1-20 1-3 5-4 18-3" stroke="#E6C300" stroke-opacity="0.45" stroke-width="0.8" vector-effect="non-scaling-stroke"/>
<path d="M0 38l22 0 11 13 13 9 9 9 3 6 3 13 2 14 2 27 1 20 1 30 1 45 1 34 1 25 1-5 1-22 1-31 3-139 1-34 1-20 1-14 1-4 3-2 27-2" stroke="#3CB44B" stroke-opacity="0.45" stroke-width="0.8" vector-effect="non-scaling-stroke"/>
<path d="M0 40l14 0 8 5 33 9 2 2 5 10 2 6 2 9 2 17 1 14 1 17 1 26 1 38 3 201 1 51 1 14 1-16 1-43 2-133 3-168 1-39 1-29 1-11 3-4 20-5" stroke="#E6C300" stroke-opacity="0.45" stroke-width="0.8" vector-effect="non-scaling-stroke"/>
<path d="M0 28l12 5 26 6 11 5 4 5 6 12 2 6 3 13 1 8 2 22 1 15 1 21 1 30 1 46 3 166 1 39 1 13 1-13 1-40 2-132 3-167 1-37 1-27 1-8 3-4 14-4 7 0" stroke="#E6C300" stroke-opacity="0.45" stroke-width="0.8" vector-effect="non-scaling-stroke"/>
<path d="M0 28l9 8 27 17 7 7 6 12 4 12 3 14 2 13 2 18 2 29 1 21 1 27 3 136 2 72 1 20 1 7 1-18 1-41 1-59 2-168 1-53 1-40 1-26 1-17 1-9 2-1 27-2" stroke="#DCBEFF" stroke-opacity="0.45" stroke-width="0.8" vector-effect="non-scaling-stroke"/>
<path d="M0 37l41 32 5 9 5 14 3 12 2 12 1 7 2 20 2 32 1 23 1 29 3 150 2 78 1 20 1 3 1-23 1-48 1-68 2-180 1-54 1-41 1-26 1-18 1-7 3-2 27-2" stroke="#4363D8" stroke-opacity="0.45" stroke-width="0.8" vector-effect="non-scaling-stroke"/>
<path d="M0 55l6 5 33 15 16 15 4 8 2 8 2 14 1 12 1 22 2 65 3 149 2 82 1 18 1 1 1-26 3-202 3-139 1-43 1-21 1-13 1-4 5-4 20-4" stroke="#3CB44B" stroke-opacity="0.45" stroke-width="0.8" vector-effect="non-scaling-stroke"/>
<path d="M0 45l19 0 8 9 26 16 5 8 4 10 2 14 1 11 1 24 1 41 3 198 1 51 1 13 1-19 1-54 2-141 3-139 1-39 1-18 1-10 2-3 16-5 10 0" stroke="#3CB44B" stroke-opacity="0.45" stroke-width="0.8" vector-effect="non-scaling-stroke"/>
<path d="M0 27l6 2 5 6 32 26 7 16 3 11 3 15 2 15 2 20 2 32 1 24 1 31 4 210 1 38 1 18 1-3 1-30 1-54 1-74 2-180 1-53 1-39 1-25 1-17 1-6 2-1 27-3" stroke="#F032E6" stroke-opacity="0.45" stroke-width="0.8" vector-effect="non-scaling-stroke"/>
<path d="M0 46l20 0 25 34 2 4 2 6 1 5 1 6 2 19 1 17 2 62 2 97 2 78 1 28 1 6 1-23 1-38 3-139 4-158 1-34 1-11 2-2 35 2" stroke="#F58231" stroke-opacity="0.3" stroke-width="0.8" vector-effect="non-scaling-stroke"/>
<path d="M0 33l15 0 20 20 7 5 5 5 4 7 3 8 3 12 2 12 2 17 2 29 1 23 1 33 3 177 1 47 1 25 1-5 1-31 1-53 2-171 1-68 1-47 1-32 1-21 1-12 5-3 25-2" stroke="#911EB4" stroke-opacity="0.45" stroke-width="0.8" vector-effect="non-scaling-stroke"/>
<path d="M0 34l19 15 13 8 6 6 5 9 4 11 2 7 4 20 2 15 2 21 1 13 2 39 1 28 1 41 2 103 2 85 1 31 1 16 1-3 1-28 1-52 1-72 2-185 2-96 1-28 1-19 1-8 2-2 29-3" stroke="#E6194B" stroke-opacity="0.45" stroke-width="0.8" vector-effect="non-scaling-stroke"/>
<path d="M0 20l13 8 30 12 3 3 11 18 3 7 2 8 1 5 2 16 1 16 2 52 3 125 2 70 1 15 1 0 1-28 2-127 4-170 1-23 1-13 1-4 2-2 23-4" stroke="#BFEF45" stroke-opacity="0.45" stroke-width="0.8" vector-effect="non-scaling-stroke"/>
<path d="M0 38l14 6 38 10 3 3 5 9 2 5 3 13 2 18 1 13 1 16 1 24 1 33 4 222 1 32 1 6 1-26 1-56 2-146 2-120 1-43 1-30 1-8 2-3 10-4 12-1" stroke="#E6C300" stroke-opacity="0.45" stroke-width="0.8" vector-effect="non-scaling-stroke"/>
<path d="M0 40l4 0 11 10 27 14 6 6 9 13 3 7 2 9 1 6 2 20 1 23 2 76 3 168 1 46 1 27 1 4 1-28 3-214 3-151 1-33 1-18 1-7 3-3 12-4 11-1" stroke="#3CB44B" stroke-opacity="0.45" stroke-width="0.8" vector-effect="non-scaling-stroke"/>
<path d="M0 38l6 0 12 12 27 23 5 10 3 9 3 12 2 11 2 16 2 24 1 17 1 23 1 30 1 45 2 119 2 92 1 23 1 2 1-25 1-50 1-68 2-186 1-57 1-45 1-29 1-20 1-12 1-1 14-3 13 0" stroke="#4363D8" stroke-opacity="0.45" stroke-width="0.8" vector-effect="non-scaling-stroke"/>
<path d="M0 31l11 1 7 8 28 24 4 8 4 12 4 19 3 24 1 12 2 36 1 28 1 38 2 120 2 95 1 23 1 1 1-27 1-52 3-252 1-53 1-39 1-24 1-17 1-5 2-1 26-2" stroke="#4363D8" stroke-opacity="0.45" stroke-width="0.8" vector-effect="non-scaling-stroke"/>
<path d="M0 47l15 1 8 9 18 11 10 4 3 3 3 7 2 8 2 11 1 9 2 27 1 20 2 66 1 25 1 17 1-6 1-20 1-27 2-87 2-70 1-19 1-14 1-6 5-2 26-2" stroke="#911EB4" stroke-opacity="0.45" stroke-width="0.8" vector-effect="non-scaling-stroke"/>
<path d="M0 40l4 1 16 16 22 19 3 5 5 13 3 12 3 17 2 17 1 12 2 35 1 26 1 35 3 177 1 48 1 37 1 16 1-13 1-40 1-66 2-199 1-72 1-52 1-34 1-23 1-12 2-2 29-3" stroke="#F032E6" stroke-opacity="0.45" stroke-width="0.8" vector-effect="non-scaling-stroke"/>
<path d="M0 23l10 1 36 31 3 6 4 12 4 18 2 13 2 19 2 32 1 25 1 33 3 162 1 41 1 24 1 3 1-26 1-51 3-243 1-48 1-33 1-21 1-11 2-2 28-3" stroke="#E6194B" stroke-opacity="0.45" stroke-width="0.8" vector-effect="non-scaling-stroke"/>
<path d="M0 33l40 29 8 13 4 12 3 12 2 13 2 17 2 28 1 21 1 27 3 145 2 78 1 20 1 2 1-26 1-53 3-245 1-49 1-33 1-20 1-12 11-3 20-1" stroke="#911EB4" stroke-opacity="0.45" stroke-width="0.8" vector-effect="non-scaling-stroke"/>
<path d="M0 35l5 1 7 7 31 22 5 8 3 7 4 13 2 10 3 24 2 29 1 21 1 28 4 184 1 32 1 16 1-7 1-34 1-58 2-179 1-58 1-42 1-25 1-17 1-5 2-1 28-2" stroke="#42D4F4" stroke-opacity="0.45" stroke-width="0.8" vector-effect="non-scaling-stroke"/>
<path d="M0 34l23 0 2 2 6 9 19 22 4 11 2 8 2 11 2 17 1 11 1 16 1 22 1 33 1 52 2 160 1 57 1 22 1-17 1-42 1-63 2-186 1-61 1-45 1-30 1-20 1-10 2-2 29-2" stroke="#4363D8" stroke-opacity="0.45" stroke-width="0.8" vector-effect="non-scaling-stroke"/>
<path d="M0 34l7 1 9 9 28 15 3 3 8 13 5 11 2 8 2 14 1 11 1 19 2 72 4 220 1 30 1 6 1-28 1-67 1-90 1-62 3-155 1-29 1-15 1-4 5-4 10-3 11 0" stroke="#3CB44B" stroke-opacity="0.45" stroke-width="0.8" vector-effect="non-scaling-stroke"/>
<path d="M0 42l25 0 7 11 22 20 4 9 2 9 2 15 1 11 1 16 1 21 1 30 2 93 1 30 1-6 1-25 1-36 3-153 1-35 1-20 1-14 2-4 6-2 24-1" stroke="#4363D8" stroke-opacity="0.45" stroke-width="0.8" vector-effect="non-scaling-stroke"/>
<path d="M0 42l10 0 6 4 19 6 19 3 5 6 3 6 3 10 2 15 2 27 1 21 1 31 1 49 3 184 1 30 1-1 1-34 3-206 2-116 1-35 1-21 6-6 19-3" stroke="#E6C300" stroke-opacity="0.45" stroke-width="0.8" vector-effect="non-scaling-stroke"/>
<path d="M0 29l5 1 7 7 30 23 5 9 4 11 2 8 3 16 2 15 2 24 1 17 1 23 1 30 4 198 1 33 1 15 1-10 1-37 1-59 2-182 1-61 1-44 1-29 1-19 1-7 3-2 28-2" stroke="#FABEBE" stroke-opacity="0.45" stroke-width="0.8" vector-effect="non-scaling-stroke"/>
<path d="M0 48l14 1 22 23 12 10 5 10 3 10 2 10 2 15 2 22 1 17 1 24 1 32 1 52 2 129 1 50 1 35 1 10 1-20 1-45 1-64 2-183 1-60 1-45 1-31 1-20 1-12 1-2 15-3 13 0" stroke="#E6194B" stroke-opacity="0.45" stroke-width="0.8" vector-effect="non-scaling-stroke"/>
<path d="M0 32l3 0 9 9 5 3 21 10 8 7 11 20 2 5 3 14 2 18 1 16 1 27 1 36 4 215 1 42 1 18 1-6 1-38 2-156 1-56 3-148 1-30 1-16 1-6 2-3 11-4 13-1" stroke="#3CB44B" stroke-opacity="0.45" stroke-width="0.8" vector-effect="non-scaling-stroke"/>
<path d="M0 32l21 0 7 5 28 9 4 4 2 4 4 11 2 9 1 6 1 10 1 14 1 18 1 28 1 44 3 214 1 32 1-8 1-42 2-147 3-178 1-33 1-15 2-3 4-2 17-3" stroke="#E6C300" stroke-opacity="0.45" stroke-width="0.8" vector-effect="non-scaling-stroke"/>
<path d="M0 38l10 0 12 12 23 19 5 9 4 12 3 14 3 24 2 29 1 22 1 30 1 48 2 118 1 47 1 34 1 13 1-15 1-37 1-57 2-171 1-63 1-45 1-32 1-20 1-14 1-2 6-2 23-1" stroke="#F032E6" stroke-opacity="0.45" stroke-width="0.8" vector-effect="non-scaling-stroke"/>
<path d="M0 36l20 0 3 3 14 18 10 10 5 11 3 11 2 11 2 15 2 25 1 19 1 26 1 39 3 216 1 49 1 14 1-23 1-53 1-76 2-196 1-57 1-41 1-25 1-17 2-3 7-2 23-1" stroke="#4363D8" stroke-opacity="0.45" stroke-width="0.8" vector-effect="non-scaling-stroke"/>
<path d="M0 35l18 1 30 30 3 5 3 8 2 7 3 16 3 28 1 16 1 22 1 31 1 49 2 133 1 51 1 31 1 0 1-25 1-49 1-67 2-170 1-51 1-38 1-25 1-18 1-7 3-2 26-2" stroke="#911EB4" stroke-opacity="0.45" stroke-width="0.8" vector-effect="non-scaling-stroke"/>
<path d="M0 47l7 6 27 14 8 7 13 23 3 9 2 10 1 7 2 21 1 22 1 32 1 38 3 174 2 103 1 31 1 11 1-18 1-53 2-170 4-221 1-40 1-20 1-12 3-5 10-4 13-2" stroke="#3CB44B" stroke-opacity="0.45" stroke-width="0.8" vector-effect="non-scaling-stroke"/>
<path d="M0 29l23 0 10 11 14 9 7 7 4 7 2 6 2 10 2 14 2 28 1 19 2 73 1 27 1 11 1-14 1-24 2-89 2-75 1-20 1-14 1-4 3-2 27-2" stroke="#4363D8" stroke-opacity="0.45" stroke-width="0.8" vector-effect="non-scaling-stroke"/>
<path d="M0 37l13 1 14 14 19 16 5 9 3 9 3 13 2 14 2 21 1 16 1 22 1 30 1 47 2 120 1 47 1 32 1 8 1-23 1-51 1-71 2-176 1-51 1-35 1-22 1-13 2-2 11-2 18 0" stroke="#911EB4" stroke-opacity="0.45" stroke-width="0.8" vector-effect="non-scaling-stroke"/>
<path d="M0 31l2 0 7 7 31 15 7 5 5 7 4 12 3 14 2 17 2 24 1 18 2 54 1 21 1 18 1 7 1-10 1-20 1-30 2-82 2-64 2-28 1-5 2-1 29-2" stroke="#911EB4" stroke-opacity="0.45" stroke-width="0.8" vector-effect="non-scaling-stroke"/>
<path d="M0 32l19 17 17 12 5 6 6 13 5 19 3 17 2 16 2 23 2 36 1 26 1 34 3 163 1 44 1 38 1 21 1 5 1-22 1-46 1-64 2-186 1-66 1-49 1-35 1-23 1-16 1-4 4-2 25-2" stroke="#E6194B" stroke-opacity="0.45" stroke-width="0.8" vector-effect="non-scaling-stroke"/>
<path d="M0 23l8 1 22 19 7 4 8 8 4 9 3 9 4 18 2 14 2 20 1 14 1 19 1 25 1 36 2 110 2 86 1 21 1 0 1-24 1-46 1-64 2-163 1-48 1-36 1-23 1-17 1-6 5-2 25-2" stroke="#DCBEFF" stroke-opacity="0.45" stroke-width="0.8" vector-effect="non-scaling-stroke"/>
<path d="M0 43l9 10 17 16 6 4 9 10 3 6 5 15 4 18 2 13 2 18 2 25 2 41 1 30 1 39 2 129 2 111 1 42 1 22 1-3 1-35 1-65 1-91 2-218 1-64 1-47 1-29 1-20 1-5 3-2 27-3" stroke="#4363D8" stroke-opacity="0.45" stroke-width="0.8" vector-effect="non-scaling-stroke"/>
<path d="M0 37l16 0 19 22 9 8 6 10 3 9 2 8 2 11 2 15 2 24 2 44 1 36 3 203 1 54 1 27 1-9 1-41 1-67 2-206 1-66 1-49 1-30 1-21 1-6 2-1 29-3" stroke="#911EB4" stroke-opacity="0.45" stroke-width="0.8" vector-effect="non-scaling-stroke"/>
<path d="M0 39l4 0 12 11 20 10 12 8 4 4 5 13 2 9 2 13 2 21 1 14 1 17 2 60 1 24 1 21 1 10 1-12 1-26 4-178 1-23 1-16 1-5 3-2 28-2" stroke="#911EB4" stroke-opacity="0.45" stroke-width="0.8" vector-effect="non-scaling-stroke"/>
<path d="M0 48l11 0 9 10 27 24 4 7 3 8 2 8 2 11 2 16 2 25 1 20 1 27 1 37 3 180 1 44 1 24 1-3 1-31 1-56 3-259 1-51 1-35 1-22 1-14 1-2 6-2 23-1" stroke="#F032E6" stroke-opacity="0.45" stroke-width="0.8" vector-effect="non-scaling-stroke"/>
<path d="M0 23l25 0 3 3 3 5 17 20 4 8 4 14 3 17 2 18 1 12 2 42 1 38 3 219 1 44 1 1 1-33 1-61 2-194 1-66 1-47 1-29 1-20 1-5 4-2 27-2" stroke="#FABEBE" stroke-opacity="0.45" stroke-width="0.8" vector-effect="non-scaling-stroke"/>
<path d="M0 21l17 0 10 11 18 11 6 10 7 18 2 7 2 11 1 8 1 13 1 22 1 39 4 252 1 27 1-9 1-43 2-150 4-194 1-24 1-14 1-4 5-4 11-3 12 0" stroke="#3CB44B" stroke-opacity="0.45" stroke-width="0.8" vector-effect="non-scaling-stroke"/>
<path d="M0 26l15 1 31 31 3 6 4 12 4 19 2 15 2 22 1 16 1 22 1 30 1 45 2 132 1 52 1 38 1 11 1-18 1-42 1-60 2-177 1-61 1-45 1-31 1-20 1-12 2-3 3-1 25-2" stroke="#911EB4" stroke-opacity="0.45" stroke-width="0.8" vector-effect="non-scaling-stroke"/>
</g>
<rect x="31.4" y="247.4" width="305.4" height="163.1" fill="none" stroke="#555" stroke-width="1"/>
<line x1="42.6" y1="410.5" x2="42.6" y2="414.8" stroke="#555" stroke-width="1"/>
<text x="42.6" y="424.9" text-anchor="middle" class="t">70</text>
<line x1="99.2" y1="410.5" x2="99.2" y2="414.8" stroke="#555" stroke-width="1"/>
<text x="99.2" y="424.9" text-anchor="middle" class="t">75</text>
<line x1="155.8" y1="410.5" x2="155.8" y2="414.8" stroke="#555" stroke-width="1"/>
<text x="155.8" y="424.9" text-anchor="middle" class="t">80</text>
<line x1="212.4" y1="410.5" x2="212.4" y2="414.8" stroke="#555" stroke-width="1"/>
<text x="212.4" y="424.9" text-anchor="middle" class="t">85</text>
<line x1="269" y1="410.5" x2="269" y2="414.8" stroke="#555" stroke-width="1"/>
<text x="269" y="424.9" text-anchor="middle" class="t">90</text>
<line x1="325.6" y1="410.5" x2="325.6" y2="414.8" stroke="#555" stroke-width="1"/>
<text x="325.6" y="424.9" text-anchor="middle" class="t">95</text>
<line x1="31.4" y1="403.8" x2="27.1" y2="403.8" stroke="#555" stroke-width="1"/>
<text transform="translate(21.9,403.8) rotate(-90)" text-anchor="middle" class="t">0.00</text>
<line x1="31.4" y1="351.2" x2="27.1" y2="351.2" stroke="#555" stroke-width="1"/>
<text transform="translate(21.9,351.2) rotate(-90)" text-anchor="middle" class="t">0.05</text>
<line x1="31.4" y1="298.6" x2="27.1" y2="298.6" stroke="#555" stroke-width="1"/>
<text transform="translate(21.9,298.6) rotate(-90)" text-anchor="middle" class="t">0.10</text>
<text x="184.1" y="433.9" text-anchor="middle" class="t">Temperature (°C)</text>
<text x="184.1" y="234.3" text-anchor="middle" class="ti">wzi−3 Illumina Eco Real−Time</text>
<text transform="translate(6.8,328.95) rotate(-90)" text-anchor="middle" class="t">Florescence (dF/dT)</text>
<g transform="translate(405.78,403.7) scale(2.2640,-0.2500)" fill="none" stroke-linejoin="round">
<path d="M0 28l10 1 14 8 18 5 4 4 3 6 2 7 2 10 2 17 2 25 1 17 1 23 2 80 2 102 1 36 1 26 1-1 1-23 1-36 2-127 3-140 1-29 1-19 1-9 2-2 9-2 23-1" stroke="#42D4F4" stroke-opacity="0.45" stroke-width="0.8" vector-effect="non-scaling-stroke"/>
<path d="M0 50l3 0 17 10 21 6 2 3 2 6 3 14 2 16 3 34 1 14 2 40 3 101 2 102 1 36 1 29 1 12 1-18 1-35 1-62 2-165 1-64 1-53 1-32 1-22 1-6 4-3 32-3" stroke="#3CB44B" stroke-opacity="0.45" stroke-width="0.8" vector-effect="non-scaling-stroke"/>
<path d="M0 44l4 0 4 3 18 0 24-11 6 4 2 10 4 41 2 29 1 19 2 50 2 96 3 198 1 37 1-9 1-35 1-62 2-178 2-135 1-48 1-25 1-16 2-4 2-1 23 0" stroke="#E6194B" stroke-opacity="0.45" stroke-width="0.8" vector-effect="non-scaling-stroke"/>
<path d="M0 38l8 0 4 3 17 0 20-10 6 4 2 5 2 18 3 36 2 35 2 52 2 103 2 151 1 53 1 18 1-28 1-50 2-186 2-146 1-49 1-25 1-13 2-3 27 0" stroke="#E6194B" stroke-opacity="0.45" stroke-width="0.8" vector-effect="non-scaling-stroke"/>
<path d="M0 49l14 0 4 4 15 0 21-12 4 3 1 2 1 7 3 38 2 36 2 52 1 39 2 136 2 180 1 41 1-21 1-45 3-291 2-141 1-37 1-23 1-6 3-3 24 0" stroke="#E6194B" stroke-opacity="0.45" stroke-width="0.8" vector-effect="non-scaling-stroke"/>
<path d="M0 36l3 2 19 0 26-10 7 6 2 6 3 24 3 32 2 30 2 40 1 29 1 41 2 106 1 69 1 50 1 35 1-4 1-33 1-55 2-174 2-134 1-47 1-25 1-15 3-4 23 0" stroke="#E6194B" stroke-opacity="0.45" stroke-width="0.8" vector-effect="non-scaling-stroke"/>
<path d="M0 37l4 0 24 13 19 2 5 5 4 12 2 12 2 19 2 31 1 22 1 28 2 105 2 77 1-2 2-49 4-134 2-104 1-31 1-18 1-10 3-4 7-2 20-1" stroke="#E6C300" stroke-opacity="0.45" stroke-width="0.8" vector-effect="non-scaling-stroke"/>
<path d="M0 37l17 0 21 15 12 1 5 7 3 12 1 7 2 23 1 19 1 26 1 33 3 201 1 15 1-22 1-31 4-154 2-121 1-28 1-19 1-7 3-3 12-3 16-1" stroke="#E6C300" stroke-opacity="0.45" stroke-width="0.8" vector-effect="non-scaling-stroke"/>
<path d="M0 38l17 9 24 7 3 3 4 7 2 6 3 14 2 17 2 23 2 32 1 26 2 77 3 141 1 31 1 22 1-3 1-27 1-43 2-147 2-110 1-49 1-32 1-21 1-7 4-3 28-3" stroke="#4363D8" stroke-opacity="0.45" stroke-width="0.8" vector-effect="non-scaling-stroke"/>
<path d="M0 44l25 13 17 1 5 2 3 3 3 6 1 4 2 11 2 17 1 12 2 36 1 25 2 100 2 78 1 5 1-19 1-26 4-128 1-39 1-56 1-38 1-20 1-12 3-6 16-3 13 0" stroke="#F58231" stroke-opacity="0.45" stroke-width="0.8" vector-effect="non-scaling-stroke"/>
<path d="M0 25l15 8 25 7 4 4 4 8 3 11 2 11 2 16 2 23 2 28 1 22 1 31 2 79 2 98 1 37 1 28 1 16 1-10 1-29 1-51 2-142 2-107 1-48 1-29 1-20 1-6 4-3 27-3" stroke="#DCBEFF" stroke-opacity="0.45" stroke-width="0.8" vector-effect="non-scaling-stroke"/>
<path d="M0 25l15 0 29-8 6 5 3 12 4 28 2 18 3 39 1 19 1 26 2 68 2 92 1 32 1 22 1-6 1-27 1-48 2-135 1-54 1-46 1-32 1-17 1-8 4-3 26 0" stroke="#FABEBE" stroke-opacity="0.45" stroke-width="0.8" vector-effect="non-scaling-stroke"/>
<path d="M0 40l14 0 4 3 15 0 21-10 5 4 1 4 2 18 3 37 2 39 1 26 1 41 1 56 2 148 1 51 1 9 1-26 1-43 2-160 2-129 1-49 1-28 1-17 1-5 2-2 24 0" stroke="#E6194B" stroke-opacity="0.45" stroke-width="0.8" vector-effect="non-scaling-stroke"/>
<path d="M0 44l19 1 19-6 4-3 7 0 3 2 2 8 1 6 4 34 2 26 2 35 1 29 2 82 2 111 1 37 1 13 1-18 1-32 3-201 2-101 1-30 1-18 1-8 3-3 27 0" stroke="#FABEBE" stroke-opacity="0.45" stroke-width="0.8" vector-effect="non-scaling-stroke"/>
<path d="M0 38l16 0 14 11 14 5 3 4 1 4 2 13 1 8 1 12 2 30 2 42 1 32 2 93 2 135 1 44 1 21 1-17 1-37 1-62 2-173 1-67 1-56 1-36 1-23 1-8 3-3 17-3 17 0" stroke="#3CB44B" stroke-opacity="0.45" stroke-width="0.8" vector-effect="non-scaling-stroke"/>
<path d="M0 39l5 0 16 9 21 6 6 6 2 4 4 16 2 15 3 36 1 17 1 25 2 78 3 141 1 30 1 17 1-12 1-32 1-60 1-80 3-168 1-38 1-23 1-11 5-4 5-1 22-1" stroke="#808080" stroke-opacity="0.45" stroke-width="0.8" vector-effect="non-scaling-stroke"/>
<path d="M0 23l22 12 22 3 3 3 3 6 4 13 2 12 2 16 1 11 1 14 2 40 1 25 1 42 2 107 1 44 1 27 1-9 2-57 4-154 2-117 1-27 1-18 1-6 3-4 14-3 13 0" stroke="#E6C300" stroke-opacity="0.45" stroke-width="0.8" vector-effect="non-scaling-stroke"/>
<path d="M0 48l10 5 9 7 19 6 4 3 2 5 3 15 2 15 4 52 2 37 1 26 1 33 2 83 2 120 1 48 1 38 1 24 1-7 1-36 1-54 2-197 2-154 1-51 1-31 1-17 1-3 5-3 30-3" stroke="#3CB44B" stroke-opacity="0.45" stroke-width="0.8" vector-effect="non-scaling-stroke"/>
<path d="M0 52l6 4 17 0 18-8 5-4 5 0 3 3 1 2 1 5 2 18 2 23 2 28 2 40 1 26 1 35 2 110 2 155 1 53 1 25 1-20 1-41 3-266 2-139 1-47 1-25 1-15 4-5 24 0" stroke="#E6194B" stroke-opacity="0.45" stroke-width="0.8" vector-effect="non-scaling-stroke"/>
<path d="M0 40l3 2 21 0 17-5 7-4 5 0 3 2 2 6 3 20 3 27 2 26 2 38 2 70 3 144 1 32 1 6 1-19 1-29 3-181 2-95 1-34 1-20 1-13 1-3 3-3 21 0" stroke="#E6194B" stroke-opacity="0.45" stroke-width="0.8" vector-effect="non-scaling-stroke"/>
<path d="M0 43l24 0 12 11 14 5 3 4 2 6 2 10 2 19 2 36 1 25 1 40 1 65 2 162 1 55 1 19 1-21 1-36 2-155 3-178 1-46 1-27 1-18 1-3 3-3 28-4" stroke="#4363D8" stroke-opacity="0.45" stroke-width="0.8" vector-effect="non-scaling-stroke"/>
<path d="M0 38l23 12 22 3 6 6 2 5 2 8 2 13 2 20 1 15 2 42 1 35 2 104 1 42 1 24 1-10 2-52 4-136 2-105 1-25 1-17 1-7 3-4 16-3 12 0" stroke="#E6C300" stroke-opacity="0.45" stroke-width="0.8" vector-effect="non-scaling-stroke"/>
<path d="M0 40l7 1 13 9 9 4 16 1 4 2 4 6 2 6 2 9 1 7 2 20 2 34 1 24 1 33 3 158 1 28 1-12 2-58 4-154 1-62 1-44 1-22 1-13 1-3 5-3 25-3" stroke="#F58231" stroke-opacity="0.45" stroke-width="0.8" vector-effect="non-scaling-stroke"/>
<path d="M0 26l10 0 14 10 21 8 3 4 4 11 2 9 2 12 1 8 2 26 2 33 1 23 1 35 1 49 3 181 1 43 1 30 1-1 1-31 1-50 2-168 2-126 1-56 1-35 1-23 1-7 3-3 12-3 15-1" stroke="#4363D8" stroke-opacity="0.45" stroke-width="0.8" vector-effect="non-scaling-stroke"/>
<path d="M0 32l6 3 18 0 23-9 7 5 1 2 1 5 2 16 3 29 2 29 2 40 2 78 2 115 1 49 1 33 1-6 1-30 1-56 2-154 1-61 1-52 1-34 1-19 1-7 2-3 27 0" stroke="#E6194B" stroke-opacity="0.45" stroke-width="0.8" vector-effect="non-scaling-stroke"/>
<path d="M0 28l5 0 5 3 19 0 18-7 4 0 6 5 1 2 1 5 3 25 2 21 1 13 2 35 1 25 1 37 1 46 2 117 1 40 1 15 1-20 1-34 3-206 2-98 1-26 1-15 1-5 2-2 24 0" stroke="#E6194B" stroke-opacity="0.45" stroke-width="0.8" vector-effect="non-scaling-stroke"/>
<path d="M0 36l19 0 17-6 6-4 4 0 6 6 1 2 1 5 3 24 3 32 2 29 2 40 1 27 2 87 3 177 1 40 1 11 1-23 1-38 3-238 1-64 1-57 1-41 1-23 1-13 2-4 26-1" stroke="#E6194B" stroke-opacity="0.45" stroke-width="0.8" vector-effect="non-scaling-stroke"/>
<path d="M0 54l15 9 24 7 2 3 2 6 3 13 1 7 2 17 3 34 2 31 1 22 3 96 3 142 2 58 1 5 1-23 1-39 3-248 1-66 1-53 1-32 1-22 2-6 2-1 33-3" stroke="#3CB44B" stroke-opacity="0.45" stroke-width="0.8" vector-effect="non-scaling-stroke"/>
<path d="M0 41l26 0 17 14 11-1 3 3 3 10 1 7 2 23 1 21 1 31 1 46 2 155 1 23 1-21 1-31 4-150 2-114 1-24 1-15 2-5 5-2 24-2" stroke="#F58231" stroke-opacity="0.45" stroke-width="0.8" vector-effect="non-scaling-stroke"/>
<path d="M0 24l21 0 16 13 13 4 5 8 3 12 2 18 1 13 1 20 1 27 1 37 2 146 1 52 1-5 2-48 5-164 2-101 1-22 1-16 1-7 3-4 16-3 11 0" stroke="#E6C300" stroke-opacity="0.45" stroke-width="0.8" vector-effect="non-scaling-stroke"/>
<path d="M0 31l13 7 26 7 5 6 3 6 2 6 3 14 2 15 2 21 2 26 1 18 1 25 1 34 2 79 2 95 2 60 1 13 1-12 1-30 1-52 2-142 2-107 1-48 1-31 1-21 1-8 3-3 28-4" stroke="#4363D8" stroke-opacity="0.45" stroke-width="0.8" vector-effect="non-scaling-stroke"/>
<path d="M0 31l4 0 23 13 17 1 5 4 3 6 3 10 2 12 2 18 2 31 1 21 1 26 2 104 2 84 1 5 1-20 2-58 3-103 1-44 1-58 1-37 1-20 1-12 1-3 2-2 15-3 13 0" stroke="#F58231" stroke-opacity="0.45" stroke-width="0.8" vector-effect="non-scaling-stroke"/>
<path d="M0 27l11 6 27 7 7 8 3 7 2 8 3 16 3 28 2 24 2 37 3 104 3 130 2 51 1 6 1-18 1-34 2-141 3-166 1-43 1-26 1-17 1-4 4-3 26-3" stroke="#4363D8" stroke-opacity="0.45" stroke-width="0.8" vector-effect="non-scaling-stroke"/>
<path d="M0 37l13 0 22 13 15 1 3 2 3 6 2 7 2 12 2 21 1 16 2 47 3 158 1 38 1-5 2-56 3-111 1-45 1-63 1-35 1-20 1-9 2-3 7-2 21-1" stroke="#E6C300" stroke-opacity="0.45" stroke-width="0.8" vector-effect="non-scaling-stroke"/>
<path d="M0 38l13 0 17 11 16 5 2 3 2 8 2 12 1 9 3 39 2 38 1 29 2 80 2 117 1 41 1 30 1-3 1-29 1-47 3-237 1-58 1-39 1-24 1-10 3-3 19-3 13 0" stroke="#3CB44B" stroke-opacity="0.45" stroke-width="0.8" vector-effect="non-scaling-stroke"/>
<path d="M0 34l15 0 17 10 16 5 4 6 2 6 2 10 2 17 2 28 1 18 1 29 1 44 3 164 1 34 1 8 1-24 1-45 2-147 2-111 1-40 1-24 1-9 4-3 29-3" stroke="#DCBEFF" stroke-opacity="0.45" stroke-width="0.8" vector-effect="non-scaling-stroke"/>
<path d="M0 40l7 0 18 10 18 5 5 5 2 4 2 6 2 10 1 6 2 20 2 27 1 19 1 29 1 40 3 146 2 60 1-1 1-23 1-36 2-135 3-149 1-34 1-21 1-13 4-3 9-2 19-1" stroke="#42D4F4" stroke-opacity="0.45" stroke-width="0.8" vector-effect="non-scaling-stroke"/>
<path d="M0 29l14 0 18 11 13 4 2 2 4 8 2 7 2 11 2 18 1 14 2 33 1 25 2 93 2 121 1 44 1 30 1-5 1-28 1-47 2-147 2-110 1-48 1-29 1-20 1-5 2-2 30-4" stroke="#808080" stroke-opacity="0.45" stroke-width="0.8" vector-effect="non-scaling-stroke"/>
<path d="M0 22l9 0 17 10 17 5 5 7 3 9 2 11 2 16 1 12 2 29 1 20 1 33 1 45 3 157 1 34 1 13 1-18 1-34 2-142 2-110 1-50 1-32 1-21 1-6 3-3 14-3 17 0" stroke="#808080" stroke-opacity="0.45" stroke-width="0.8" vector-effect="non-scaling-stroke"/>
<path d="M0 36l5 0 18 10 18 5 3 4 3 12 1 6 2 16 3 35 2 33 1 24 2 66 3 139 1 32 1 21 1-7 1-30 1-49 2-162 1-65 1-53 1-33 1-22 1-6 5-3 12-2 20 0" stroke="#3CB44B" stroke-opacity="0.45" stroke-width="0.8" vector-effect="non-scaling-stroke"/>
<path d="M0 44l7 4 16 0 18-7 5-4 5 0 5 4 2 10 2 19 3 35 2 33 2 46 1 37 2 107 2 143 1 46 1 14 1-24 1-41 3-251 2-126 1-42 1-22 1-13 2-4 24-1" stroke="#E6194B" stroke-opacity="0.45" stroke-width="0.8" vector-effect="non-scaling-stroke"/>
<path d="M0 49l3 0 21 11 19 5 4 10 3 14 2 17 2 21 1 12 2 33 1 24 2 63 1 38 2 96 1 32 1 25 1 5 1-23 1-40 3-236 1-59 1-43 1-26 1-12 3-3 32-3" stroke="#3CB44B" stroke-opacity="0.45" stroke-width="0.8" vector-effect="non-scaling-stroke"/>
<path d="M0 44l10 0 14 10 11 5 14 1 4 5 3 10 1 6 2 18 1 14 2 43 1 31 3 174 1 25 1-14 2-56 4-141 2-109 1-25 1-17 1-7 3-4 14-3 14 0" stroke="#F58231" stroke-opacity="0.45" stroke-width="0.8" vector-effect="non-scaling-stroke"/>
<path d="M0 43l17 0 19-6 7-4 9 3 2 6 4 29 3 30 2 29 2 40 1 32 2 85 2 114 1 39 1 23 1-10 1-31 1-51 2-152 2-119 1-44 1-25 1-17 1-5 2-2 25 0" stroke="#E6194B" stroke-opacity="0.45" stroke-width="0.8" vector-effect="non-scaling-stroke"/>
<path d="M0 34l9 0 17 10 19 6 5 8 3 10 2 12 1 8 3 40 1 18 1 28 2 89 2 112 1 39 1 28 1-2 1-27 1-46 2-146 2-110 1-48 1-28 1-18 1-4 3-3 29-3" stroke="#808080" stroke-opacity="0.45" stroke-width="0.8" vector-effect="non-scaling-stroke"/>
<path d="M0 27l26 12 20 2 5 5 4 9 2 8 2 13 2 19 1 13 2 37 1 29 2 92 2 66 1-2 2-46 4-128 2-99 1-24 1-16 1-6 2-3 16-3 11 0" stroke="#BFEF45" stroke-opacity="0.45" stroke-width="0.8" vector-effect="non-scaling-stroke"/>
<path d="M0 46l19 10 22 6 5 5 3 5 2 6 3 13 2 16 2 22 2 29 1 22 1 32 2 81 2 100 1 38 1 30 1 16 1-11 1-34 3-216 2-116 1-44 1-25 1-14 5-4 26-3" stroke="#DCBEFF" stroke-opacity="0.45" stroke-width="0.8" vector-effect="non-scaling-stroke"/>
<path d="M0 45l4 0 25 14 14 0 7 3 3 5 2 6 1 5 1 5 1 8 2 20 1 16 2 44 1 37 3 154 1 23 1-12 2-55 4-144 2-110 1-25 1-16 1-6 3-4 15-3 12 0" stroke="#E6C300" stroke-opacity="0.45" stroke-width="0.8" vector-effect="non-scaling-stroke"/>
<path d="M0 45l13 9 21 7 8 6 5 10 4 18 2 14 2 23 2 29 2 40 1 32 3 146 2 124 2 77 1 15 1-19 1-43 2-186 3-222 1-55 1-32 1-20 2-4 4-2 14-3 12 0" stroke="#4363D8" stroke-opacity="0.45" stroke-width="0.8" vector-effect="non-scaling-stroke"/>
<path d="M0 25l16 7 23 6 7 9 2 6 3 14 2 16 2 21 2 31 1 27 2 71 2 87 2 55 1 8 1-16 1-27 2-119 3-138 1-36 1-21 1-14 1-3 4-2 30-3" stroke="#42D4F4" stroke-opacity="0.45" stroke-width="0.8" vector-effect="non-scaling-stroke"/>
<path d="M0 37l19 10 21 6 4 4 4 8 3 11 2 11 1 8 2 22 2 27 1 19 1 27 1 38 2 89 2 103 1 33 1 24 1 0 1-31 1-54 2-166 2-125 1-47 1-27 1-13 3-3 7-2 23-2" stroke="#4363D8" stroke-opacity="0.45" stroke-width="0.8" vector-effect="non-scaling-stroke"/>
<path d="M0 35l19 0 12 10 14 6 4 5 2 9 1 7 2 19 2 31 2 41 1 30 2 92 2 139 1 49 1 32 1-12 1-38 1-67 2-191 1-72 1-58 1-33 1-20 2-4 9-3 25-1" stroke="#3CB44B" stroke-opacity="0.45" stroke-width="0.8" vector-effect="non-scaling-stroke"/>
<path d="M0 40l17 0 20 14 14 1 4 4 2 5 2 9 2 16 1 12 2 39 1 29 1 49 2 132 1 41 1-11 2-59 4-159 1-64 1-45 1-23 1-13 1-3 4-3 25-3" stroke="#E6C300" stroke-opacity="0.45" stroke-width="0.8" vector-effect="non-scaling-stroke"/>
<path d="M0 19l10 1 16 9 18 5 5 7 2 5 3 12 2 13 2 20 2 26 1 18 1 26 1 39 3 146 1 39 1 28 1 6 1-23 1-43 2-149 2-112 1-44 1-25 1-14 3-3 8-2 21-1" stroke="#4363D8" stroke-opacity="0.45" stroke-width="0.8" vector-effect="non-scaling-stroke"/>
<path d="M0 20l5 1 15 8 22 6 6 9 4 14 2 12 2 18 2 23 2 34 1 30 2 78 2 96 2 60 1 9 1-18 1-32 2-135 3-154 1-36 1-22 1-12 4-3 9-2 19-1" stroke="#4363D8" stroke-opacity="0.45" stroke-width="0.8" vector-effect="non-scaling-stroke"/>
<path d="M0 38l6 3 18 0 24-10 5 3 2 3 1 4 1 7 2 19 3 35 2 35 2 50 2 95 2 135 1 51 1 31 1-14 1-37 4-312 1-59 1-38 1-21 1-9 2-3 26 0" stroke="#E6194B" stroke-opacity="0.45" stroke-width="0.8" vector-effect="non-scaling-stroke"/>
<path d="M0 41l11 0 16 10 16 5 2 3 2 8 2 11 2 20 2 25 2 37 1 27 2 75 2 108 1 37 1 25 1-5 1-27 1-41 2-150 2-118 1-39 1-24 1-14 3-3 11-2 24-1" stroke="#3CB44B" stroke-opacity="0.45" stroke-width="0.8" vector-effect="non-scaling-stroke"/>
<path d="M0 35l7 0 18 11 19 6 6 9 2 6 3 16 2 19 2 27 2 39 1 35 1 46 3 167 1 39 1 26 1-6 1-35 1-66 1-93 1-71 2-124 1-40 1-25 1-8 2-2 19-4 11 0" stroke="#4363D8" stroke-opacity="0.45" stroke-width="0.8" vector-effect="non-scaling-stroke"/>
<path d="M0 27l10 0 15 10 17 5 2 2 2 5 3 17 2 18 2 26 2 33 1 22 1 30 2 79 2 114 1 39 1 30 1 1 1-29 1-49 2-178 2-130 1-35 1-22 1-5 2-2 7-3 28-1" stroke="#3CB44B" stroke-opacity="0.45" stroke-width="0.8" vector-effect="non-scaling-stroke"/>
<path d="M0 43l16 8 23 6 3 6 4 17 3 24 3 32 2 30 1 21 3 89 3 131 2 56 1 11 1-16 1-36 1-61 2-168 1-64 1-54 1-33 1-22 1-6 2-3 16-3 18 0" stroke="#3CB44B" stroke-opacity="0.45" stroke-width="0.8" vector-effect="non-scaling-stroke"/>
<path d="M0 37l6 0 23 13 17 1 5 4 2 4 3 10 2 12 2 20 1 14 2 42 1 33 3 152 1 25 1-11 2-54 4-141 2-105 1-23 1-15 2-6 4-2 25-2" stroke="#E6C300" stroke-opacity="0.45" stroke-width="0.8" vector-effect="non-scaling-stroke"/>
<path d="M0 38l11 5 21 4 6 3 7 10 3 9 3 13 2 15 3 29 2 30 1 24 2 64 3 117 1 31 1 24 1 17 1 0 1-24 1-40 2-142 3-155 1-31 1-21 1-7 3-3 17-3 12 0" stroke="#808080" stroke-opacity="0.45" stroke-width="0.8" vector-effect="non-scaling-stroke"/>
<path d="M0 40l14 0 4 3 16 0 12-5 6-5 5 0 2 3 1 5 1 8 3 31 1 14 2 39 1 32 1 48 2 127 1 46 1 11 1-21 1-35 2-134 2-111 1-42 1-24 1-15 1-5 2-2 25 0" stroke="#FABEBE" stroke-opacity="0.45" stroke-width="0.8" vector-effect="non-scaling-stroke"/>
<path d="M0 37l11 0 4 3 17 0 19-9 3 0 4 3 1 4 2 15 3 32 2 33 1 22 1 31 1 47 1 54 1 71 1 50 1 24 1-16 1-30 3-197 1-54 1-48 1-33 1-19 1-10 2-3 25-1" stroke="#E6194B" stroke-opacity="0.45" stroke-width="0.8" vector-effect="non-scaling-stroke"/>
<path d="M0 26l11 0 16 10 17 5 3 4 4 20 2 20 2 25 2 35 1 24 1 33 2 84 2 108 1 36 1 15 1-17 1-37 3-235 1-61 1-46 1-26 1-12 3-4 7-2 26-1" stroke="#3CB44B" stroke-opacity="0.45" stroke-width="0.8" vector-effect="non-scaling-stroke"/>
<path d="M0 30l16 7 24 6 3 3 5 9 3 11 3 16 4 40 2 30 1 25 2 68 3 127 1 34 1 26 1 17 1-4 1-26 1-41 2-142 3-155 1-35 1-22 1-12 2-3 6-2 22-2" stroke="#DCBEFF" stroke-opacity="0.45" stroke-width="0.8" vector-effect="non-scaling-stroke"/>
<path d="M0 26l6 0 18 11 18 5 2 2 2 5 3 14 2 15 2 23 2 27 2 36 1 26 2 70 1 43 2 108 1 36 1 27 1 2 1-24 1-39 3-236 1-61 1-50 1-30 1-21 1-5 2-3 13-3 19-1" stroke="#3CB44B" stroke-opacity="0.45" stroke-width="0.8" vector-effect="non-scaling-stroke"/>
<path d="M0 25l17 7 22 5 4 4 4 7 4 15 2 13 2 17 2 22 1 15 2 51 2 67 2 79 2 47 1 8 1-13 1-27 3-166 3-126 1-22 1-15 1-4 6-3 26-2" stroke="#42D4F4" stroke-opacity="0.45" stroke-width="0.8" vector-effect="non-scaling-stroke"/>
<path d="M0 30l6 3 16 0 25-9 7 5 2 9 2 16 3 29 2 29 2 41 2 78 3 160 1 30 1-8 1-31 1-58 1-81 2-129 1-51 1-32 1-18 1-6 3-3 26 0" stroke="#FABEBE" stroke-opacity="0.45" stroke-width="0.8" vector-effect="non-scaling-stroke"/>
<path d="M0 21l18 0 15 11 13 5 5 8 3 9 2 11 2 15 1 13 2 34 1 23 1 34 1 54 3 197 1 40 1 4 1-31 1-55 2-168 2-126 1-48 1-28 1-13 2-3 6-2 24-2" stroke="#4363D8" stroke-opacity="0.45" stroke-width="0.8" vector-effect="non-scaling-stroke"/>
<path d="M0 43l13 0 16 11 17 6 3 3 3 6 1 3 2 10 2 16 1 13 2 31 1 22 1 33 1 49 3 186 1 40 1 22 1-15 1-33 1-59 2-151 2-113 1-50 1-30 1-21 1-6 3-3 28-4" stroke="#4363D8" stroke-opacity="0.45" stroke-width="0.8" vector-effect="non-scaling-stroke"/>
<path d="M0 22l24 0 11 9 10 4 4 4 3 7 2 9 2 16 1 12 2 38 1 29 2 118 1 79 1 52 1 22 1-20 1-38 2-147 3-160 1-28 1-17 3-4 7-2 26-2" stroke="#42D4F4" stroke-opacity="0.45" stroke-width="0.8" vector-effect="non-scaling-stroke"/>
<path d="M0 34l25 12 18 1 4 2 3 3 3 6 3 11 3 22 1 12 2 34 1 23 4 173 1 16 1-12 2-48 4-125 2-97 1-27 1-17 1-9 3-4 3-1 24-2" stroke="#BFEF45" stroke-opacity="0.45" stroke-width="0.8" vector-effect="non-scaling-stroke"/>
<path d="M0 36l23 13 6 2 13 0 4 2 5 7 2 6 2 9 2 14 1 9 1 13 2 37 1 25 1 39 1 59 2 96 1 24 1-14 2-62 3-116 1-48 1-66 1-38 1-22 1-10 2-4 6-2 24-2" stroke="#E6C300" stroke-opacity="0.45" stroke-width="0.8" vector-effect="non-scaling-stroke"/>
<path d="M0 39l17 1 13 10 16 6 4 5 2 5 3 15 1 8 2 25 2 37 1 29 2 106 2 136 1 45 1 21 1-19 1-39 2-166 2-129 1-57 1-36 1-22 1-6 3-2 12-3 18-1" stroke="#4363D8" stroke-opacity="0.45" stroke-width="0.8" vector-effect="non-scaling-stroke"/>
<path d="M0 41l5 1 14 9 10 4 19 2 3 3 3 6 2 7 2 13 2 19 2 33 1 22 1 32 2 107 1 43 1 30 1-7 2-54 4-144 2-109 1-23 1-15 1-5 3-3 15-3 12 0" stroke="#E6C300" stroke-opacity="0.45" stroke-width="0.8" vector-effect="non-scaling-stroke"/>
<path d="M0 45l14 7 24 6 2 2 3 8 2 8 2 11 3 26 2 21 2 30 1 20 3 86 3 122 2 48 1 3 1-21 1-33 3-210 2-105 1-31 1-21 1-8 2-2 16-3 18 0" stroke="#3CB44B" stroke-opacity="0.45" stroke-width="0.8" vector-effect="non-scaling-stroke"/>
<path d="M0 22l11 0 18 11 15 5 3 3 3 6 3 10 2 11 2 15 2 26 2 35 1 25 2 93 3 168 1 35 1 9 1-24 1-42 2-162 3-177 1-33 1-22 1-5 2-2 12-3 17-1" stroke="#4363D8" stroke-opacity="0.45" stroke-width="0.8" vector-effect="non-scaling-stroke"/>
<path d="M0 55l8 0 4 3 17 0 15-7 6-6 4 0 2 2 1 3 1 6 3 33 2 29 2 42 1 28 1 44 1 59 2 157 1 59 1 28 1-20 1-39 3-250 2-130 1-44 1-23 1-14 4-5 24 0" stroke="#E6194B" stroke-opacity="0.45" stroke-width="0.8" vector-effect="non-scaling-stroke"/>
<path d="M0 29l3 0 20 11 18 5 4 4 3 6 3 11 2 11 1 8 2 22 2 28 1 20 1 30 1 40 3 151 1 40 1 30 1 10 1-20 1-36 2-150 2-116 1-53 1-36 1-23 1-10 3-3 30-4" stroke="#808080" stroke-opacity="0.45" stroke-width="0.8" vector-effect="non-scaling-stroke"/>
<path d="M0 45l12 0 4 3 15 0 14-6 6-5 6 1 2 4 2 15 2 22 2 28 2 42 1 29 2 104 2 149 1 48 1 3 1-27 1-42 3-229 2-111 1-33 1-19 1-10 3-3 23 0" stroke="#E6194B" stroke-opacity="0.45" stroke-width="0.8" vector-effect="non-scaling-stroke"/>
<path d="M0 32l16 9 26 8 2 5 4 17 2 16 3 33 2 28 1 19 2 54 1 34 1 38 2 95 2 59 1 10 1-16 1-34 1-58 2-159 1-62 1-52 1-34 1-22 1-8 2-3 13-3 20-1" stroke="#3CB44B" stroke-opacity="0.45" stroke-width="0.8" vector-effect="non-scaling-stroke"/>
<path d="M0 42l17 0 13 10 16 6 4 4 2 4 2 7 2 11 1 8 1 12 2 32 1 21 1 31 2 112 2 138 1 43 1 16 1-25 1-48 2-176 2-133 1-53 1-30 1-16 3-3 6-2 24-2" stroke="#4363D8" stroke-opacity="0.45" stroke-width="0.8" vector-effect="non-scaling-stroke"/>
<path d="M0 37l3 0 18 10 21 6 3 7 4 20 2 19 3 36 2 38 3 95 2 97 1 35 1 28 1 11 1-15 1-31 1-50 2-147 2-111 1-36 1-23 1-12 3-4 5-1 28-2" stroke="#3CB44B" stroke-opacity="0.45" stroke-width="0.8" vector-effect="non-scaling-stroke"/>
<path d="M0 41l18 0 13 10 18 7 4 7 3 12 2 15 1 13 2 34 1 23 1 37 2 119 1 76 1 58 1 37 1-2 1-30 1-52 2-162 2-121 1-52 1-30 1-21 1-4 4-3 27-3" stroke="#4363D8" stroke-opacity="0.45" stroke-width="0.8" vector-effect="non-scaling-stroke"/>
<path d="M0 32l6 0 16 10 20 6 4 4 3 6 3 10 3 17 1 9 3 39 2 41 1 36 2 95 2 116 1 38 1 28 1 0 1-30 1-53 2-167 2-126 1-51 1-29 1-17 5-5 16-3 11 0" stroke="#4363D8" stroke-opacity="0.45" stroke-width="0.8" vector-effect="non-scaling-stroke"/>
<path d="M0 30l15 6 25 5 3 5 3 9 2 9 2 13 3 25 2 23 1 15 3 66 3 99 2 45 1 12 1-7 1-22 1-33 2-121 2-97 1-35 1-20 1-14 1-3 5-3 29-2" stroke="#3CB44B" stroke-opacity="0.45" stroke-width="0.8" vector-effect="non-scaling-stroke"/>
<path d="M0 50l10 4 13 8 18 5 3 5 4 18 2 16 3 35 2 32 1 23 1 29 2 74 2 106 1 41 1 33 1 17 1-12 1-33 1-51 2-169 2-130 1-42 1-27 1-15 2-3 3-1 31-3" stroke="#3CB44B" stroke-opacity="0.45" stroke-width="0.8" vector-effect="non-scaling-stroke"/>
<path d="M0 24l5 0 24 13 16 1 6 6 3 7 2 7 3 18 2 20 1 15 2 41 1 32 2 105 1 42 1 29 1-7 2-48 4-129 2-99 1-34 1-19 1-12 1-3 2-2 15-3 11 0" stroke="#BFEF45" stroke-opacity="0.45" stroke-width="0.8" vector-effect="non-scaling-stroke"/>
<path d="M0 37l24 0 17 12 13 0 4 6 2 7 2 16 1 12 1 18 1 26 1 38 2 131 1 33 1-14 2-56 3-104 2-103 1-25 1-16 1-5 5-3 25-2" stroke="#BFEF45" stroke-opacity="0.45" stroke-width="0.8" vector-effect="non-scaling-stroke"/>
<path d="M0 61l15 0 19-6 10-5 8 0 2 6 2 13 3 24 2 21 2 28 2 38 1 31 2 84 2 115 1 45 1 34 1 6 1-28 1-47 2-172 2-137 1-50 1-27 1-17 1-3 2-2 25 0" stroke="#E6194B" stroke-opacity="0.45" stroke-width="0.8" vector-effect="non-scaling-stroke"/>
<path d="M0 46l17 0 15 12 15 6 4 6 2 6 2 12 2 18 1 16 2 39 1 30 2 118 2 153 1 49 1 21 1-20 1-38 2-166 3-193 1-49 1-29 1-18 2-4 5-2 26-3" stroke="#4363D8" stroke-opacity="0.45" stroke-width="0.8" vector-effect="non-scaling-stroke"/>
<path d="M0 37l6 0 26 13 17 1 4 4 4 11 2 11 2 18 1 13 2 37 1 28 2 100 2 71 1-5 2-49 4-133 2-101 1-23 1-15 1-4 2-3 14-3 13 0" stroke="#F58231" stroke-opacity="0.45" stroke-width="0.8" vector-effect="non-scaling-stroke"/>
<path d="M0 38l15 0 5 4 11 0 22-10 6 5 1 4 2 19 3 40 1 18 2 50 1 42 1 60 2 159 1 55 1 11 1-30 1-52 2-179 2-139 1-47 1-25 1-13 3-4 24 0" stroke="#E6194B" stroke-opacity="0.45" stroke-width="0.8" vector-effect="non-scaling-stroke"/>
<path d="M0 33l5 0 12 8 13 6 16 1 5 5 2 4 2 6 2 9 2 14 2 22 1 17 2 46 1 41 1 59 2 93 1 17 1-16 2-60 3-111 1-44 1-63 1-39 1-21 1-12 1-3 4-3 25-3" stroke="#F58231" stroke-opacity="0.45" stroke-width="0.8" vector-effect="non-scaling-stroke"/>
<path d="M0 46l18 9 22 5 3 4 3 9 2 9 1 6 3 25 2 22 2 32 3 80 3 122 2 50 1 6 1-19 1-33 3-206 2-101 1-28 1-19 2-6 3-1 31-2" stroke="#3CB44B" stroke-opacity="0.45" stroke-width="0.8" vector-effect="non-scaling-stroke"/>
<path d="M0 28l10 0 4 3 16 0 13-6 8-1 6 6 1 2 1 6 2 19 3 38 2 37 1 25 1 35 1 51 3 196 1 34 1-14 1-35 4-292 1-56 1-38 1-21 1-11 3-3 24 0" stroke="#E6194B" stroke-opacity="0.45" stroke-width="0.8" vector-effect="non-scaling-stroke"/>
<path d="M0 39l16 0 12 9 18 7 3 4 1 3 2 11 2 17 2 27 2 36 1 26 2 79 3 172 1 37 1 6 1-27 1-44 2-173 2-137 1-42 1-26 1-10 2-3 13-3 20-1" stroke="#3CB44B" stroke-opacity="0.45" stroke-width="0.8" vector-effect="non-scaling-stroke"/>
<path d="M0 29l9 0 13 9 21 8 4 4 4 9 2 8 2 12 2 18 1 13 2 32 1 21 1 31 1 47 3 180 1 46 1 34 1 4 1-30 1-52 2-175 2-130 1-54 1-31 1-19 2-4 4-2 26-3" stroke="#4363D8" stroke-opacity="0.45" stroke-width="0.8" vector-effect="non-scaling-stroke"/>
<path d="M0 29l16 0 4 3 14 0 12-5 9-1 4 3 2 4 2 16 3 35 1 15 2 42 1 33 1 51 2 136 1 53 1 20 1-20 1-35 3-213 2-105 1-30 1-17 1-7 2-3 23 0" stroke="#E6194B" stroke-opacity="0.45" stroke-width="0.8" vector-effect="non-scaling-stroke"/>
<path d="M0 31l18 10 21 6 3 3 1 3 3 13 2 13 2 20 3 39 2 37 1 26 3 109 2 107 2 68 1 14 1-17 1-37 1-66 2-179 1-68 1-57 1-35 1-23 1-6 3-3 13-3 20-1" stroke="#3CB44B" stroke-opacity="0.45" stroke-width="0.8" vector-effect="non-scaling-stroke"/>
<path d="M0 38l4 0 16 9 21 6 3 7 3 13 2 16 3 33 2 31 1 22 1 28 2 71 2 98 2 58 1 3 1-22 1-34 3-213 1-55 1-46 1-28 1-18 1-5 3-2 34-3" stroke="#3CB44B" stroke-opacity="0.45" stroke-width="0.8" vector-effect="non-scaling-stroke"/>
<path d="M0 42l15 0 4 3 14 0 13-6 4-4 6 1 1 1 1 4 1 7 2 22 2 27 2 42 1 30 2 111 2 146 1 29 1-19 1-38 3-232 2-110 1-27 1-16 1-3 3-3 26 0" stroke="#FABEBE" stroke-opacity="0.45" stroke-width="0.8" vector-effect="non-scaling-stroke"/>
<path d="M0 25l10 0 22 14 15 2 6 9 2 6 2 9 2 15 2 23 1 18 2 52 2 117 2 92 1-5 2-56 4-152 2-114 1-24 1-16 1-5 3-3 15-3 12 0" stroke="#F58231" stroke-opacity="0.45" stroke-width="0.8" vector-effect="non-scaling-stroke"/>
<path d="M0 31l6 0 21 13 18 2 6 7 3 9 1 5 2 13 2 21 1 16 2 44 1 36 3 160 1 23 1-13 2-54 3-104 1-35 2-108 1-27 1-17 1-9 3-4 3-1 25-2" stroke="#F58231" stroke-opacity="0.45" stroke-width="0.8" vector-effect="non-scaling-stroke"/>
<path d="M0 53l11 0 14 10 21 8 3 3 3 6 3 14 1 7 2 25 2 33 1 24 1 39 1 54 3 185 1 39 1 16 1-22 1-40 2-167 2-131 1-59 1-41 1-26 1-11 3-3 13-3 16-1" stroke="#4363D8" stroke-opacity="0.45" stroke-width="0.8" vector-effect="non-scaling-stroke"/>
<path d="M0 36l17 0 19 13 13 1 5 5 3 10 1 5 2 17 2 32 1 25 1 32 3 180 1 11 1-20 1-28 4-136 1-45 1-59 1-34 1-20 1-10 2-4 2-1 27-3" stroke="#E6C300" stroke-opacity="0.45" stroke-width="0.8" vector-effect="non-scaling-stroke"/>
<path d="M0 43l6 0 16 11 21 8 2 4 4 20 2 20 3 42 2 41 1 29 2 81 3 173 1 40 1 25 1-8 1-35 1-54 2-190 2-145 1-46 1-29 1-14 3-4 6-2 27-2" stroke="#3CB44B" stroke-opacity="0.45" stroke-width="0.8" vector-effect="non-scaling-stroke"/>
<path d="M0 38l21 1 24-9 4 0 6 4 2 9 4 31 1 10 2 25 2 33 1 24 2 76 3 153 1 33 1 4 1-22 1-35 3-203 2-101 1-33 1-18 1-11 3-3 23 0" stroke="#E6194B" stroke-opacity="0.45" stroke-width="0.8" vector-effect="non-scaling-stroke"/>
<path d="M0 49l8 0 19 12 18 6 6 8 3 10 2 12 1 8 2 25 2 33 1 23 1 37 2 101 2 125 1 42 1 31 1 0 1-32 1-57 2-177 2-134 1-54 1-31 1-18 5-5 26-3" stroke="#4363D8" stroke-opacity="0.45" stroke-width="0.8" vector-effect="non-scaling-stroke"/>
<path d="M0 26l4 0 18 11 19 6 3 3 4 8 2 7 3 17 1 8 2 23 2 30 1 20 1 30 1 42 4 210 1 34 1 16 1-15 1-35 2-152 3-184 1-47 1-27 1-18 2-4 5-2 26-3" stroke="#4363D8" stroke-opacity="0.45" stroke-width="0.8" vector-effect="non-scaling-stroke"/>
<path d="M0 36l11 0 4 3 15 0 22-9 5 4 1 3 2 15 3 33 2 32 2 49 2 99 2 138 1 44 1 0 1-28 1-49 2-157 2-122 1-44 1-23 1-14 3-4 25 0" stroke="#E6194B" stroke-opacity="0.45" stroke-width="0.8" vector-effect="non-scaling-stroke"/>
<path d="M0 35l2 2 21 0 24-10 5 3 3 4 2 6 3 25 3 33 2 31 2 41 1 29 2 92 3 182 1 38 1 1 1-31 1-52 2-178 2-141 1-52 1-29 1-18 1-4 3-3 22 0" stroke="#E6194B" stroke-opacity="0.45" stroke-width="0.8" vector-effect="non-scaling-stroke"/>
<path d="M0 39l13 0 16 10 16 5 2 4 3 14 2 17 2 24 2 32 1 24 2 69 3 149 1 34 1 10 1-19 1-33 3-210 2-104 1-28 1-19 1-5 4-3 32-2" stroke="#3CB44B" stroke-opacity="0.45" stroke-width="0.8" vector-effect="non-scaling-stroke"/>
<path d="M0 36l13 0 4 3 15 0 20-9 5 4 2 6 2 18 3 40 2 39 1 27 1 40 1 57 2 153 1 56 1 18 1-24 1-41 3-241 2-116 1-32 1-19 1-7 3-3 24 0" stroke="#E6194B" stroke-opacity="0.45" stroke-width="0.8" vector-effect="non-scaling-stroke"/>
<path d="M0 37l15 0 15 11 16 6 2 3 1 4 3 19 2 23 2 31 2 44 1 34 2 92 2 130 1 43 1 22 1-14 1-36 1-58 2-175 2-128 1-39 1-25 1-11 3-3 7-2 25-2" stroke="#3CB44B" stroke-opacity="0.45" stroke-width="0.8" vector-effect="non-scaling-stroke"/>
<path d="M0 39l25 0 4 3 13 0 16-10 4 3 1 3 1 8 3 40 2 43 1 32 1 56 1 71 1 94 1 59 1-2 1-32 1-60 2-164 1-63 1-54 1-33 1-18 1-6 2-2 24 0" stroke="#E6194B" stroke-opacity="0.45" stroke-width="0.8" vector-effect="non-scaling-stroke"/>
<path d="M0 33l7 0 4 3 15 0 24-9 7 7 2 14 3 29 2 27 2 39 1 28 1 42 1 50 2 126 1 41 1 9 1-22 1-35 3-209 2-103 1-33 1-18 1-11 3-3 24 0" stroke="#E6194B" stroke-opacity="0.45" stroke-width="0.8" vector-effect="non-scaling-stroke"/>
<path d="M0 36l8 0 18 10 18 5 6 8 2 6 2 9 2 14 3 36 1 17 1 25 2 82 2 103 1 39 1 29 1 7 1-21 1-35 2-142 3-156 1-31 1-21 1-7 3-2 15-3 14 0" stroke="#DCBEFF" stroke-opacity="0.45" stroke-width="0.8" vector-effect="non-scaling-stroke"/>
<path d="M0 23l3 0 24 13 17 1 6 8 3 9 2 9 2 14 1 9 1 13 1 15 2 43 1 36 3 146 1 24 1-11 2-54 4-145 1-59 1-45 1-22 1-14 1-4 4-3 27-3" stroke="#F58231" stroke-opacity="0.45" stroke-width="0.8" vector-effect="non-scaling-stroke"/>
<path d="M0 42l13 7 23 6 3 3 4 14 3 17 4 41 2 27 2 36 1 25 3 99 3 145 2 62 1 15 1-12 1-38 1-61 2-194 1-77 1-65 1-41 1-28 1-9 5-5 17-3 14 0" stroke="#3CB44B" stroke-opacity="0.45" stroke-width="0.8" vector-effect="non-scaling-stroke"/>
<path d="M0 29l15 1 16 10 14 4 4 4 2 4 3 9 2 11 1 7 2 23 2 31 1 23 1 36 1 48 3 163 1 34 1 8 1-23 1-41 2-152 3-164 1-30 1-20 1-4 2-2 15-3 14 0" stroke="#4363D8" stroke-opacity="0.45" stroke-width="0.8" vector-effect="non-scaling-stroke"/>
<path d="M0 39l15 0 21-6 5-3 6 0 6 4 2 8 4 27 3 28 2 26 2 34 1 27 2 74 3 142 1 32 1 12 1-17 1-30 1-57 2-141 2-108 1-41 1-22 1-15 1-5 2-2 23 0" stroke="#E6194B" stroke-opacity="0.45" stroke-width="0.8" vector-effect="non-scaling-stroke"/>
<path d="M0 38l9 1 21 12 18 2 5 7 2 7 1 5 2 15 1 11 2 35 1 25 1 42 1 58 2 85 1 1 2-49 4-134 2-104 1-23 1-15 1-5 3-3 29-3" stroke="#E6C300" stroke-opacity="0.45" stroke-width="0.8" vector-effect="non-scaling-stroke"/>
<path d="M0 41l6 0 17 10 18 5 3 3 1 3 2 8 2 11 2 19 2 24 2 33 1 24 2 68 3 145 1 33 1 19 1-11 1-33 1-56 2-163 1-63 1-52 1-31 1-20 1-4 2-2 35-3" stroke="#3CB44B" stroke-opacity="0.45" stroke-width="0.8" vector-effect="non-scaling-stroke"/>
<path d="M0 36l16 0 20 13 12 0 5 4 2 4 2 7 2 13 1 9 1 13 1 18 1 24 1 31 3 175 1 15 1-19 2-57 3-105 2-103 1-34 1-19 1-10 2-4 2-1 27-3" stroke="#E6C300" stroke-opacity="0.45" stroke-width="0.8" vector-effect="non-scaling-stroke"/>
<path d="M0 39l7 0 16 10 20 6 2 2 2 6 3 15 2 17 3 37 2 35 1 25 2 69 3 147 1 34 1 23 1-4 1-27 1-40 2-155 2-127 1-47 1-28 1-19 1-5 4-3 30-3" stroke="#3CB44B" stroke-opacity="0.45" stroke-width="0.8" vector-effect="non-scaling-stroke"/>
<path d="M0 16l13 0 15 9 16 5 2 4 3 15 2 17 2 25 2 33 1 22 2 69 3 147 1 33 1 8 1-20 1-34 3-211 1-53 1-40 1-24 1-13 2-3 9-3 27-1" stroke="#3CB44B" stroke-opacity="0.45" stroke-width="0.8" vector-effect="non-scaling-stroke"/>
</g>
<rect x="377.5" y="247.9" width="305" height="163.1" fill="none" stroke="#555" stroke-width="1"/>
<line x1="388.8" y1="411" x2="388.8" y2="415.3" stroke="#555" stroke-width="1"/>
<text x="388.8" y="425.4" text-anchor="middle" class="t">70</text>
<line x1="445.4" y1="411" x2="445.4" y2="415.3" stroke="#555" stroke-width="1"/>
<text x="445.4" y="425.4" text-anchor="middle" class="t">75</text>
<line x1="502" y1="411" x2="502" y2="415.3" stroke="#555" stroke-width="1"/>
<text x="502" y="425.4" text-anchor="middle" class="t">80</text>
<line x1="558.6" y1="411" x2="558.6" y2="415.3" stroke="#555" stroke-width="1"/>
<text x="558.6" y="425.4" text-anchor="middle" class="t">85</text>
<line x1="615.2" y1="411" x2="615.2" y2="415.3" stroke="#555" stroke-width="1"/>
<text x="615.2" y="425.4" text-anchor="middle" class="t">90</text>
<line x1="671.8" y1="411" x2="671.8" y2="415.3" stroke="#555" stroke-width="1"/>
<text x="671.8" y="425.4" text-anchor="middle" class="t">95</text>
<line x1="377.5" y1="403.7" x2="373.2" y2="403.7" stroke="#555" stroke-width="1"/>
<text transform="translate(368,403.7) rotate(-90)" text-anchor="middle" class="t">0.00</text>
<line x1="377.5" y1="359.03" x2="373.2" y2="359.03" stroke="#555" stroke-width="1"/>
<text transform="translate(368,359.03) rotate(-90)" text-anchor="middle" class="t">0.05</text>
<line x1="377.5" y1="314.37" x2="373.2" y2="314.37" stroke="#555" stroke-width="1"/>
<text transform="translate(368,314.37) rotate(-90)" text-anchor="middle" class="t">0.10</text>
<line x1="377.5" y1="269.71" x2="373.2" y2="269.71" stroke="#555" stroke-width="1"/>
<text transform="translate(368,269.71) rotate(-90)" text-anchor="middle" class="t">0.15</text>
<text x="530" y="434.4" text-anchor="middle" class="t">Temperature (°C)</text>
<text x="530" y="234.8" text-anchor="middle" class="ti">wzi−4 Illumina Eco Real−Time</text>
<g transform="translate(41.5,635) scale(2.8275,-0.2500)" fill="none" stroke-linejoin="round">
<path d="M0 86l6 0 5 4 13-8 12-2 2 3 2 8 1 9 1 13 5 86 1 23 2 58 3 119 2 90 1 23 1-11 1-25 1-39 4-207 3-140 1-29 1-20 1-15 1-7 1-3 3-4 6-1 20-11" stroke="#911EB4" stroke-opacity="0.45" stroke-width="0.8" vector-effect="non-scaling-stroke"/>
<path d="M0 78l15-7 17-2 3 7 1 4 1 7 2 21 2 31 3 39 2 33 3 70 4 125 2 72 1 23 1 2 1-19 1-27 5-237 3-131 1-28 2-34 1-9 3-6 16-5 10-6" stroke="#4363D8" stroke-opacity="0.45" stroke-width="0.8" vector-effect="non-scaling-stroke"/>
<path d="M0 108l6 0 4 5 13-9 14-4 1 1 2 6 1 6 2 27 4 69 2 47 2 66 3 126 1 50 1 37 1 3 1-20 1-30 5-256 3-140 1-28 1-20 1-15 1-7 1-3 4-5 13-5 11-8" stroke="#911EB4" stroke-opacity="0.45" stroke-width="0.8" vector-effect="non-scaling-stroke"/>
<path d="M0 120l1 0 3 6 3 0 31-24 3 3 2 5 7 30 1 11 1 19 3 73 2 63 5 180 1 21 1-6 1-22 1-38 4-198 2-86 1-38 1-29 2-43 1-13 1-8 1-6 2-5 4-4 15-9" stroke="#E6C300" stroke-opacity="0.45" stroke-width="0.8" vector-effect="non-scaling-stroke"/>
<path d="M0 99l4 0 4 3 7-5 21-6 3 3 3 18 2 20 2 30 4 93 2 58 2 70 1 40 2 106 1-8 1-24 1-49 1-72 2-122 2-101 1-41 2-55 1-17 2-19 1-4 24-17 4 0" stroke="#3CB44B" stroke-opacity="0.45" stroke-width="0.8" vector-effect="non-scaling-stroke"/>
<path d="M0 118l7-4 27-8 2 1 2 4 3 13 2 15 2 21 4 66 2 39 2 46 2 54 2 67 1 51 1 28 1-8 1-20 1-36 2-115 2-102 2-84 1-35 1-26 1-22 1-17 2-20 1-6 1-2 24-16" stroke="#BFEF45" stroke-opacity="0.45" stroke-width="0.8" vector-effect="non-scaling-stroke"/>
<path d="M0 91l4 4 3 0 12-8 15-3 3 6 1 5 1 8 1 11 1 15 2 36 2 31 1 18 1 23 2 56 1 36 5 201 1 10 1-17 1-29 1-45 4-214 3-143 1-29 2-36 1-7 1-3 3-4 10-3 16-10" stroke="#4363D8" stroke-opacity="0.45" stroke-width="0.8" vector-effect="non-scaling-stroke"/>
<path d="M0 99l5 1 5-4 23-7 5 4 2 9 2 13 2 19 2 27 3 58 2 43 3 80 2 66 2 97 1 8 1-16 1-25 4-222 3-128 1-30 1-23 1-19 1-13 2-17 1-3 25-16" stroke="#469990" stroke-opacity="0.45" stroke-width="0.8" vector-effect="non-scaling-stroke"/>
<path d="M0 80l4 2 21-14 10-4 3 4 2 8 2 10 3 19 3 15 1 9 1 16 3 70 3 89 2 72 3 98 1 16 1-10 1-26 2-94 3-156 2-85 1-32 1-25 1-20 1-14 2-13 2-5 21-10" stroke="#E6C300" stroke-opacity="0.45" stroke-width="0.8" vector-effect="non-scaling-stroke"/>
<path d="M0 97l2 0 3 4 3 0 12-8 14-4 2 2 3 12 2 24 2 36 3 48 2 47 2 63 3 119 2 89 1 19 1-12 1-27 1-40 4-215 3-148 1-34 2-40 1-10 2-6 15-7 13-9" stroke="#911EB4" stroke-opacity="0.45" stroke-width="0.8" vector-effect="non-scaling-stroke"/>
<path d="M0 107l17-9 8-1 6-3 2 1 2 4 2 8 2 20 2 31 3 40 2 36 2 48 1 30 3 103 2 79 1 29 1 5 1-20 1-29 4-208 3-147 1-41 2-45 1-13 2-8 3-3 11-4 15-10" stroke="#911EB4" stroke-opacity="0.45" stroke-width="0.8" vector-effect="non-scaling-stroke"/>
<path d="M0 112l7 4 15-9 13-4 2 3 2 8 2 21 1 16 3 40 2 36 2 49 1 32 3 107 1 43 1 32 1 7 1-18 1-29 7-340 1-37 1-22 1-17 1-11 2-6 14-7 13-10 2 0" stroke="#4363D8" stroke-opacity="0.45" stroke-width="0.8" vector-effect="non-scaling-stroke"/>
<path d="M0 91l2 4 3 2 23-16 9-3 2 3 2 6 2 8 3 17 3 14 1 7 1 16 3 68 2 57 6 203 1 14 1-15 1-31 4-217 2-95 1-37 1-27 1-23 1-15 1-9 1-6 2-5 16-10 5-1" stroke="#E6C300" stroke-opacity="0.45" stroke-width="0.8" vector-effect="non-scaling-stroke"/>
<path d="M0 147l3 6 6-2 30-28 3 3 4 15 3 9 1 5 1 14 2 43 2 54 2 66 5 187 1 20 1-10 1-25 2-95 3-165 2-92 1-38 1-28 1-24 1-18 1-11 1-7 1-5 2-5 19-15" stroke="#E6C300" stroke-opacity="0.45" stroke-width="0.8" vector-effect="non-scaling-stroke"/>
<path d="M0 129l16-9 9-2 5-3 3 1 3 7 1 6 2 19 2 28 3 35 2 32 1 20 1 22 2 57 3 97 2 74 1 23 1-2 1-23 1-33 4-215 3-150 1-37 2-40 1-11 1-4 2-4 10-4 17-13" stroke="#4363D8" stroke-opacity="0.45" stroke-width="0.8" vector-effect="non-scaling-stroke"/>
<path d="M0 96l3 0 3 6 3 0 23-17 4-2 3 1 2 4 2 7 7 36 1 12 3 69 2 59 5 183 1 30 1 7 1-21 1-37 4-217 2-92 1-34 2-48 1-13 1-8 2-8 17-12 5-1" stroke="#E6C300" stroke-opacity="0.45" stroke-width="0.8" vector-effect="non-scaling-stroke"/>
<path d="M0 99l10 0 3 4 2 0 14-9 9-2 2 3 2 10 1 12 4 69 2 45 2 65 3 129 1 51 1 30 1-8 1-27 1-41 3-165 3-152 1-40 1-23 1-18 1-11 3-7 9-3 15-11 4 0" stroke="#4363D8" stroke-opacity="0.45" stroke-width="0.8" vector-effect="non-scaling-stroke"/>
<path d="M0 88l6 0 3 4 3 0 11-7 14-3 1 2 2 8 2 19 5 81 1 22 2 55 3 112 2 85 1 21 1-11 1-26 1-39 4-200 3-133 1-25 1-18 1-13 1-5 4-5 8-2 14-9 4-1" stroke="#911EB4" stroke-opacity="0.45" stroke-width="0.8" vector-effect="non-scaling-stroke"/>
<path d="M0 109l17-9 17-4 3 5 2 9 2 20 2 30 3 39 1 15 2 38 2 50 1 32 3 100 2 77 1 25 1 1 1-20 1-29 4-205 4-188 1-29 2-36 1-8 3-7 7-2 17-10" stroke="#FABEBE" stroke-opacity="0.45" stroke-width="0.8" vector-effect="non-scaling-stroke"/>
<path d="M0 104l6 0 2 3 4 0 7-5 12-4 6-4 3 4 1 5 1 8 5 62 2 35 2 51 3 96 1 37 1 24 1-3 1-20 1-28 4-170 3-116 1-25 1-17 1-12 1-6 1-3 3-3 8-2 18-11" stroke="#E6194B" stroke-opacity="0.7" stroke-width="0.8" vector-effect="non-scaling-stroke"/>
<path d="M0 97l8 0 4 3 9-6 18-5 2 2 1 3 2 11 2 17 2 27 2 41 2 48 2 56 3 107 1 47 1 64 1 11 1-20 1-39 3-203 2-107 1-43 1-31 1-25 1-16 1-12 1-8 2-4 12-7 9-8 4 0" stroke="#3CB44B" stroke-opacity="0.45" stroke-width="0.8" vector-effect="non-scaling-stroke"/>
<path d="M0 89l11 1 3 4 12-8 11-3 3 4 1 4 1 7 1 12 4 68 2 45 2 65 4 178 1 25 1-12 1-27 1-43 3-159 3-147 1-36 1-22 1-17 1-9 3-6 11-4 13-9 4 0" stroke="#911EB4" stroke-opacity="0.45" stroke-width="0.8" vector-effect="non-scaling-stroke"/>
<path d="M0 91l10 2 8-5 21-5 2 2 1 3 1 4 2 12 2 18 2 26 2 39 3 66 2 54 2 65 1 38 1 57 1 28 1-12 1-24 4-227 2-91 1-37 1-27 1-23 1-16 2-18 1-4 24-16" stroke="#BFEF45" stroke-opacity="0.45" stroke-width="0.8" vector-effect="non-scaling-stroke"/>
<path d="M0 61l9 0 5 3 6-4 16-2 4 5 3 8 1 5 3 26 2 26 2 40 2 48 2 53 2 64 2 77 1 62 1 28 1-12 1-23 4-223 2-92 1-38 1-29 1-24 1-18 2-21 1-5 1-2 23-11" stroke="#3CB44B" stroke-opacity="0.45" stroke-width="0.8" vector-effect="non-scaling-stroke"/>
<path d="M0 126l3 5 3 0 28-13 2 5 1 6 1 12 2 31 1 17 1 22 2 60 3 105 3 97 1 20 1 1 1-13 1-22 1-45 4-253 1-49 1-37 1-25 2-29 1-5 2-3 16-3 17-10" stroke="#F58231" stroke-opacity="0.35" stroke-width="0.8" vector-effect="non-scaling-stroke"/>
<path d="M0 143l4 0 3 7 3 0 30-29 2 2 2 6 2 10 3 11 1 7 1 16 2 49 1 30 2 70 5 207 1 18 1-15 1-32 4-228 3-147 2-59 1-20 1-12 1-8 1-6 1-3 20-17 2 0" stroke="#E6C300" stroke-opacity="0.45" stroke-width="0.8" vector-effect="non-scaling-stroke"/>
<path d="M0 101l3 4 2 0 13-8 16-4 2 3 2 8 2 20 2 33 3 44 2 40 2 54 1 35 5 192 1 9 1-17 1-28 1-45 4-212 3-141 1-27 1-20 1-14 1-7 4-6 9-3 17-11" stroke="#4363D8" stroke-opacity="0.45" stroke-width="0.8" vector-effect="non-scaling-stroke"/>
<path d="M0 120l3 0 5 5 11-8 17-7 2 2 2 7 1 6 2 25 2 38 2 33 1 19 2 51 2 70 5 223 1 16 1-17 1-30 1-45 3-177 4-215 1-37 2-42 1-11 2-7 3-3 10-4 13-10" stroke="#FABEBE" stroke-opacity="0.45" stroke-width="0.8" vector-effect="non-scaling-stroke"/>
<path d="M0 118l6 0 2 5 2 2 8-5 22-20 2 2 2 5 6 26 1 8 1 17 2 48 1 29 2 68 4 154 1 27 1-2 1-23 1-39 4-203 2-86 1-34 1-26 1-21 1-15 1-9 1-6 2-6 21-14" stroke="#E6C300" stroke-opacity="0.45" stroke-width="0.8" vector-effect="non-scaling-stroke"/>
<path d="M0 73l5 3 9-5 21-4 4 5 2 7 2 12 2 16 2 22 2 33 3 59 2 45 3 83 1 32 2 91 1 8 1-17 1-28 3-175 1-51 2-86 1-33 1-24 1-20 1-14 2-16 1-2 3-3 14-6 7-5" stroke="#3CB44B" stroke-opacity="0.45" stroke-width="0.8" vector-effect="non-scaling-stroke"/>
<path d="M0 63l4 1 14-7 16-1 2 5 2 9 1 8 2 26 2 34 3 45 2 41 1 25 2 62 3 105 2 77 1 20 1-7 1-25 1-36 4-207 3-143 1-32 1-21 1-16 1-9 2-5 2-2 12-3 13-7" stroke="#FABEBE" stroke-opacity="0.45" stroke-width="0.8" vector-effect="non-scaling-stroke"/>
<path d="M0 96l11-5 23-5 3 2 1 3 2 9 2 12 2 18 2 24 5 90 3 70 2 56 1 31 2 90 1 9 1-15 1-25 4-223 2-88 1-37 1-28 1-23 1-17 1-12 1-8 1-6 1-2 24-15" stroke="#3CB44B" stroke-opacity="0.45" stroke-width="0.8" vector-effect="non-scaling-stroke"/>
<path d="M0 115l16-8 15-5 2 1 3 8 2 15 2 27 3 35 1 14 2 36 2 49 3 94 2 71 1 27 1 4 1-19 1-28 4-196 3-137 1-34 1-21 1-16 1-10 2-5 3-3 9-3 15-11 3 0" stroke="#4363D8" stroke-opacity="0.45" stroke-width="0.8" vector-effect="non-scaling-stroke"/>
<path d="M0 154l2 3 6-1 24-14 2 1 2 9 1 11 3 56 1 23 1 31 2 74 5 205 1 33 1 18 1-4 1-19 1-28 1-63 4-301 1-56 1-43 1-29 2-34 1-7 3-4 15-3 17-11" stroke="#F58231" stroke-opacity="0.35" stroke-width="0.8" vector-effect="non-scaling-stroke"/>
<path d="M0 117l4 0 4 6 2 0 30-24 4 8 6 24 1 10 1 20 1 21 2 53 2 65 4 145 1 24 1-6 1-24 2-90 3-153 2-84 1-29 2-43 1-11 1-7 2-8 20-14 2 0" stroke="#E6C300" stroke-opacity="0.45" stroke-width="0.8" vector-effect="non-scaling-stroke"/>
<path d="M0 101l11 2 7-5 15-4 2-2 5 0 2 4 2 11 2 16 2 23 1 16 4 84 2 53 2 62 1 36 2 100 1 1 1-20 1-40 3-188 2-99 1-40 1-30 1-24 1-17 2-19 1-4 25-17" stroke="#808080" stroke-opacity="0.45" stroke-width="0.8" vector-effect="non-scaling-stroke"/>
<path d="M0 56l17-6 15-1 3 4 2 8 2 18 5 61 2 28 1 18 1 20 2 50 5 142 1 11 1-8 1-20 1-28 5-193 2-72 1-29 2-32 1-10 1-4 3-4 26-8" stroke="#E6194B" stroke-opacity="0.7" stroke-width="0.8" vector-effect="non-scaling-stroke"/>
<path d="M0 128l3 0 5 4 11-8 15-7 3 1 2 5 2 19 4 57 1 16 2 43 2 62 2 73 2 83 1 28 1-3 1-25 1-35 4-211 3-142 1-27 1-20 1-14 2-8 3-3 8-3 16-13 3 0" stroke="#4363D8" stroke-opacity="0.45" stroke-width="0.8" vector-effect="non-scaling-stroke"/>
<path d="M0 60l10 2 7-4 19-2 4 8 2 10 2 14 2 20 2 28 2 41 3 69 2 55 2 64 1 37 1 55 1 39 1-8 1-22 1-43 3-179 2-94 1-39 1-30 1-24 1-18 2-20 1-5 1-2 24-12" stroke="#3CB44B" stroke-opacity="0.45" stroke-width="0.8" vector-effect="non-scaling-stroke"/>
<path d="M0 128l9 2 4-4 12-4 15-8 1 1 3 14 2 17 2 25 1 17 4 87 2 54 2 66 2 83 1 60 1 16 1-16 1-27 4-245 2-98 1-41 1-31 1-26 1-19 2-23 1-6 2-4 13-8 9-8" stroke="#BFEF45" stroke-opacity="0.45" stroke-width="0.8" vector-effect="non-scaling-stroke"/>
<path d="M0 110l2 2 4 0 14-8 12-4 4 1 2 4 1 4 2 17 5 64 2 33 1 21 2 54 3 96 2 72 1 16 1-9 1-24 1-35 4-192 3-131 1-28 2-34 1-8 2-5 2-2 13-5 12-9" stroke="#F032E6" stroke-opacity="0.45" stroke-width="0.8" vector-effect="non-scaling-stroke"/>
<path d="M0 133l3 5 4 0 27-13 1 2 2 11 3 49 1 19 1 26 2 66 3 115 3 105 1 18 1-1 1-15 1-25 1-54 4-271 1-52 1-39 1-26 1-17 1-13 1-6 3-4 16-3 16-10" stroke="#F58231" stroke-opacity="0.35" stroke-width="0.8" vector-effect="non-scaling-stroke"/>
<path d="M0 144l4 0 3 4 2 0 13-10 8-3 6-5 3 2 1 3 2 18 2 32 2 27 2 36 2 51 1 35 5 199 1 7 1-17 1-27 1-42 3-153 4-187 1-34 1-22 1-17 1-12 1-5 2-4 16-9 10-9" stroke="#4363D8" stroke-opacity="0.45" stroke-width="0.8" vector-effect="non-scaling-stroke"/>
<path d="M0 85l10-4 18-3 3 5 2 6 1 7 2 19 6 76 3 53 2 47 4 117 2 68 1 26 1 9 1-13 1-26 1-39 4-202 3-137 1-30 2-36 1-9 3-6 10-3 18-10" stroke="#911EB4" stroke-opacity="0.45" stroke-width="0.8" vector-effect="non-scaling-stroke"/>
<path d="M0 92l10-5 23-5 3 3 1 3 1 4 3 19 2 20 2 26 1 17 4 81 3 76 3 94 2 97 1 7 1-17 1-28 3-182 1-55 2-93 1-39 1-29 1-24 1-18 2-21 1-5 1-2 25-16" stroke="#3CB44B" stroke-opacity="0.45" stroke-width="0.8" vector-effect="non-scaling-stroke"/>
<path d="M0 112l8 2 7-5 24-8 1 2 3 14 2 17 2 25 3 57 2 44 3 83 2 73 1 56 1 18 1-15 1-27 4-234 2-89 1-33 1-25 1-20 1-13 1-9 1-6 1-2 13-8 10-9 3 0" stroke="#3CB44B" stroke-opacity="0.45" stroke-width="0.8" vector-effect="non-scaling-stroke"/>
<path d="M0 112l17-9 17-4 3 6 2 10 2 22 2 30 3 39 1 16 2 40 1 25 2 61 5 176 1 17 1-10 1-25 1-38 4-212 3-146 1-36 2-40 1-11 2-6 11-5 15-10" stroke="#FABEBE" stroke-opacity="0.45" stroke-width="0.8" vector-effect="non-scaling-stroke"/>
<path d="M0 67l3 1 9-5 22-3 3 3 2 6 3 19 2 17 1 11 2 27 5 100 3 76 2 59 1 35 1 52 1 34 1-7 1-22 1-43 1-67 2-114 2-95 1-40 1-29 1-24 1-18 2-21 1-5 3-3 22-11" stroke="#3CB44B" stroke-opacity="0.45" stroke-width="0.8" vector-effect="non-scaling-stroke"/>
<path d="M0 118l2 0 3 6 4 0 27-22 4-1 4 10 2 10 4 16 1 10 1 19 2 46 3 91 5 181 1 16 1-11 1-25 2-92 3-153 2-86 1-33 1-26 1-21 1-16 2-16 1-4 2-4 19-12" stroke="#E6C300" stroke-opacity="0.45" stroke-width="0.8" vector-effect="non-scaling-stroke"/>
<path d="M0 112l11-6 11-2 6-3 3 1 4 10 2 17 1 11 2 30 3 37 2 32 2 41 1 25 2 61 3 99 2 73 1 21 1-3 1-23 1-32 4-214 4-195 1-27 2-36 1-7 1-3 3-4 11-4 14-10" stroke="#F032E6" stroke-opacity="0.45" stroke-width="0.8" vector-effect="non-scaling-stroke"/>
<path d="M0 70l7 2 7-4 20-4 4 4 2 7 2 12 1 7 2 19 2 27 3 56 2 43 2 49 3 90 2 90 1-1 1-19 1-37 3-176 2-93 1-38 1-28 1-23 1-17 2-18 1-4 23-14 3 0" stroke="#808080" stroke-opacity="0.45" stroke-width="0.8" vector-effect="non-scaling-stroke"/>
<path d="M0 108l4 1 13-8 13-4 4 1 3 10 2 20 2 31 2 27 2 32 1 21 2 51 1 33 5 184 1 12 1-15 1-28 1-45 4-210 3-140 1-25 1-19 1-13 2-7 3-3 9-3 15-11 3 0" stroke="#4363D8" stroke-opacity="0.45" stroke-width="0.8" vector-effect="non-scaling-stroke"/>
<path d="M0 102l4 0 4 7 6-3 20-16 5-1 2 2 3 8 7 34 1 9 1 19 3 74 2 64 5 183 1 16 1-13 1-28 5-255 2-85 1-31 2-44 1-12 1-8 1-5 2-5 19-11" stroke="#E6C300" stroke-opacity="0.45" stroke-width="0.8" vector-effect="non-scaling-stroke"/>
<path d="M0 88l8 0 5 5 12-8 13-2 2 5 2 12 1 12 1 16 4 73 1 23 2 61 3 124 2 93 1 14 1-16 1-28 1-45 4-209 2-98 1-41 2-43 1-13 1-5 3-5 7-2 19-11" stroke="#4363D8" stroke-opacity="0.45" stroke-width="0.8" vector-effect="non-scaling-stroke"/>
<path d="M0 112l5 3 15-9 12-4 4 1 3 9 2 19 5 68 2 37 2 48 1 32 3 102 2 75 1 15 1-12 1-25 1-37 4-198 3-136 1-31 2-37 1-9 2-6 11-5 16-11" stroke="#911EB4" stroke-opacity="0.45" stroke-width="0.8" vector-effect="non-scaling-stroke"/>
<path d="M0 118l7 2 7-5 11-3 14-8 2 5 2 8 2 16 2 22 3 53 2 41 2 50 2 61 1 36 1 54 1 28 1-10 1-23 1-47 3-168 3-124 2-48 1-16 2-19 2-6 25-17" stroke="#3CB44B" stroke-opacity="0.45" stroke-width="0.8" vector-effect="non-scaling-stroke"/>
<path d="M0 93l8 2 8-5 20-6 4 2 1 3 3 16 2 18 2 26 3 57 2 44 2 53 2 62 1 36 1 55 1 34 1-10 1-24 3-181 2-105 1-45 1-34 2-47 2-22 1-5 1-2 18-11 4-4 3 0" stroke="#BFEF45" stroke-opacity="0.45" stroke-width="0.8" vector-effect="non-scaling-stroke"/>
<path d="M0 134l7 2 9-6 15-6 8-6 1 1 3 11 2 16 2 22 3 53 2 41 2 51 2 60 1 35 2 99 1 6 1-18 1-32 3-183 1-53 2-90 1-35 1-26 1-21 1-15 2-17 1-3 25-20" stroke="#3CB44B" stroke-opacity="0.45" stroke-width="0.8" vector-effect="non-scaling-stroke"/>
<path d="M0 106l4 6 2 0 26-19 7-2 4 10 3 14 3 11 1 7 1 14 3 65 2 56 5 168 1 29 1 8 1-18 1-32 4-201 2-88 1-36 1-26 1-22 1-16 1-9 1-6 2-6 21-13" stroke="#E6C300" stroke-opacity="0.45" stroke-width="0.8" vector-effect="non-scaling-stroke"/>
<path d="M0 120l3 6 2 1 8-5 20-17 6-2 4 10 3 15 3 11 1 7 1 14 3 69 3 94 5 183 1 16 1-13 1-28 2-100 2-112 2-97 1-43 1-33 2-48 1-14 1-8 1-6 2-6 20-14" stroke="#E6C300" stroke-opacity="0.45" stroke-width="0.8" vector-effect="non-scaling-stroke"/>
<path d="M0 101l6 0 3 4 3 0 11-8 14-4 3 8 1 6 2 26 1 19 3 48 2 45 2 64 5 208 1 7 1-18 1-27 2-93 2-105 4-186 1-29 2-36 1-9 2-5 2-2 17-7 8-6" stroke="#F032E6" stroke-opacity="0.45" stroke-width="0.8" vector-effect="non-scaling-stroke"/>
<path d="M0 97l8 0 5 2 7-5 18-5 3 3 1 3 2 12 2 18 2 27 1 19 4 100 2 63 2 75 1 46 1 66 1 19 1-16 1-30 3-195 1-58 2-98 1-38 1-28 1-23 1-15 2-19 1-3 25-17" stroke="#3CB44B" stroke-opacity="0.45" stroke-width="0.8" vector-effect="non-scaling-stroke"/>
<path d="M0 98l3 3 16-9 15-3 2 5 2 10 2 23 2 34 2 29 2 36 2 50 1 31 3 111 2 84 1 30 1 2 1-22 1-31 4-212 3-149 1-40 2-43 1-13 1-5 3-5 13-5 14-9" stroke="#911EB4" stroke-opacity="0.45" stroke-width="0.8" vector-effect="non-scaling-stroke"/>
<path d="M0 139l6-1 21-11 6-1 1 3 2 12 3 48 1 18 1 24 3 96 5 180 1 29 1 15 1-2 1-17 1-24 1-55 4-272 1-54 1-40 1-29 2-33 1-7 3-5 17-3 15-9" stroke="#F58231" stroke-opacity="0.35" stroke-width="0.8" vector-effect="non-scaling-stroke"/>
<path d="M0 81l10 2 5-4 21-5 5 7 2 11 2 14 3 36 2 39 3 67 3 84 2 69 2 102 1 4 1-19 1-33 3-183 1-54 2-90 1-33 1-26 1-21 1-14 2-17 1-2 24-15" stroke="#BFEF45" stroke-opacity="0.45" stroke-width="0.8" vector-effect="non-scaling-stroke"/>
<path d="M0 63l3 3 15-8 16-1 2 5 2 10 1 9 2 28 2 39 3 51 2 47 2 60 6 242 1 18 1-13 1-28 1-42 4-227 3-155 1-34 2-40 1-9 3-7 14-4 12-7" stroke="#FABEBE" stroke-opacity="0.45" stroke-width="0.8" vector-effect="non-scaling-stroke"/>
<path d="M0 97l3-2 28-6 4 4 3 12 2 11 3 25 1 12 4 61 3 54 2 44 2 50 1 28 2 81 1 17 1-12 1-23 1-47 3-168 2-89 1-37 2-51 1-17 1-12 1-9 1-5 1-2 25-16" stroke="#3CB44B" stroke-opacity="0.45" stroke-width="0.8" vector-effect="non-scaling-stroke"/>
<path d="M0 93l6 0 3 4 3 0 12-8 12-3 2 2 1 3 2 10 2 25 4 72 2 44 2 62 3 124 2 94 1 25 1-10 1-27 1-40 4-220 3-150 1-33 2-38 1-9 3-6 13-5 13-9" stroke="#F032E6" stroke-opacity="0.45" stroke-width="0.8" vector-effect="non-scaling-stroke"/>
<path d="M0 81l21-13 14-5 3 8 2 8 2 12 5 24 1 9 1 16 3 62 3 79 5 153 1 25 1 8 1-16 1-29 4-196 3-124 2-50 1-17 2-17 1-5 1-2 3-3 19-8" stroke="#E6C300" stroke-opacity="0.45" stroke-width="0.8" vector-effect="non-scaling-stroke"/>
<path d="M0 87l4 0 5 5 13-8 13-3 3 6 1 4 1 7 2 25 2 36 2 31 2 43 2 59 3 116 2 88 1 22 1-10 1-28 1-42 3-167 3-153 1-41 1-25 1-19 1-12 2-6 3-3 13-5 10-7 3 0" stroke="#E6194B" stroke-opacity="0.45" stroke-width="0.8" vector-effect="non-scaling-stroke"/>
<path d="M0 68l5 0 3 6 2 1 24-16 4 3 2 4 3 13 6 39 1 8 1 15 3 77 2 66 5 194 1 16 1-14 1-27 5-251 2-85 1-31 2-45 1-13 1-8 2-9 3-3 19-8" stroke="#E6C300" stroke-opacity="0.45" stroke-width="0.8" vector-effect="non-scaling-stroke"/>
<path d="M0 121l3 4 3-1 21-17 11-6 4 8 7 30 1 7 1 15 3 67 3 91 5 176 1 20 1-7 1-27 1-46 3-166 2-100 1-43 1-33 2-48 1-13 1-8 2-9 21-15" stroke="#E6C300" stroke-opacity="0.45" stroke-width="0.8" vector-effect="non-scaling-stroke"/>
<path d="M0 96l2 4 2 1 9-5 17-13 7-2 1 1 3 9 4 20 3 12 1 7 1 14 3 67 3 88 2 72 3 98 1 13 1-13 1-25 2-90 3-149 2-82 2-56 1-20 1-15 2-14 2-6 21-12" stroke="#E6C300" stroke-opacity="0.45" stroke-width="0.8" vector-effect="non-scaling-stroke"/>
<path d="M0 117l3 0 4 5 14-9 15-6 2 1 3 9 2 19 2 34 3 44 2 42 1 25 2 67 3 118 1 47 1 35 1 8 1-18 1-29 1-45 3-162 4-197 1-32 1-22 1-17 1-10 2-6 14-7 11-8" stroke="#FABEBE" stroke-opacity="0.45" stroke-width="0.8" vector-effect="non-scaling-stroke"/>
<path d="M0 91l4 0 4 4 13-8 14-3 2 3 2 7 1 8 1 12 1 16 4 65 2 44 2 60 3 116 2 86 1 17 1-12 1-27 1-41 4-208 3-141 1-28 1-20 1-15 1-7 4-6 7-2 19-11" stroke="#4363D8" stroke-opacity="0.45" stroke-width="0.8" vector-effect="non-scaling-stroke"/>
<path d="M0 115l2 0 4 7 2 0 26-21 5-2 2 2 2 5 7 31 1 11 3 67 3 94 2 77 3 104 1 10 1-19 1-35 4-218 2-93 1-37 1-27 1-23 1-15 2-14 1-4 18-14 4-1" stroke="#E6C300" stroke-opacity="0.45" stroke-width="0.8" vector-effect="non-scaling-stroke"/>
<path d="M0 100l2 0 4 7 1 0 27-20 4 0 2 3 3 11 6 32 1 8 1 18 3 76 2 65 5 190 1 21 1-9 1-27 2-100 2-114 2-98 1-43 1-32 1-26 1-20 1-13 2-13 1-3 18-12 4-1" stroke="#E6C300" stroke-opacity="0.45" stroke-width="0.8" vector-effect="non-scaling-stroke"/>
<path d="M0 127l3 0 3 6 2 1 10-7 21-19 2 0 3 7 3 14 3 10 1 7 1 15 2 45 1 27 2 62 5 189 1 26 1-3 1-24 2-95 3-167 2-92 1-34 1-26 1-22 1-14 2-14 1-3 21-16" stroke="#E6C300" stroke-opacity="0.45" stroke-width="0.8" vector-effect="non-scaling-stroke"/>
<path d="M0 120l4 0 3 4 3 0 11-8 14-6 1 0 3 7 1 8 1 12 4 61 2 37 2 54 3 113 2 87 1 27 1-5 1-22 1-30 4-195 4-176 1-25 1-19 1-14 1-8 5-7 11-4 14-10" stroke="#911EB4" stroke-opacity="0.45" stroke-width="0.8" vector-effect="non-scaling-stroke"/>
<path d="M0 93l3 2 8-5 23-6 4 3 1 3 1 4 3 19 2 20 2 28 2 39 3 65 3 81 2 66 2 98 1 15 1-16 1-29 4-246 2-95 1-37 1-28 1-22 1-15 1-11 1-7 1-3 25-16" stroke="#469990" stroke-opacity="0.45" stroke-width="0.8" vector-effect="non-scaling-stroke"/>
<path d="M0 101l11 0 4 2 7-5 18-6 2 2 1 3 2 12 2 19 2 30 4 99 2 63 2 77 1 47 1 69 1 18 1-18 1-32 3-197 2-108 1-45 1-35 1-27 1-21 1-14 1-10 1-6 5-5 11-6 8-7 2 0" stroke="#808080" stroke-opacity="0.45" stroke-width="0.8" vector-effect="non-scaling-stroke"/>
<path d="M0 111l4 0 4 5 12-8 15-6 2 3 2 7 2 21 2 35 2 30 2 40 2 58 3 117 2 88 1 18 1-14 1-27 1-44 4-212 3-141 1-25 1-19 1-12 1-5 3-5 7-2 18-13 3 0" stroke="#E6194B" stroke-opacity="0.45" stroke-width="0.8" vector-effect="non-scaling-stroke"/>
<path d="M0 120l7 0 3 6 2 1 6-4 14-14 9-5 2 2 2 6 1 4 3 18 2 8 1 7 1 14 1 23 2 56 2 70 5 211 1 20 1-13 1-30 2-107 2-120 3-147 1-33 1-27 1-21 1-13 1-8 1-5 2-5 19-14" stroke="#E6C300" stroke-opacity="0.45" stroke-width="0.8" vector-effect="non-scaling-stroke"/>
<path d="M0 116l5 0 5 7 9-6 19-17 3-1 2 3 2 6 6 27 1 14 3 71 2 63 5 186 1 15 1-15 1-32 4-215 2-93 1-35 1-27 1-22 1-14 1-8 1-5 2-5 18-13 3 0" stroke="#E6C300" stroke-opacity="0.45" stroke-width="0.8" vector-effect="non-scaling-stroke"/>
<path d="M0 109l3 4 3 0 14-9 14-4 2 4 2 10 2 23 2 35 2 29 1 18 2 45 2 63 3 116 2 88 1 18 1-12 1-28 1-41 4-220 3-149 1-31 1-22 1-16 1-8 2-5 2-2 12-5 13-10 2 0" stroke="#4363D8" stroke-opacity="0.45" stroke-width="0.8" vector-effect="non-scaling-stroke"/>
<path d="M0 104l2 4 3 0 26-19 6-2 2 3 3 9 3 16 3 12 1 6 1 11 3 64 3 85 5 173 1 25 1 1 1-21 1-35 4-203 3-126 2-50 1-18 1-11 1-7 1-5 2-4 20-12" stroke="#E6C300" stroke-opacity="0.45" stroke-width="0.8" vector-effect="non-scaling-stroke"/>
<path d="M0 73l7 2 6-4 22-4 2 2 3 7 3 19 2 20 2 26 2 38 3 66 2 51 3 94 1 43 1 54 1 14 1-15 1-27 4-233 2-90 1-36 1-27 1-22 1-15 2-18 1-4 25-14" stroke="#3CB44B" stroke-opacity="0.45" stroke-width="0.8" vector-effect="non-scaling-stroke"/>
<path d="M0 100l7-4 25-7 5 5 3 14 2 15 2 20 2 30 4 74 3 71 2 58 1 34 1 51 1 29 1-8 1-21 1-42 3-172 3-130 1-30 1-23 1-19 1-12 1-9 1-6 1-2 26-16" stroke="#808080" stroke-opacity="0.45" stroke-width="0.8" vector-effect="non-scaling-stroke"/>
<path d="M0 98l7 2 8-5 21-6 4 4 3 15 2 17 2 23 1 16 3 59 2 45 3 84 2 68 1 55 1 40 1-5 1-22 1-38 3-182 1-52 2-88 2-58 1-20 1-14 2-17 1-2 4-4 9-4 11-8" stroke="#3CB44B" stroke-opacity="0.45" stroke-width="0.8" vector-effect="non-scaling-stroke"/>
<path d="M0 139l8 0 3 6 3 0 7-6 14-15 5-8 2-1 3 7 2 10 3 11 1 6 1 15 2 51 1 31 2 75 4 173 1 31 1-4 1-27 1-46 3-173 2-104 1-44 1-34 2-48 1-12 1-8 1-5 2-5 19-15 2 0" stroke="#E6C300" stroke-opacity="0.45" stroke-width="0.8" vector-effect="non-scaling-stroke"/>
<path d="M0 101l4 0 4 7 10-6 16-13 5 0 2 2 4 13 3 18 3 15 1 10 1 19 2 48 1 29 2 65 5 191 1 18 1-11 1-26 2-94 3-159 2-88 1-36 1-26 1-23 1-17 2-16 1-5 2-4 18-10" stroke="#E6C300" stroke-opacity="0.45" stroke-width="0.8" vector-effect="non-scaling-stroke"/>
<path d="M0 92l5 2 8-5 15-3 6-3 5 4 3 14 2 15 1 10 2 26 2 36 3 61 2 50 3 90 2 94 1 12 1-15 1-25 3-173 3-141 1-36 1-27 1-22 1-16 1-11 1-8 1-5 16-9 9-7" stroke="#3CB44B" stroke-opacity="0.45" stroke-width="0.8" vector-effect="non-scaling-stroke"/>
<path d="M0 120l15 0 4 4 21-17 2 1 1 4 1 7 1 14 4 78 1 26 2 72 4 200 1 10 1-21 1-33 4-218 3-150 1-31 1-22 1-15 1-7 3-6 10-4 12-10 5-2" stroke="#E6194B" stroke-opacity="0.45" stroke-width="0.8" vector-effect="non-scaling-stroke"/>
<path d="M0 95l6 0 30-18 2 2 4 10 4 18 3 11 1 8 1 15 3 60 2 50 6 181 1 17 1-7 1-22 2-83 3-142 2-79 1-31 1-23 1-19 1-13 1-8 2-9 4-4 17-9" stroke="#E6C300" stroke-opacity="0.45" stroke-width="0.8" vector-effect="non-scaling-stroke"/>
<path d="M0 113l2 0 2 4 2 1 15-10 14-4 1 1 2 6 1 5 1 9 1 13 1 17 4 68 2 46 2 62 3 122 2 93 1 28 1-5 1-27 1-40 4-236 3-162 1-33 1-23 1-17 1-9 2-5 11-5 15-12 2 0" stroke="#4363D8" stroke-opacity="0.45" stroke-width="0.8" vector-effect="non-scaling-stroke"/>
<path d="M0 84l3 0 4 4 2 0 13-8 13-2 2 4 2 10 1 10 1 14 2 36 2 31 2 41 2 57 3 116 2 88 1 30 1-2 1-22 1-31 4-203 3-142 1-38 2-42 1-12 2-8 3-3 6-1 20-11" stroke="#4363D8" stroke-opacity="0.45" stroke-width="0.8" vector-effect="non-scaling-stroke"/>
<path d="M0 100l4 4 3 0 14-8 14-4 2 2 2 6 1 5 2 21 2 30 3 40 2 39 2 53 3 101 2 77 1 26 1-1 1-20 1-28 4-190 3-134 1-38 1-24 1-18 1-13 1-6 3-6 10-3 15-9" stroke="#911EB4" stroke-opacity="0.45" stroke-width="0.8" vector-effect="non-scaling-stroke"/>
<path d="M0 126l15-8 17-5 2 3 2 6 1 6 2 20 2 29 3 37 1 15 2 39 2 50 4 131 2 76 1 23 1-3 1-24 1-35 4-220 3-153 1-37 1-23 1-18 1-11 3-7 13-6 14-11" stroke="#F032E6" stroke-opacity="0.45" stroke-width="0.8" vector-effect="non-scaling-stroke"/>
<path d="M0 63l10 2 7-4 18-3 2 2 3 7 2 12 3 26 2 27 1 18 4 91 3 86 2 70 2 101 1-1 1-20 1-35 3-181 1-52 2-87 1-33 1-25 1-19 1-13 2-17 1-2 25-13" stroke="#3CB44B" stroke-opacity="0.45" stroke-width="0.8" vector-effect="non-scaling-stroke"/>
<path d="M0 68l8 2 7-4 21-3 4 6 1 3 2 11 3 24 2 24 2 36 3 61 3 74 2 60 1 35 1 52 1 36 1-8 1-21 1-40 1-64 2-109 2-91 1-39 1-30 1-23 1-18 2-21 1-6 1-2 23-12" stroke="#3CB44B" stroke-opacity="0.45" stroke-width="0.8" vector-effect="non-scaling-stroke"/>
<path d="M0 97l7-2 21-14 8-3 2 2 3 7 8 34 1 7 1 14 3 59 3 77 5 154 1 25 1 8 1-16 1-27 4-187 3-122 2-52 1-19 1-13 1-7 2-9 4-4 16-8" stroke="#E6C300" stroke-opacity="0.45" stroke-width="0.8" vector-effect="non-scaling-stroke"/>
<path d="M0 94l4 0 4 3 8-5 21-6 3 3 1 3 2 12 2 16 2 24 2 36 3 67 2 53 2 63 2 83 1 57 1 8 1-18 1-31 3-186 1-55 2-91 1-34 1-26 1-21 1-14 2-17 1-2 25-16" stroke="#3CB44B" stroke-opacity="0.45" stroke-width="0.8" vector-effect="non-scaling-stroke"/>
<path d="M0 96l11-5 19-3 2 3 2 6 1 5 2 17 2 27 4 47 1 14 2 35 2 44 1 27 4 118 2 66 1 19 1-2 1-20 1-29 5-240 3-132 1-28 1-20 1-15 1-9 1-3 4-5 6-1 18-10" stroke="#4363D8" stroke-opacity="0.45" stroke-width="0.8" vector-effect="non-scaling-stroke"/>
<path d="M0 84l16-8 15-3 3 3 2 7 1 7 2 24 2 36 3 46 2 41 2 55 1 34 3 112 2 83 1 23 1-6 1-24 1-34 4-209 3-146 1-41 2-45 1-14 1-7 4-6 11-3 15-9" stroke="#911EB4" stroke-opacity="0.45" stroke-width="0.8" vector-effect="non-scaling-stroke"/>
<path d="M0 99l15-8 13-3 4 0 4 10 1 8 2 22 5 68 2 35 2 46 1 29 6 201 1 11 1-12 1-25 1-36 4-197 3-136 1-36 1-22 1-17 1-13 1-5 4-6 6-1 19-11" stroke="#911EB4" stroke-opacity="0.45" stroke-width="0.8" vector-effect="non-scaling-stroke"/>
<path d="M0 126l3 3 3-1 7-5 20-9 3 2 2 5 2 16 1 12 1 15 3 36 2 33 2 47 1 30 3 99 2 74 1 14 1-12 1-26 1-39 3-152 4-181 1-26 1-19 1-14 1-6 1-3 3-3 13-6 13-10" stroke="#4363D8" stroke-opacity="0.45" stroke-width="0.8" vector-effect="non-scaling-stroke"/>
<path d="M0 105l5 1 12-8 16-4 2 2 2 7 1 6 2 23 2 34 2 29 2 35 1 23 2 56 6 230 1 11 1-17 1-29 2-100 3-167 3-147 1-28 1-20 1-15 1-6 1-3 3-4 11-4 15-10" stroke="#911EB4" stroke-opacity="0.45" stroke-width="0.8" vector-effect="non-scaling-stroke"/>
<path d="M0 122l7-3 23-16 6-2 5 7 7 21 1 6 1 13 3 52 3 70 6 170 1 17 1-3 1-20 1-33 4-183 2-80 1-34 1-25 1-22 1-17 2-17 2-8 20-14" stroke="#E6C300" stroke-opacity="0.45" stroke-width="0.8" vector-effect="non-scaling-stroke"/>
<path d="M0 104l15-8 17-4 3 5 1 3 1 6 2 18 2 29 3 36 1 14 2 37 2 47 1 30 3 94 2 72 1 23 1 1 1-19 1-27 2-89 2-100 4-176 1-30 2-35 1-9 1-4 3-4 10-3 15-9" stroke="#911EB4" stroke-opacity="0.45" stroke-width="0.8" vector-effect="non-scaling-stroke"/>
<path d="M0 80l17-8 15-2 3 5 2 8 1 8 2 24 2 31 3 40 2 36 2 46 1 29 6 199 1 15 1-11 1-27 1-40 3-159 4-191 1-26 1-20 1-14 1-6 4-6 11-3 14-8" stroke="#4363D8" stroke-opacity="0.45" stroke-width="0.8" vector-effect="non-scaling-stroke"/>
<path d="M0 108l14 0 4 4 10-8 12-5 2 6 1 7 1 14 4 78 2 57 2 85 3 156 1 23 1-14 1-27 1-42 3-159 4-191 1-28 2-36 1-7 3-6 11-4 16-11" stroke="#911EB4" stroke-opacity="0.45" stroke-width="0.8" vector-effect="non-scaling-stroke"/>
<path d="M0 94l8 2 5-4 23-7 5 5 3 16 2 17 2 24 2 36 3 62 3 77 2 64 1 42 1 53 1 13 1-15 1-28 3-177 1-53 2-89 1-34 1-26 1-21 1-15 2-17 1-3 3-3 14-7 7-6" stroke="#BFEF45" stroke-opacity="0.45" stroke-width="0.8" vector-effect="non-scaling-stroke"/>
<path d="M0 74l10-4 23-4 4 4 3 14 2 14 3 32 1 15 4 73 3 68 2 54 1 31 2 83 1-1 1-19 1-34 3-166 1-47 2-79 2-51 1-17 1-12 1-8 1-5 3-4 24-11" stroke="#469990" stroke-opacity="0.45" stroke-width="0.8" vector-effect="non-scaling-stroke"/>
<path d="M0 73l11-5 23-3 3 3 1 3 4 24 2 18 2 24 4 73 2 42 3 74 2 59 1 39 1 50 1 20 1-13 1-23 4-224 3-128 1-28 1-22 1-17 2-20 2-6 17-8 7-5" stroke="#3CB44B" stroke-opacity="0.45" stroke-width="0.8" vector-effect="non-scaling-stroke"/>
<path d="M0 91l11-5 22-4 3 3 1 3 3 16 1 7 2 19 2 26 5 93 2 46 3 83 1 32 2 91 1 1 1-18 1-30 3-175 1-52 2-88 1-36 1-26 1-22 1-16 2-18 1-5 26-16" stroke="#469990" stroke-opacity="0.45" stroke-width="0.8" vector-effect="non-scaling-stroke"/>
<path d="M0 94l10-5 14-10 11-5 2 2 2 5 2 7 3 16 3 12 2 14 1 16 2 40 3 74 6 186 1 22 1 0 1-23 1-41 4-211 2-87 2-54 1-18 2-17 2-6 14-9 8-2" stroke="#E6C300" stroke-opacity="0.45" stroke-width="0.8" vector-effect="non-scaling-stroke"/>
<path d="M0 77l10-5 22-4 4 5 3 15 2 15 3 34 5 90 3 70 2 56 1 32 1 48 1 35 1-5 1-19 1-35 3-164 1-47 2-80 1-31 1-23 1-19 1-12 1-10 1-6 1-3 27-14" stroke="#469990" stroke-opacity="0.45" stroke-width="0.8" vector-effect="non-scaling-stroke"/>
<path d="M0 116l27-9 4-3 7 0 2 5 2 8 1 6 3 27 1 14 5 87 2 46 2 53 1 30 2 88 1 14 1-15 1-26 4-227 2-87 1-33 1-25 1-20 1-13 1-10 1-6 1-3 25-17" stroke="#3CB44B" stroke-opacity="0.45" stroke-width="0.8" vector-effect="non-scaling-stroke"/>
<path d="M0 89l10 0 4 2 7-5 17-4 4 5 1 4 2 14 2 21 2 32 4 100 2 62 2 75 1 45 1 68 1 24 1-16 1-28 4-246 2-96 1-39 1-28 1-23 1-17 2-19 1-4 25-16" stroke="#3CB44B" stroke-opacity="0.45" stroke-width="0.8" vector-effect="non-scaling-stroke"/>
</g>
<rect x="30.1" y="477.7" width="305.4" height="163.5" fill="none" stroke="#555" stroke-width="1"/>
<line x1="41.5" y1="641.2" x2="41.5" y2="645.5" stroke="#555" stroke-width="1"/>
<text x="41.5" y="655.6" text-anchor="middle" class="t">70</text>
<line x1="98.05" y1="641.2" x2="98.05" y2="645.5" stroke="#555" stroke-width="1"/>
<text x="98.05" y="655.6" text-anchor="middle" class="t">75</text>
<line x1="154.6" y1="641.2" x2="154.6" y2="645.5" stroke="#555" stroke-width="1"/>
<text x="154.6" y="655.6" text-anchor="middle" class="t">80</text>
<line x1="211.15" y1="641.2" x2="211.15" y2="645.5" stroke="#555" stroke-width="1"/>
<text x="211.15" y="655.6" text-anchor="middle" class="t">85</text>
<line x1="267.7" y1="641.2" x2="267.7" y2="645.5" stroke="#555" stroke-width="1"/>
<text x="267.7" y="655.6" text-anchor="middle" class="t">90</text>
<line x1="324.25" y1="641.2" x2="324.25" y2="645.5" stroke="#555" stroke-width="1"/>
<text x="324.25" y="655.6" text-anchor="middle" class="t">95</text>
<line x1="30.1" y1="635" x2="25.8" y2="635" stroke="#555" stroke-width="1"/>
<text transform="translate(20.6,635) rotate(-90)" text-anchor="middle" class="t">0</text>
<line x1="30.1" y1="608.22" x2="25.8" y2="608.22" stroke="#555" stroke-width="1"/>
<text transform="translate(20.6,608.22) rotate(-90)" text-anchor="middle" class="t">500000</text>
<line x1="30.1" y1="581.44" x2="25.8" y2="581.44" stroke="#555" stroke-width="1"/>
<line x1="30.1" y1="554.66" x2="25.8" y2="554.66" stroke="#555" stroke-width="1"/>
<text transform="translate(20.6,554.66) rotate(-90)" text-anchor="middle" class="t">1500000</text>
<line x1="30.1" y1="527.88" x2="25.8" y2="527.88" stroke="#555" stroke-width="1"/>
<line x1="30.1" y1="501.1" x2="25.8" y2="501.1" stroke="#555" stroke-width="1"/>
<text transform="translate(20.6,501.1) rotate(-90)" text-anchor="middle" class="t">2500000</text>
<text x="182.8" y="664.6" text-anchor="middle" class="t">Temperature (°C)</text>
<text x="182.8" y="464.6" text-anchor="middle" class="ti">wzi−3 Applied Biosystem QuantStudio 6 Flex</text>
<text transform="translate(5.5,559.45) rotate(-90)" text-anchor="middle" class="t">Florescence (dF/dT)</text>
<g transform="translate(388.5,635.4) scale(2.8300,-0.2500)" fill="none" stroke-linejoin="round">
<path d="M0 111l2 3 4 1 5-6 22-15 5 3 2 5 2 14 1 9 1 13 2 36 3 63 2 51 1 33 2 91 1 32 2 52 1 8 1-11 1-24 1-27 1-36 2-93 4-217 1-40 1-20 1-14 1-6 4-4 24-8" stroke="#DCBEFF" stroke-opacity="0.45" stroke-width="0.8" vector-effect="non-scaling-stroke"/>
<path d="M0 66l5 4 4 0 11-7 14-5 1 1 2 10 1 12 1 19 2 47 2 56 3 104 2 92 1 38 2 66 1 15 1-9 1-23 1-43 3-180 3-157 1-44 1-32 1-13 1-6 2-2 17-2 16-7" stroke="#3CB44B" stroke-opacity="0.45" stroke-width="0.8" vector-effect="non-scaling-stroke"/>
<path d="M0 99l2 0 2 4 3 2 21-17 9-2 3 5 2 10 2 18 1 14 3 58 2 44 2 56 2 88 1 33 1 29 1 22 1 7 1-13 2-53 1-39 2-95 2-113 2-97 1-23 1-15 1-7 2-3 17-5 10-5" stroke="#E6C300" stroke-opacity="0.45" stroke-width="0.8" vector-effect="non-scaling-stroke"/>
<path d="M0 74l7 2 13-6 16-3 4 3 3 12 2 19 2 30 1 20 1 24 3 88 3 109 2 46 1 18 1 11 1-1 1-24 2-63 2-78 1-49 3-169 1-30 1-18 3-4 9-2 14-9 3 0" stroke="#E6194B" stroke-opacity="0.45" stroke-width="0.8" vector-effect="non-scaling-stroke"/>
<path d="M0 105l5 0 6 6 10-10 14-10 5 2 1 2 1 5 2 17 1 13 4 81 2 53 1 35 2 92 2 58 1 13 1-10 2-55 2-91 4-225 1-35 1-19 1-10 1-3 2-2 13-4 15-8" stroke="#4363D8" stroke-opacity="0.45" stroke-width="0.8" vector-effect="non-scaling-stroke"/>
<path d="M0 97l3 4 3 0 8-7 18-11 4 0 3 3 2 7 3 24 1 13 5 92 2 49 3 114 1 27 1 25 1 17 1 1 1-20 1-28 1-39 2-103 3-179 1-40 1-19 1-11 1-3 2-2 11-3 16-8" stroke="#4363D8" stroke-opacity="0.45" stroke-width="0.8" vector-effect="non-scaling-stroke"/>
<path d="M0 84l27-12 4 0 3 12 1 11 3 52 3 64 3 79 4 138 2 54 1 22 1 9 1-8 1-21 1-39 3-168 4-195 1-35 1-23 1-8 1-4 1-1 19-3 14-7" stroke="#3CB44B" stroke-opacity="0.45" stroke-width="0.8" vector-effect="non-scaling-stroke"/>
<path d="M0 111l4 5 2 0 9-9 16-11 3 0 3 3 2 8 2 16 1 13 2 36 3 64 2 54 3 127 2 55 1 13 1-10 2-59 2-98 4-239 1-35 1-18 1-9 2-4 17-6 11-7 3 0" stroke="#E6C300" stroke-opacity="0.45" stroke-width="0.8" vector-effect="non-scaling-stroke"/>
<path d="M0 85l5 0 3 5 3 1 5-6 9-7 10-5 4 6 1 3 1 6 1 9 2 24 2 42 3 75 2 66 2 102 2 69 1 20 1-4 2-56 1-44 2-112 3-193 1-40 1-20 1-11 1-3 2-2 29-10" stroke="#E6C300" stroke-opacity="0.45" stroke-width="0.8" vector-effect="non-scaling-stroke"/>
<path d="M0 75l5 2 5-4 20-9 4 1 2 8 1 9 1 16 3 66 2 54 3 99 3 123 2 63 1 20 1-1 1-17 1-35 1-49 3-180 3-153 1-38 1-26 1-9 1-4 1-1 20-3 13-7" stroke="#3CB44B" stroke-opacity="0.45" stroke-width="0.8" vector-effect="non-scaling-stroke"/>
<path d="M0 68l2 2 5 0 11-5 18-3 4 4 3 13 1 9 2 26 2 36 4 109 2 72 1 30 2 40 1 14 1 7 1-9 2-54 2-65 2-86 3-152 1-26 1-16 3-4 11-2 15-8" stroke="#FABEBE" stroke-opacity="0.45" stroke-width="0.8" vector-effect="non-scaling-stroke"/>
<path d="M0 56l14-7 17-4 2 6 1 6 1 10 1 16 2 38 2 44 4 110 3 109 2 58 1 24 1 13 1-5 1-19 1-37 3-164 3-146 1-43 1-33 1-15 1-7 3-3 20-2 13-5" stroke="#3CB44B" stroke-opacity="0.45" stroke-width="0.8" vector-effect="non-scaling-stroke"/>
<path d="M0 120l4 4 2-1 5-6 15-12 6-3 5 2 1 2 2 10 1 7 2 23 2 37 3 63 2 54 3 125 2 56 1 15 1-6 1-23 1-29 1-39 2-101 2-123 2-107 1-27 1-16 1-8 3-4 11-3 17-10" stroke="#E6C300" stroke-opacity="0.45" stroke-width="0.8" vector-effect="non-scaling-stroke"/>
<path d="M0 85l5 4 3 0 5-4 21-10 1 1 2 7 1 9 1 16 2 40 2 47 3 89 3 116 2 60 1 16 1-4 1-20 1-40 3-169 3-150 1-40 1-28 1-9 1-4 1-1 17-3 14-8 3 0" stroke="#3CB44B" stroke-opacity="0.45" stroke-width="0.8" vector-effect="non-scaling-stroke"/>
<path d="M0 44l7 1 12-5 15-1 5 7 2 8 2 12 2 21 2 32 1 20 2 52 2 61 3 109 1 30 2 40 1 14 1 6 1-11 3-92 2-78 4-213 1-28 1-17 3-4 13-2 12-6" stroke="#FABEBE" stroke-opacity="0.45" stroke-width="0.8" vector-effect="non-scaling-stroke"/>
<path d="M0 90l5 4 3 0 13-7 13-4 6 0 2 5 2 10 1 10 1 14 2 36 1 24 2 62 2 71 2 87 1 35 2 46 1 15 1 5 1-20 3-105 2-92 3-186 1-45 1-28 1-11 3-3 14-5 11-8" stroke="#E6194B" stroke-opacity="0.45" stroke-width="0.8" vector-effect="non-scaling-stroke"/>
<path d="M0 105l22-11 8-2 2 4 2 12 1 13 3 51 3 64 3 78 4 135 2 53 1 20 1 9 1-8 1-20 1-38 1-48 2-118 4-196 1-39 1-31 1-12 1-6 2-2 20-4 12-7" stroke="#3CB44B" stroke-opacity="0.45" stroke-width="0.8" vector-effect="non-scaling-stroke"/>
<path d="M0 112l6 0 2 4 4 2 17-17 7-4 3 1 2 6 2 17 1 13 1 18 3 65 2 55 2 91 2 71 1 23 1 3 1-17 2-58 2-92 4-216 1-32 1-17 1-10 1-3 3-3 14-4 14-8" stroke="#E6C300" stroke-opacity="0.45" stroke-width="0.8" vector-effect="non-scaling-stroke"/>
<path d="M0 81l4 4 4 0 12-6 18-4 3 3 3 12 2 21 1 15 2 38 3 89 2 71 2 82 1 29 2 43 1 12 1 1 1-26 2-71 2-88 4-242 1-32 1-16 3-4 11-3 12-9 2 0" stroke="#E6194B" stroke-opacity="0.45" stroke-width="0.8" vector-effect="non-scaling-stroke"/>
<path d="M0 87l10 4 13-7 16-4 2 2 2 8 1 6 1 11 1 15 2 39 2 60 2 71 3 127 2 48 1 17 1 4 1-20 3-104 2-91 3-184 1-40 1-26 1-7 3-4 10-2 13-10 3 0" stroke="#E6194B" stroke-opacity="0.45" stroke-width="0.8" vector-effect="non-scaling-stroke"/>
<path d="M0 98l3 1 27-15 4 0 2 7 1 7 2 32 2 41 3 77 2 62 3 119 2 63 1 26 1 13 1-8 1-22 1-42 3-180 3-159 1-47 1-35 1-16 1-7 2-3 20-4 12-8" stroke="#3CB44B" stroke-opacity="0.45" stroke-width="0.8" vector-effect="non-scaling-stroke"/>
<path d="M0 83l3 0 3 5 3 1 8-8 17-10 4 3 3 9 2 15 1 10 1 14 1 18 3 65 3 81 3 130 2 57 1 14 1-9 2-57 1-43 2-107 3-182 1-41 1-20 1-12 3-6 27-9" stroke="#DCBEFF" stroke-opacity="0.45" stroke-width="0.8" vector-effect="non-scaling-stroke"/>
<path d="M0 102l5-5 22-13 5 0 3 3 1 2 2 9 2 15 1 10 1 14 5 89 2 45 1 29 2 79 2 56 1 23 1 15 1 1 1-19 2-60 2-94 4-223 1-33 1-18 1-11 2-4 29-11" stroke="#F58231" stroke-opacity="0.45" stroke-width="0.8" vector-effect="non-scaling-stroke"/>
<path d="M0 107l6 0 2 4 3 2 9-9 13-10 6-2 2 2 1 3 2 14 1 10 1 15 3 59 2 47 1 28 2 88 2 64 1 22 1 3 1-16 2-58 2-90 4-212 1-29 1-17 1-9 3-4 16-5 11-6" stroke="#E6C300" stroke-opacity="0.45" stroke-width="0.8" vector-effect="non-scaling-stroke"/>
<path d="M0 101l3 1 7-7 20-12 4 0 2 2 3 9 3 24 1 14 2 34 3 58 2 48 1 31 2 83 1 29 1 27 1 21 1 10 1-9 1-23 1-28 1-37 2-95 2-113 2-101 1-27 1-16 1-9 3-4 27-9" stroke="#DCBEFF" stroke-opacity="0.45" stroke-width="0.8" vector-effect="non-scaling-stroke"/>
<path d="M0 60l3 3 3 0 9-6 18-6 1 1 2 9 1 10 1 17 3 67 1 27 3 92 3 124 2 67 1 27 1 12 1-10 1-22 1-41 3-170 3-149 1-44 1-34 1-16 1-7 1-2 21-3 13-6" stroke="#3CB44B" stroke-opacity="0.45" stroke-width="0.8" vector-effect="non-scaling-stroke"/>
<path d="M0 100l5 1 12-6 24-8 2 5 2 10 1 9 2 27 1 16 1 21 2 52 2 60 3 109 1 25 2 38 1 13 1 2 1-21 3-103 2-91 3-181 1-35 1-23 2-6 14-5 11-9" stroke="#E6194B" stroke-opacity="0.45" stroke-width="0.8" vector-effect="non-scaling-stroke"/>
<path d="M0 67l7 0 4 4 4 0 12-6 13-1 4 6 2 9 1 7 1 12 2 35 1 23 1 29 3 106 2 90 1 34 2 46 1 12 1-6 3-103 2-91 3-188 1-41 1-25 1-6 3-3 10-2 11-8 3 0" stroke="#E6194B" stroke-opacity="0.45" stroke-width="0.8" vector-effect="non-scaling-stroke"/>
<path d="M0 113l9 0 4 6 3 0 3-5 18-16 5 2 1 2 1 5 2 18 1 13 2 45 3 80 2 74 2 111 2 71 1 14 1-13 2-61 1-47 2-113 3-194 1-47 1-23 1-14 1-5 4-4 11-3 13-7" stroke="#DCBEFF" stroke-opacity="0.45" stroke-width="0.8" vector-effect="non-scaling-stroke"/>
<path d="M0 105l2 0 3 5 2 1 20-18 7-3 3 2 2 5 1 5 1 8 2 22 2 39 3 70 2 58 2 95 2 73 1 26 1 11 1-14 2-66 2-106 4-250 1-29 1-17 1-6 4-5 11-3 14-8 3 0" stroke="#E6C300" stroke-opacity="0.45" stroke-width="0.8" vector-effect="non-scaling-stroke"/>
<path d="M0 105l3 3 4 0 19-12 9-3 2 6 1 7 1 14 3 58 2 49 2 57 1 33 2 80 3 93 1 18 1 0 1-18 1-34 1-48 3-177 3-149 1-36 1-22 1-7 2-4 19-4 13-9" stroke="#3CB44B" stroke-opacity="0.45" stroke-width="0.8" vector-effect="non-scaling-stroke"/>
<path d="M0 77l4 4 4 0 12-6 17-3 3 4 1 3 2 10 1 9 1 14 2 34 1 23 1 28 3 101 3 122 2 47 1 17 1 7 1-11 2-57 2-66 2-82 3-165 1-47 1-27 1-18 1-4 2-2 13-3 12-7" stroke="#E6194B" stroke-opacity="0.45" stroke-width="0.8" vector-effect="non-scaling-stroke"/>
<path d="M0 80l4 4 4 0 12-6 18-4 3 2 2 6 2 11 1 11 2 30 2 42 4 126 2 82 1 34 2 44 1 15 1 7 1-14 3-98 2-84 4-226 1-29 1-17 3-4 15-5 9-7" stroke="#E6194B" stroke-opacity="0.45" stroke-width="0.8" vector-effect="non-scaling-stroke"/>
<path d="M0 106l2 0 4 6 2 0 8-9 12-10 7-2 2 2 2 5 2 12 2 22 1 16 3 68 2 51 2 67 2 103 1 37 1 32 1 23 1 4 1-19 2-65 3-162 3-189 1-43 1-22 1-13 1-4 3-4 14-4 13-7" stroke="#4363D8" stroke-opacity="0.45" stroke-width="0.8" vector-effect="non-scaling-stroke"/>
<path d="M0 75l2 0 5 6 2 0 6-6 12-8 9-2 4 8 1 6 2 16 1 11 1 15 4 80 2 51 1 32 2 87 1 30 1 27 1 17 1 0 1-18 1-25 1-32 2-89 4-208 1-32 1-17 1-10 1-3 2-2 15-3 12-5" stroke="#808080" stroke-opacity="0.45" stroke-width="0.8" vector-effect="non-scaling-stroke"/>
<path d="M0 102l3 0 5 6 20-16 6-3 4 0 2 2 1 3 2 13 2 23 4 74 2 48 1 33 2 82 2 52 1 13 1-6 2-47 1-36 2-89 2-108 2-92 1-20 1-14 1-5 2-3 11-3 17-8" stroke="#808080" stroke-opacity="0.45" stroke-width="0.8" vector-effect="non-scaling-stroke"/>
<path d="M0 89l2 0 4 6 3 0 5-6 13-10 8-2 2 2 2 6 1 5 2 19 1 12 2 40 3 72 2 60 1 41 2 98 2 63 1 14 1-10 2-62 2-103 4-253 1-36 1-20 1-10 4-5 28-10" stroke="#E6C300" stroke-opacity="0.45" stroke-width="0.8" vector-effect="non-scaling-stroke"/>
<path d="M0 82l10 4 23-13 3 0 1 3 1 6 1 10 1 18 2 46 2 54 3 102 2 91 2 73 1 30 1 12 1-11 1-24 1-43 3-177 3-154 1-44 1-32 1-14 1-6 1-2 18-3 10-4 5-4" stroke="#3CB44B" stroke-opacity="0.45" stroke-width="0.8" vector-effect="non-scaling-stroke"/>
<path d="M0 85l30-14 2 0 1 2 2 9 1 11 2 35 2 40 2 49 3 87 3 113 1 30 2 55 1 14 1-6 1-19 1-37 1-48 2-121 4-199 1-37 1-25 1-8 1-4 1-1 18-3 15-7" stroke="#3CB44B" stroke-opacity="0.45" stroke-width="0.8" vector-effect="non-scaling-stroke"/>
<path d="M0 90l6 0 4 4 2 0 7-6 17-9 1 1 2 12 1 17 2 50 1 28 2 67 2 80 2 102 2 78 1 26 1 0 1-21 1-41 4-252 3-160 1-35 1-12 1-6 1-1 19-4 12-8 3 0" stroke="#3CB44B" stroke-opacity="0.45" stroke-width="0.8" vector-effect="non-scaling-stroke"/>
<path d="M0 81l7 4 7-5 20-9 2 3 1 5 1 8 1 16 1 21 2 45 1 27 3 93 3 124 2 66 1 24 1 5 1-15 1-30 1-46 3-177 3-151 1-39 1-26 1-8 1-4 1-1 17-3 16-8" stroke="#3CB44B" stroke-opacity="0.45" stroke-width="0.8" vector-effect="non-scaling-stroke"/>
<path d="M0 77l7 2 15-7 15-2 4 5 3 15 1 9 1 13 2 34 1 21 1 27 3 96 3 118 1 28 2 42 1 13 1 2 1-24 2-72 2-88 4-245 1-32 1-17 3-4 10-2 12-9 3 0" stroke="#E6194B" stroke-opacity="0.45" stroke-width="0.8" vector-effect="non-scaling-stroke"/>
<path d="M0 87l13-5 20-3 4 3 2 5 2 8 1 7 2 21 2 27 1 17 2 44 3 78 4 125 1 21 2 35 1 13 1 8 1-3 1-23 3-96 2-82 4-219 1-29 1-20 1-4 3-3 10-2 12-7" stroke="#E6194B" stroke-opacity="0.45" stroke-width="0.8" vector-effect="non-scaling-stroke"/>
<path d="M0 109l7 6 17-15 11-6 4 3 2 8 2 15 1 12 2 35 3 61 2 52 1 36 2 87 2 57 1 17 1-2 1-22 1-28 1-37 2-99 2-120 2-105 1-25 1-16 1-7 3-4 14-4 13-7" stroke="#E6C300" stroke-opacity="0.45" stroke-width="0.8" vector-effect="non-scaling-stroke"/>
<path d="M0 71l6 0 6 4 15-7 13-2 3 4 1 3 2 10 1 10 1 15 2 37 2 57 2 68 3 121 2 47 1 15 1 2 1-24 2-66 1-39 2-98 2-122 1-51 1-28 1-13 2-3 9-2 14-9 3 0" stroke="#E6194B" stroke-opacity="0.45" stroke-width="0.8" vector-effect="non-scaling-stroke"/>
<path d="M0 98l17-7 14-4 7 0 2 2 2 6 1 5 1 7 2 24 2 32 1 21 2 52 2 59 3 108 1 29 2 41 1 17 1 10 1-1 1-23 3-97 2-83 4-223 1-31 1-21 1-5 3-3 9-2 13-8" stroke="#E6194B" stroke-opacity="0.45" stroke-width="0.8" vector-effect="non-scaling-stroke"/>
<path d="M0 74l3 0 4 5 3 0 7-7 16-9 4 2 3 8 2 15 2 23 2 37 2 42 2 49 1 32 2 87 2 57 1 17 1-2 1-18 2-54 3-128 3-150 1-35 1-18 1-11 2-6 3-2 13-2 13-5" stroke="#E6C300" stroke-opacity="0.45" stroke-width="0.8" vector-effect="non-scaling-stroke"/>
<path d="M0 102l2 0 2 4 4 2 17-15 9-5 4 2 2 4 1 5 1 7 2 20 2 35 2 42 2 47 1 28 1 34 2 93 2 61 1 20 1 2 1-18 2-61 2-95 4-227 1-38 1-19 1-12 3-6 27-10" stroke="#4363D8" stroke-opacity="0.45" stroke-width="0.8" vector-effect="non-scaling-stroke"/>
<path d="M0 89l6-4 25-10 2 4 1 4 1 7 1 12 2 36 3 63 2 52 2 60 2 76 2 62 1 28 1 22 1 10 1-10 1-23 1-42 3-173 3-151 1-44 1-33 1-15 1-6 2-3 18-3 15-8" stroke="#3CB44B" stroke-opacity="0.45" stroke-width="0.8" vector-effect="non-scaling-stroke"/>
<path d="M0 70l5 4 3 0 5-4 18-8 4 0 2 8 1 9 1 16 2 44 2 51 3 95 3 128 2 68 1 25 1 6 1-14 1-26 1-44 3-171 3-148 1-43 1-33 1-14 1-7 1-2 20-3 13-6" stroke="#3CB44B" stroke-opacity="0.45" stroke-width="0.8" vector-effect="non-scaling-stroke"/>
<path d="M0 105l5 6 2 0 18-16 8-4 4 2 2 5 1 6 2 17 1 14 4 79 2 49 1 31 2 90 2 61 1 20 1 4 1-16 2-55 3-138 3-164 1-42 1-20 1-14 1-5 3-3 14-4 14-7" stroke="#F58231" stroke-opacity="0.45" stroke-width="0.8" vector-effect="non-scaling-stroke"/>
<path d="M0 73l11 3 3-3 19-9 2 0 2 8 1 10 1 17 2 45 2 54 2 65 3 126 2 65 1 19 1-5 1-22 1-43 3-178 3-152 1-36 1-19 1-6 3-3 15-2 13-7 6 0" stroke="#3CB44B" stroke-opacity="0.45" stroke-width="0.8" vector-effect="non-scaling-stroke"/>
<path d="M0 81l3 0 5 4 15-7 18-4 3 6 2 10 1 9 1 13 2 33 1 23 2 57 2 65 2 80 1 33 2 43 1 15 1 5 1-16 3-95 2-82 3-169 1-47 1-27 1-14 4-5 10-2 12-8" stroke="#E6194B" stroke-opacity="0.45" stroke-width="0.8" vector-effect="non-scaling-stroke"/>
<path d="M0 84l29-13 2 0 1 2 2 9 1 9 1 15 3 57 2 46 3 83 3 109 3 84 1 15 1-1 1-17 1-32 1-45 3-168 3-143 1-38 1-28 1-11 1-5 3-2 20-3 12-7" stroke="#3CB44B" stroke-opacity="0.45" stroke-width="0.8" vector-effect="non-scaling-stroke"/>
<path d="M0 115l2 0 2 4 4 2 20-18 6-3 4 2 2 6 1 7 2 19 2 37 3 65 2 55 3 130 2 58 1 11 1-10 2-55 1-42 2-102 3-178 1-45 1-22 1-15 1-5 3-3 15-5 13-8" stroke="#E6C300" stroke-opacity="0.45" stroke-width="0.8" vector-effect="non-scaling-stroke"/>
<path d="M0 122l2 3 4 0 5-6 21-15 6 1 2 5 1 6 2 15 1 12 2 35 3 60 2 49 1 32 2 88 1 33 2 52 1 9 1-11 2-59 1-45 2-109 3-185 1-40 1-21 1-12 1-3 3-3 10-3 16-9" stroke="#4363D8" stroke-opacity="0.45" stroke-width="0.8" vector-effect="non-scaling-stroke"/>
<path d="M0 131l2 0 5 6 2 0 19-19 7-4 4 1 2 8 2 17 1 15 3 60 2 46 1 28 1 37 2 93 2 60 1 15 1-7 2-52 1-40 2-100 2-122 2-106 1-25 1-16 1-7 4-5 16-6 11-8" stroke="#F58231" stroke-opacity="0.45" stroke-width="0.8" vector-effect="non-scaling-stroke"/>
<path d="M0 126l3 5 3 1 8-9 13-11 6-3 5 3 2 10 2 17 1 15 2 39 3 68 2 58 2 95 1 38 2 58 1 12 1-12 1-28 1-34 1-47 2-115 3-194 1-40 1-21 1-12 3-5 12-4 17-10" stroke="#E6C300" stroke-opacity="0.45" stroke-width="0.8" vector-effect="non-scaling-stroke"/>
<path d="M0 112l13 0 4 6 12-14 9-8 4 2 1 5 2 19 1 16 3 76 2 65 1 45 1 62 1 47 1 38 1 21 1-9 2-65 2-108 3-199 1-53 1-25 1-14 1-4 3-3 10-3 15-9 4 0" stroke="#F58231" stroke-opacity="0.45" stroke-width="0.8" vector-effect="non-scaling-stroke"/>
<path d="M0 101l5 0 3 5 3 1 5-6 12-10 8-4 4 4 1 3 1 6 2 18 1 13 4 86 2 55 1 35 2 98 2 63 1 17 1-6 2-55 1-42 2-105 3-182 1-44 1-20 1-13 1-4 3-3 12-3 15-8" stroke="#4363D8" stroke-opacity="0.45" stroke-width="0.8" vector-effect="non-scaling-stroke"/>
<path d="M0 94l4 2 10-8 16-9 5 0 2 2 3 12 2 16 1 12 5 85 2 45 3 104 2 45 1 12 1-4 2-44 1-34 2-85 2-103 2-89 1-21 1-13 1-6 3-3 16-4 12-6" stroke="#F58231" stroke-opacity="0.45" stroke-width="0.8" vector-effect="non-scaling-stroke"/>
<path d="M0 102l3 4 2 0 9-8 17-11 5 0 2 2 1 2 2 10 2 15 1 12 2 34 3 59 1 22 2 56 2 85 1 31 1 28 1 22 1 9 1-10 2-52 1-39 2-96 2-116 2-99 1-24 1-16 1-7 2-3 27-10" stroke="#4363D8" stroke-opacity="0.45" stroke-width="0.8" vector-effect="non-scaling-stroke"/>
<path d="M0 96l4 3 23-17 7-2 2 1 3 5 2 11 2 17 1 12 2 34 3 58 2 48 1 30 2 83 1 31 2 49 1 10 1-8 1-22 1-27 1-35 2-91 4-209 1-32 1-17 1-11 3-6 26-8" stroke="#F58231" stroke-opacity="0.45" stroke-width="0.8" vector-effect="non-scaling-stroke"/>
<path d="M0 124l6 7 22-20 6-3 5 1 1 2 2 10 2 18 1 15 4 82 1 24 2 58 2 94 1 37 2 58 1 12 1-10 2-60 1-45 2-112 3-191 1-45 1-22 1-13 2-6 13-5 15-9" stroke="#4363D8" stroke-opacity="0.45" stroke-width="0.8" vector-effect="non-scaling-stroke"/>
<path d="M0 110l3 4 3 0 4-5 22-15 5 3 1 2 2 10 2 17 1 14 3 56 2 42 2 54 2 86 1 33 1 28 1 22 1 9 1-12 2-60 2-98 4-233 1-28 1-16 1-7 3-4 13-4 16-8" stroke="#E6C300" stroke-opacity="0.45" stroke-width="0.8" vector-effect="non-scaling-stroke"/>
<path d="M0 97l20-12 11-2 4 5 3 15 1 7 2 20 3 44 3 49 2 41 1 28 2 69 1 26 2 42 1 14 1 4 1-12 1-22 1-26 1-34 2-85 4-194 1-30 1-16 1-11 1-3 3-3 21-6 5-3" stroke="#808080" stroke-opacity="0.45" stroke-width="0.8" vector-effect="non-scaling-stroke"/>
<path d="M0 86l13-5 21-4 3 1 2 4 2 7 1 6 2 20 2 27 1 17 2 46 2 52 4 126 1 23 2 36 1 13 1 7 1-7 3-86 1-35 2-83 3-164 1-38 1-24 1-10 3-3 12-3 12-8" stroke="#E6194B" stroke-opacity="0.45" stroke-width="0.8" vector-effect="non-scaling-stroke"/>
<path d="M0 109l8 0 4 5 2 0 8-9 12-10 4-2 2 1 2 5 1 7 2 20 1 17 3 67 2 54 1 38 2 96 1 33 1 26 1 8 1-16 2-59 2-95 4-224 1-30 1-17 1-8 3-4 16-5 12-7" stroke="#F58231" stroke-opacity="0.45" stroke-width="0.8" vector-effect="non-scaling-stroke"/>
<path d="M0 115l3 0 19-16 8-4 5 1 2 3 1 3 1 6 2 15 2 25 5 97 2 51 3 120 1 28 1 26 1 19 1 4 1-16 2-57 1-42 2-100 2-119 2-99 1-22 1-15 1-7 2-3 16-5 12-6" stroke="#E6C300" stroke-opacity="0.45" stroke-width="0.8" vector-effect="non-scaling-stroke"/>
<path d="M0 67l3 0 3 3 5 0 10-5 16-3 3 2 2 4 1 3 2 10 2 23 2 35 1 23 3 92 1 34 2 81 1 31 2 42 1 14 1 1 1-22 3-97 2-86 3-170 1-38 1-23 1-8 3-3 11-2 13-8" stroke="#E6194B" stroke-opacity="0.45" stroke-width="0.8" vector-effect="non-scaling-stroke"/>
<path d="M0 79l4 2 15-7 16-3 4 4 2 7 2 13 2 27 2 38 1 25 3 97 3 121 1 34 2 45 1 16 1 6 1-16 3-108 2-94 3-192 1-44 1-27 1-8 2-3 9-2 15-10 3 0" stroke="#FABEBE" stroke-opacity="0.45" stroke-width="0.8" vector-effect="non-scaling-stroke"/>
<path d="M0 79l10 4 14-7 15-4 3 2 2 6 1 5 1 8 1 12 2 32 1 22 2 57 2 66 2 81 1 33 2 43 1 14 1 3 1-23 3-103 2-94 3-174 1-31 1-16 2-3 11-3 15-9" stroke="#E6194B" stroke-opacity="0.45" stroke-width="0.8" vector-effect="non-scaling-stroke"/>
<path d="M0 105l3 3 5 0 31-15 3 3 2 8 1 8 1 12 2 32 1 21 1 26 3 94 3 117 2 48 1 18 1 10 1-6 3-97 2-85 4-232 1-32 1-19 1-3 2-2 14-5 11-9" stroke="#FABEBE" stroke-opacity="0.45" stroke-width="0.8" vector-effect="non-scaling-stroke"/>
<path d="M0 99l2 0 4 5 3 0 5-6 15-11 5-2 5 4 2 10 2 17 1 14 4 79 2 49 1 30 2 89 2 62 1 22 1 5 1-16 2-56 1-42 2-100 3-166 1-38 1-19 1-11 1-4 3-3 12-3 15-7" stroke="#F58231" stroke-opacity="0.45" stroke-width="0.8" vector-effect="non-scaling-stroke"/>
<path d="M0 109l5 5 3 0 5-6 13-10 9-4 4 4 1 3 1 6 2 17 1 14 4 76 2 47 1 31 2 86 2 57 1 19 1 2 1-17 2-58 2-92 4-215 1-31 1-17 1-9 2-4 13-4 16-9" stroke="#F58231" stroke-opacity="0.45" stroke-width="0.8" vector-effect="non-scaling-stroke"/>
<path d="M0 72l11-6 20-7 2 2 2 9 1 10 2 34 2 40 2 48 3 85 3 112 3 85 1 16 1-3 1-19 1-39 3-178 3-157 1-44 1-33 1-11 1-5 2-2 16-2 14-7 3 0" stroke="#3CB44B" stroke-opacity="0.45" stroke-width="0.8" vector-effect="non-scaling-stroke"/>
<path d="M0 104l28-18 7 1 2 4 2 10 2 15 1 12 4 65 2 39 2 51 2 76 1 28 2 46 1 11 1-6 1-22 1-26 1-35 2-91 2-110 2-95 1-23 1-15 1-6 3-4 15-4 13-7" stroke="#F58231" stroke-opacity="0.45" stroke-width="0.8" vector-effect="non-scaling-stroke"/>
<path d="M0 75l9 4 12-6 16-4 4 2 2 4 2 8 2 17 1 14 2 35 2 53 2 65 3 118 1 33 2 44 1 15 1 6 1-18 2-64 2-77 1-46 3-179 1-45 1-28 1-11 3-4 10-2 13-8" stroke="#E6194B" stroke-opacity="0.45" stroke-width="0.8" vector-effect="non-scaling-stroke"/>
<path d="M0 118l3 4 3 0 19-16 10-5 3 1 2 5 1 5 2 15 1 12 3 52 2 39 2 49 3 117 1 27 1 26 1 16 1-1 1-20 1-26 1-35 2-95 4-218 1-28 1-17 1-8 3-4 13-4 14-8" stroke="#E6C300" stroke-opacity="0.45" stroke-width="0.8" vector-effect="non-scaling-stroke"/>
<path d="M0 114l3 0 3 5 3 1 19-17 9-5 3 1 2 5 1 6 2 17 1 14 1 17 4 83 2 56 2 90 1 35 2 53 1 8 1-13 2-60 2-98 4-234 1-33 1-18 1-10 4-5 11-3 14-8" stroke="#DCBEFF" stroke-opacity="0.45" stroke-width="0.8" vector-effect="non-scaling-stroke"/>
<path d="M0 62l9 0 3 4 3 0 15-9 8-1 1 4 1 7 1 12 1 21 2 50 1 30 3 107 2 94 1 37 1 35 1 21 1-5 1-19 1-38 3-164 3-144 1-42 1-31 1-14 1-6 3-3 18-2 13-6" stroke="#3CB44B" stroke-opacity="0.45" stroke-width="0.8" vector-effect="non-scaling-stroke"/>
<path d="M0 71l3 0 12-7 13-5 4 0 1 2 2 9 1 12 1 18 2 41 2 48 3 87 3 117 1 32 2 60 1 16 1-3 1-18 1-36 1-48 2-121 3-151 1-47 1-36 1-20 1-8 1-3 22-4 13-6" stroke="#3CB44B" stroke-opacity="0.45" stroke-width="0.8" vector-effect="non-scaling-stroke"/>
<path d="M0 83l5 4 3 0 14-7 17-3 3 6 2 10 1 10 1 14 2 35 1 24 4 133 2 87 1 35 2 47 1 16 1 4 1-21 3-112 2-101 3-192 1-35 1-20 1-3 2-2 9-2 14-10 3 0" stroke="#E6194B" stroke-opacity="0.45" stroke-width="0.8" vector-effect="non-scaling-stroke"/>
<path d="M0 107l2 0 2 4 4 3 6-7 19-14 5 2 2 4 1 5 2 17 1 12 1 17 3 65 2 50 1 30 1 37 2 98 2 64 1 19 1-1 1-21 1-28 1-36 2-99 4-236 1-40 1-19 1-13 1-4 3-4 14-4 12-6" stroke="#4363D8" stroke-opacity="0.45" stroke-width="0.8" vector-effect="non-scaling-stroke"/>
<path d="M0 94l6 3 13-7 18-5 3 2 3 12 2 21 2 34 1 22 2 59 2 69 3 126 2 52 1 20 1 13 1-3 1-29 2-72 2-90 4-249 1-34 1-20 3-5 9-2 15-11 2 0" stroke="#FABEBE" stroke-opacity="0.45" stroke-width="0.8" vector-effect="non-scaling-stroke"/>
<path d="M0 83l2 3 4 1 6-5 16-8 6-1 2 6 1 7 1 13 1 20 2 46 2 54 3 100 3 131 2 68 1 25 1 5 1-16 1-32 1-49 3-191 3-164 1-41 1-29 1-9 1-5 1-1 18-3 15-8" stroke="#3CB44B" stroke-opacity="0.45" stroke-width="0.8" vector-effect="non-scaling-stroke"/>
<path d="M0 69l4 3 12-7 18-6 1 2 2 11 1 13 1 19 2 44 2 51 3 92 3 122 2 65 1 26 1 10 1-11 1-27 1-45 3-183 3-157 1-41 1-27 1-9 1-4 18-3 16-7" stroke="#3CB44B" stroke-opacity="0.45" stroke-width="0.8" vector-effect="non-scaling-stroke"/>
<path d="M0 52l8 0 2 3 4 1 10-5 13-1 5 7 2 7 1 6 1 7 1 12 1 16 2 43 1 30 2 72 1 38 2 91 1 32 2 45 1 9 1-14 2-69 1-41 2-101 2-131 1-55 1-30 1-12 2-3 10-2 12-8 5 1" stroke="#FABEBE" stroke-opacity="0.45" stroke-width="0.8" vector-effect="non-scaling-stroke"/>
<path d="M0 99l5 0 7-7 12-8 8-3 5 4 2 8 2 15 1 10 1 14 4 74 3 70 3 116 2 53 1 17 1 2 1-17 2-56 3-140 3-164 1-38 1-19 1-12 2-6 3-2 16-4 10-5" stroke="#E6C300" stroke-opacity="0.45" stroke-width="0.8" vector-effect="non-scaling-stroke"/>
<path d="M0 129l5 7 3-1 4-6 16-15 7-3 2 1 3 7 2 14 2 23 1 19 3 72 2 54 2 68 2 109 1 44 2 67 1 16 1-10 2-75 2-125 4-305 1-39 1-22 1-10 5-6 15-6 10-7" stroke="#4363D8" stroke-opacity="0.45" stroke-width="0.8" vector-effect="non-scaling-stroke"/>
<path d="M0 51l4 3 17-8 13-3 1 1 2 9 1 9 1 15 4 87 3 84 4 148 2 60 1 21 1 3 1-16 1-33 1-48 3-174 3-146 1-33 1-15 1-6 2-2 19-2 13-5" stroke="#3CB44B" stroke-opacity="0.45" stroke-width="0.8" vector-effect="non-scaling-stroke"/>
<path d="M0 69l5 4 4 0 10-5 16-4 4 2 2 3 3 12 1 7 1 11 3 51 2 55 2 66 3 120 1 32 2 44 1 14 1 3 1-21 2-64 2-77 1-46 3-177 1-45 1-27 1-12 3-4 10-2 14-9" stroke="#E6194B" stroke-opacity="0.45" stroke-width="0.8" vector-effect="non-scaling-stroke"/>
<path d="M0 62l3 0 3 3 5 0 10-5 16-2 2 1 3 5 1 3 2 10 2 21 2 33 1 21 1 26 3 94 3 113 2 45 1 16 1 7 1-12 3-97 2-85 3-175 1-40 1-24 1-7 2-3 13-3 12-7" stroke="#E6194B" stroke-opacity="0.45" stroke-width="0.8" vector-effect="non-scaling-stroke"/>
<path d="M0 84l9 0 3 5 2 1 9-9 11-8 5 2 2 4 1 4 1 7 2 21 1 18 3 69 2 57 3 134 1 33 1 24 1 2 1-19 1-28 1-36 2-97 2-118 2-99 1-21 1-13 1-4 2-3 29-10" stroke="#E6C300" stroke-opacity="0.45" stroke-width="0.8" vector-effect="non-scaling-stroke"/>
<path d="M0 86l7 0 2 4 4 2 6-7 9-7 5-3 4 0 2 2 2 5 1 5 2 17 1 12 1 17 4 95 2 62 2 99 1 36 1 32 1 21 1-3 1-22 1-28 1-39 1-49 4-231 1-49 1-23 1-15 1-6 3-3 15-4 12-6" stroke="#F58231" stroke-opacity="0.45" stroke-width="0.8" vector-effect="non-scaling-stroke"/>
<path d="M0 111l2 0 5 6 19-17 7-4 5 2 1 2 1 5 2 15 1 11 2 36 3 64 2 55 3 127 2 55 1 11 1-12 2-57 2-94 4-230 1-38 1-19 1-11 1-3 3-3 11-3 17-9" stroke="#808080" stroke-opacity="0.45" stroke-width="0.8" vector-effect="non-scaling-stroke"/>
<path d="M0 106l31-15 3 3 2 9 1 11 2 30 3 54 3 70 3 94 2 54 2 43 1 6 1-11 1-23 1-38 3-155 3-135 1-39 1-30 1-13 1-6 1-2 19-4 14-8" stroke="#3CB44B" stroke-opacity="0.45" stroke-width="0.8" vector-effect="non-scaling-stroke"/>
<path d="M0 79l5 0 3 5 2 1 8-8 14-9 4 0 3 6 1 5 1 8 2 21 2 39 3 69 2 61 2 95 1 34 1 30 1 17 1-6 1-22 1-29 1-39 2-98 3-171 1-41 1-19 1-13 1-3 5-4 11-2 16-6" stroke="#E6C300" stroke-opacity="0.45" stroke-width="0.8" vector-effect="non-scaling-stroke"/>
<path d="M0 107l6 0 5 7 12-13 12-9 3 2 2 4 1 5 1 8 2 24 1 19 3 77 2 61 1 37 2 113 2 80 1 24 1-1 1-24 1-32 1-41 2-112 4-257 1-33 1-19 1-10 4-5 13-4 14-7" stroke="#E6C300" stroke-opacity="0.45" stroke-width="0.8" vector-effect="non-scaling-stroke"/>
<path d="M0 97l2 0 6 6 20-16 7-3 3 1 2 3 1 4 3 24 1 14 4 76 2 48 1 32 2 84 2 55 1 17 1-2 1-18 2-56 2-86 4-204 1-32 1-17 1-10 2-5 28-10" stroke="#E6C300" stroke-opacity="0.45" stroke-width="0.8" vector-effect="non-scaling-stroke"/>
<path d="M0 75l5 0 4 4 4 0 11-6 14-3 4 4 3 12 1 8 1 13 2 37 1 24 1 31 3 112 2 95 1 37 2 48 1 15 1-2 1-25 3-98 2-84 4-224 1-32 1-21 1-5 2-3 13-3 11-7" stroke="#E6194B" stroke-opacity="0.45" stroke-width="0.8" vector-effect="non-scaling-stroke"/>
<path d="M0 101l6 0 2 4 4 2 15-15 9-5 2 1 2 4 1 3 1 6 2 19 1 14 4 91 2 58 1 40 2 100 2 63 1 14 1-11 2-57 1-43 2-106 3-183 1-45 1-22 1-14 1-4 2-3 16-5 12-6" stroke="#808080" stroke-opacity="0.45" stroke-width="0.8" vector-effect="non-scaling-stroke"/>
<path d="M0 71l4 4 4 0 13-6 16-3 4 3 2 4 3 15 1 10 2 28 1 17 1 22 2 55 2 62 3 114 1 27 2 40 1 13 1 3 1-20 3-102 2-89 3-180 1-40 1-26 1-8 2-3 13-3 10-7" stroke="#E6194B" stroke-opacity="0.45" stroke-width="0.8" vector-effect="non-scaling-stroke"/>
<path d="M0 67l10 4 12-6 15-2 4 5 1 3 2 10 1 8 1 13 1 16 2 41 2 61 2 71 3 127 2 49 1 17 1 7 1-16 3-103 2-88 3-182 1-47 1-28 1-13 2-3 15-4 11-7" stroke="#E6194B" stroke-opacity="0.45" stroke-width="0.8" vector-effect="non-scaling-stroke"/>
<path d="M0 89l23-16 6-2 5 2 2 4 2 10 2 16 1 11 1 15 3 55 2 41 2 49 1 33 2 83 1 29 1 27 1 21 1 9 1-11 2-57 2-96 4-234 1-35 1-19 1-10 3-4 29-10" stroke="#808080" stroke-opacity="0.45" stroke-width="0.8" vector-effect="non-scaling-stroke"/>
<path d="M0 90l5 1 27-14 2 0 2 7 1 6 1 12 1 18 2 40 2 48 3 87 3 116 2 63 1 27 1 16 1-4 1-20 1-39 1-51 2-124 3-156 1-47 1-36 1-18 1-8 1-2 20-4 13-8" stroke="#3CB44B" stroke-opacity="0.45" stroke-width="0.8" vector-effect="non-scaling-stroke"/>
<path d="M0 71l6 4 18-10 10-3 2 4 1 6 1 9 1 18 3 68 2 57 2 66 3 126 2 66 1 23 1 3 1-16 1-32 1-47 3-177 3-151 1-38 1-24 1-9 2-4 19-3 14-7" stroke="#3CB44B" stroke-opacity="0.45" stroke-width="0.8" vector-effect="non-scaling-stroke"/>
<path d="M0 71l3 0 2 3 3 1 26-13 2 1 1 2 1 5 1 8 1 15 2 43 2 49 3 92 3 124 2 67 1 26 1 8 1-13 1-25 1-43 3-171 3-147 1-41 1-32 1-12 1-6 1-2 20-3 12-6" stroke="#3CB44B" stroke-opacity="0.45" stroke-width="0.8" vector-effect="non-scaling-stroke"/>
<path d="M0 78l4 2 26-13 4 1 2 8 1 10 2 35 2 42 2 51 2 59 3 115 1 32 2 58 1 16 1-5 1-19 1-39 1-50 2-120 3-150 1-45 1-33 1-14 1-7 2-2 19-3 14-7" stroke="#3CB44B" stroke-opacity="0.45" stroke-width="0.8" vector-effect="non-scaling-stroke"/>
<path d="M0 107l5 0 3 5 3 0 5-6 12-10 8-4 4 3 1 3 1 6 2 18 1 15 1 18 3 65 2 53 1 38 2 91 2 57 1 13 1-11 2-57 2-94 4-230 1-35 1-18 1-10 1-3 2-2 11-3 17-9" stroke="#4363D8" stroke-opacity="0.45" stroke-width="0.8" vector-effect="non-scaling-stroke"/>
<path d="M0 67l4 0 4 5 3 0 15-12 9-3 3 4 2 6 1 5 2 17 1 11 1 15 4 85 2 53 1 36 2 88 2 55 1 13 1-10 2-62 2-101 3-183 1-45 1-20 1-11 1-3 4-3 13-3 10-5 4 1" stroke="#E6C300" stroke-opacity="0.45" stroke-width="0.8" vector-effect="non-scaling-stroke"/>
<path d="M0 114l3 3 3-1 7-8 14-11 8-2 4 7 2 13 2 20 1 15 2 41 3 69 2 57 1 38 2 97 1 34 1 31 1 23 1 8 1-17 2-71 2-114 4-268 1-33 1-20 1-8 4-5 10-3 16-9" stroke="#4363D8" stroke-opacity="0.45" stroke-width="0.8" vector-effect="non-scaling-stroke"/>
<path d="M0 98l9 3 25-15 1 0 2 8 1 8 1 16 3 66 1 27 3 96 2 87 2 69 1 29 1 12 1-10 1-25 1-44 3-177 3-153 1-40 1-28 1-10 1-4 21-5 14-8" stroke="#3CB44B" stroke-opacity="0.45" stroke-width="0.8" vector-effect="non-scaling-stroke"/>
<path d="M0 111l6-6 22-14 4 0 2 2 2 4 2 11 2 17 1 12 4 73 2 43 2 52 3 121 1 29 1 27 1 20 1 8 1-14 1-28 1-34 1-47 2-112 3-188 1-38 1-20 1-12 3-5 16-5 13-7" stroke="#E6C300" stroke-opacity="0.45" stroke-width="0.8" vector-effect="non-scaling-stroke"/>
<path d="M0 104l6 1 13-7 20-7 2 2 2 6 1 5 2 21 2 31 1 20 2 53 2 61 3 112 1 30 2 42 1 15 1 6 1-12 3-100 2-87 4-232 1-30 1-16 3-4 15-6 9-8" stroke="#E6194B" stroke-opacity="0.45" stroke-width="0.8" vector-effect="non-scaling-stroke"/>
<path d="M0 125l5 0 3 5 3 2 19-20 7-4 4 2 2 8 2 18 1 13 1 19 4 101 2 65 3 152 2 66 1 12 1-15 2-67 2-111 4-271 1-44 1-22 1-14 1-3 4-4 8-2 16-9" stroke="#4363D8" stroke-opacity="0.45" stroke-width="0.8" vector-effect="non-scaling-stroke"/>
<path d="M0 58l4 3 4 0 12-7 14-4 2 8 1 8 1 15 2 44 3 81 2 66 3 127 2 69 1 27 1 8 1-13 1-30 1-46 3-181 3-155 1-37 1-22 1-7 1-3 22-4 9-5 4 0" stroke="#3CB44B" stroke-opacity="0.45" stroke-width="0.8" vector-effect="non-scaling-stroke"/>
<path d="M0 76l12 0 5 4 13-7 12-2 3 4 2 8 1 7 1 12 2 39 1 26 1 34 2 81 3 144 2 55 1 15 1-6 3-102 2-91 3-188 1-51 1-30 1-13 2-3 9-2 16-10" stroke="#E6194B" stroke-opacity="0.45" stroke-width="0.8" vector-effect="non-scaling-stroke"/>
<path d="M0 89l2 0 4 5 3 0 7-7 10-7 10-3 3 4 2 10 2 17 1 13 4 76 2 47 1 30 2 86 2 57 1 19 1 2 1-17 2-58 2-91 4-210 1-26 1-15 1-7 3-4 13-3 15-7" stroke="#F58231" stroke-opacity="0.45" stroke-width="0.8" vector-effect="non-scaling-stroke"/>
<path d="M0 111l3 0 4 6 3 0 17-17 8-4 4 4 2 10 2 19 1 16 3 64 2 50 1 30 1 38 2 98 2 62 1 15 1-9 2-61 2-101 4-249 1-36 1-19 1-10 4-5 8-2 20-10" stroke="#DCBEFF" stroke-opacity="0.45" stroke-width="0.8" vector-effect="non-scaling-stroke"/>
<path d="M0 162l4 8 2 0 8-10 21-32 2 0 2 4 1 3 1 7 1 12 1 17 1 18 1 24 3 106 3 133 3 121 1 28 1 6 1-17 1-30 1-45 4-276 2-122 1-46 1-28 1-20 1-8 2-3 16-5 13-7" stroke="#E6C300" stroke-opacity="0.45" stroke-width="0.8" vector-effect="non-scaling-stroke"/>
<path d="M0 76l4 3 16-7 16-3 4 4 2 7 2 12 2 25 2 35 1 24 4 126 3 119 2 47 1 19 1 11 1-3 2-59 2-71 2-90 3-179 1-43 1-27 1-11 2-3 12-3 13-8" stroke="#E6194B" stroke-opacity="0.45" stroke-width="0.8" vector-effect="non-scaling-stroke"/>
</g>
<rect x="377.5" y="477.7" width="304.8" height="163.5" fill="none" stroke="#555" stroke-width="1"/>
<line x1="388.5" y1="641.2" x2="388.5" y2="645.5" stroke="#555" stroke-width="1"/>
<text x="388.5" y="655.6" text-anchor="middle" class="t">70</text>
<line x1="445.1" y1="641.2" x2="445.1" y2="645.5" stroke="#555" stroke-width="1"/>
<text x="445.1" y="655.6" text-anchor="middle" class="t">75</text>
<line x1="501.7" y1="641.2" x2="501.7" y2="645.5" stroke="#555" stroke-width="1"/>
<text x="501.7" y="655.6" text-anchor="middle" class="t">80</text>
<line x1="558.3" y1="641.2" x2="558.3" y2="645.5" stroke="#555" stroke-width="1"/>
<text x="558.3" y="655.6" text-anchor="middle" class="t">85</text>
<line x1="614.9" y1="641.2" x2="614.9" y2="645.5" stroke="#555" stroke-width="1"/>
<text x="614.9" y="655.6" text-anchor="middle" class="t">90</text>
<line x1="671.5" y1="641.2" x2="671.5" y2="645.5" stroke="#555" stroke-width="1"/>
<text x="671.5" y="655.6" text-anchor="middle" class="t">95</text>
<line x1="377.5" y1="635.4" x2="373.2" y2="635.4" stroke="#555" stroke-width="1"/>
<text transform="translate(368,635.4) rotate(-90)" text-anchor="middle" class="t">0</text>
<line x1="377.5" y1="611.25" x2="373.2" y2="611.25" stroke="#555" stroke-width="1"/>
<text transform="translate(368,611.25) rotate(-90)" text-anchor="middle" class="t">500000</text>
<line x1="377.5" y1="587.1" x2="373.2" y2="587.1" stroke="#555" stroke-width="1"/>
<line x1="377.5" y1="562.95" x2="373.2" y2="562.95" stroke="#555" stroke-width="1"/>
<text transform="translate(368,562.95) rotate(-90)" text-anchor="middle" class="t">1500000</text>
<line x1="377.5" y1="538.8" x2="373.2" y2="538.8" stroke="#555" stroke-width="1"/>
<line x1="377.5" y1="514.65" x2="373.2" y2="514.65" stroke="#555" stroke-width="1"/>
<text transform="translate(368,514.65) rotate(-90)" text-anchor="middle" class="t">2500000</text>
<line x1="377.5" y1="490.5" x2="373.2" y2="490.5" stroke="#555" stroke-width="1"/>
<text x="529.9" y="664.6" text-anchor="middle" class="t">Temperature (°C)</text>
<text x="529.9" y="464.6" text-anchor="middle" class="ti">wzi−4 Applied Biosystem QuantStudio 6 Flex</text>
<circle cx="21.6" cy="692.4" r="3.6" fill="#E6C300"/>
<text x="33" y="696.7" class="lg">Cluster_01</text>
<circle cx="21.6" cy="706.6" r="3.6" fill="#3CB44B"/>
<text x="33" y="710.9" class="lg">Cluster_02</text>
<circle cx="114.5" cy="693" r="3.6" fill="#E6194B"/>
<text x="125.9" y="697.3" class="lg">Cluster_03</text>
<circle cx="114.5" cy="707.2" r="3.6" fill="#4363D8"/>
<text x="125.9" y="711.5" class="lg">Cluster_04</text>
<circle cx="213.0" cy="693.3" r="3.6" fill="#F58231"/>
<text x="224.4" y="697.6" class="lg">Cluster_05</text>
<circle cx="213.0" cy="707.5" r="3.6" fill="#FABEBE"/>
<text x="224.4" y="711.8" class="lg">Cluster_06</text>
<circle cx="306.6" cy="694.3" r="3.6" fill="#911EB4"/>
<text x="318" y="698.6" class="lg">Cluster_07</text>
<circle cx="306.6" cy="708.5" r="3.6" fill="#DCBEFF"/>
<text x="318" y="712.8" class="lg">Cluster_08</text>
<circle cx="404.5" cy="694.9" r="3.6" fill="#42D4F4"/>
<text x="415.9" y="699.2" class="lg">Cluster_09</text>
<circle cx="404.5" cy="709.1" r="3.6" fill="#F032E6"/>
<text x="415.9" y="713.4" class="lg">Cluster_10</text>
<circle cx="498.6" cy="695.4" r="3.6" fill="#BFEF45"/>
<text x="510" y="699.7" class="lg">Cluster_11</text>
<circle cx="498.6" cy="709.6" r="3.6" fill="#469990"/>
<text x="510" y="713.9" class="lg">Cluster_12</text>
<circle cx="589.9" cy="711.1" r="3.6" fill="#808080"/>
<text x="600.8" y="715.4" class="lg">Undetermined</text>
</svg></body></html>
